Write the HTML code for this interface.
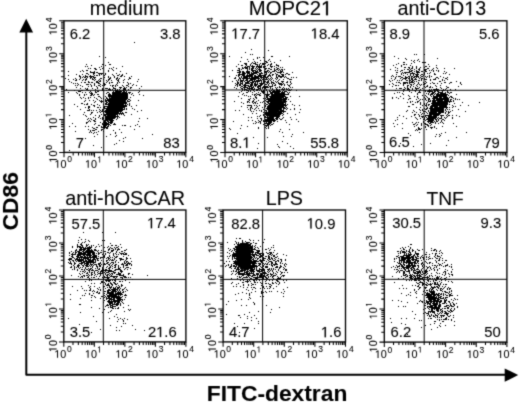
<!DOCTYPE html><html><head><meta charset="utf-8"><style>html,body{margin:0;padding:0;background:#fff;overflow:hidden;}svg{display:block;will-change:transform;}text{font-family:"Liberation Sans",sans-serif;fill:#000;stroke:#000;stroke-width:0.1px;}</style></head><body>
<svg width="520" height="403" viewBox="0 0 520 403">
<defs><filter id="bl" x="0" y="0" width="520" height="403" filterUnits="userSpaceOnUse"><feConvolveMatrix order="3" kernelMatrix="1 4 1 4 20 4 1 4 1" divisor="40" edgeMode="none"/></filter><path id="g1" d="M515 0V1237L197 1010V1180L530 1409H696V0Z" stroke="#000" stroke-width="25" stroke-linejoin="miter"/><path id="g1s" d="M515 0V1237L197 1010V1180L530 1409H696V0Z" stroke="#000" stroke-width="12"/></defs>
<g filter="url(#bl)">
<path d="M26.3 30 V374.8 H506" fill="none" stroke="#000" stroke-width="2" stroke-linejoin="round"/>
<polygon points="26.2,18.7 33.1,32.5 19.3,32.5" fill="#000"/>
<polygon points="518.2,375 504.7,368.4 504.7,381.8" fill="#000"/>
<text x="0" y="0" font-size="22.8" font-weight="bold" transform="translate(18.4,230.4) rotate(-90)">CD86</text>
<text x="206.74" y="401.1" font-size="22.8" font-weight="bold">FITC-dextran</text>
<path fill="#000" d="M113 98h1v1h-1zM106 114h1v1h-1zM119 92h1v1h-1zM115 103h1v1h-1zM109 119h1v1h-1zM113 94h1v1h-1zM114 97h1v1h-1zM119 106h1v1h-1zM118 106h1v1h-1zM107 116h1v1h-1zM114 93h1v1h-1zM108 110h1v1h-1zM119 93h1v1h-1zM119 109h1v1h-1zM108 116h1v1h-1zM113 112h1v1h-1zM118 109h1v1h-1zM115 99h1v1h-1zM123 101h1v1h-1zM116 108h1v1h-1zM111 116h1v1h-1zM111 114h1v1h-1zM112 101h1v1h-1zM121 95h1v1h-1zM123 95h1v1h-1zM116 106h1v1h-1zM115 98h1v1h-1zM106 118h1v1h-1zM109 104h1v1h-1zM113 111h1v1h-1zM106 119h1v1h-1zM121 94h1v1h-1zM120 104h1v1h-1zM114 98h1v1h-1zM122 96h1v1h-1zM115 116h1v1h-1zM113 96h1v1h-1zM122 93h1v1h-1zM123 102h1v1h-1zM113 99h1v1h-1zM109 114h1v1h-1zM110 113h1v1h-1zM127 101h1v1h-1zM108 123h1v1h-1zM105 118h1v1h-1zM125 96h1v1h-1zM107 120h1v1h-1zM120 93h1v1h-1zM109 120h1v1h-1zM117 97h1v1h-1zM117 93h1v1h-1zM108 103h1v1h-1zM108 109h1v1h-1zM112 113h1v1h-1zM118 99h1v1h-1zM105 126h1v1h-1zM111 110h1v1h-1zM108 111h1v1h-1zM114 102h1v1h-1zM112 95h1v1h-1zM112 115h1v1h-1zM113 97h1v1h-1zM117 111h1v1h-1zM119 91h1v1h-1zM117 112h1v1h-1zM114 114h1v1h-1zM117 94h1v1h-1zM119 107h1v1h-1zM123 107h1v1h-1zM115 109h1v1h-1zM112 117h1v1h-1zM113 109h1v1h-1zM124 98h1v1h-1zM122 101h1v1h-1zM118 111h1v1h-1zM119 95h1v1h-1zM108 114h1v1h-1zM125 93h1v1h-1zM105 117h1v1h-1zM126 92h1v1h-1zM120 96h1v1h-1zM120 112h1v1h-1zM121 104h1v1h-1zM115 110h1v1h-1zM117 98h1v1h-1zM110 120h1v1h-1zM119 97h1v1h-1zM121 101h1v1h-1zM115 115h1v1h-1zM107 113h1v1h-1zM124 92h1v1h-1zM112 110h1v1h-1zM113 118h1v1h-1zM122 106h1v1h-1zM109 117h1v1h-1zM124 102h1v1h-1zM109 110h1v1h-1zM115 93h1v1h-1zM105 125h1v1h-1zM127 95h1v1h-1zM122 110h1v1h-1zM110 121h1v1h-1zM112 116h1v1h-1zM112 105h1v1h-1zM127 94h1v1h-1zM109 105h1v1h-1zM105 119h1v1h-1zM110 106h1v1h-1zM110 103h1v1h-1zM112 107h1v1h-1zM111 120h1v1h-1zM111 108h1v1h-1zM111 105h1v1h-1zM117 108h1v1h-1zM112 94h1v1h-1zM124 93h1v1h-1zM120 99h1v1h-1zM111 117h1v1h-1zM116 95h1v1h-1zM118 98h1v1h-1zM112 108h1v1h-1zM119 114h1v1h-1zM110 109h1v1h-1zM122 109h1v1h-1zM124 99h1v1h-1zM106 120h1v1h-1zM120 97h1v1h-1zM110 111h1v1h-1zM112 111h1v1h-1zM117 101h1v1h-1zM114 100h1v1h-1zM117 114h1v1h-1zM125 103h1v1h-1zM109 113h1v1h-1zM114 106h1v1h-1zM126 98h1v1h-1zM124 100h1v1h-1zM120 109h1v1h-1zM126 97h1v1h-1zM106 123h1v1h-1zM111 100h1v1h-1zM113 102h1v1h-1zM112 98h1v1h-1zM106 109h1v1h-1zM107 124h1v1h-1zM122 100h1v1h-1zM110 100h1v1h-1zM109 101h1v1h-1zM120 102h1v1h-1zM120 108h1v1h-1zM111 115h1v1h-1zM116 93h1v1h-1zM125 102h1v1h-1zM118 104h1v1h-1zM117 102h1v1h-1zM120 95h1v1h-1zM107 115h1v1h-1zM122 95h1v1h-1zM106 117h1v1h-1zM118 110h1v1h-1zM113 114h1v1h-1zM116 94h1v1h-1zM117 103h1v1h-1zM118 103h1v1h-1zM114 108h1v1h-1zM112 97h1v1h-1zM122 92h1v1h-1zM113 113h1v1h-1zM127 93h1v1h-1zM124 105h1v1h-1zM121 91h1v1h-1zM119 98h1v1h-1zM107 126h1v1h-1zM111 103h1v1h-1zM122 102h1v1h-1zM117 113h1v1h-1zM117 107h1v1h-1zM112 106h1v1h-1zM108 107h1v1h-1zM108 117h1v1h-1zM115 94h1v1h-1zM126 102h1v1h-1zM116 111h1v1h-1zM119 110h1v1h-1zM118 107h1v1h-1zM117 100h1v1h-1zM120 111h1v1h-1zM113 93h1v1h-1zM112 112h1v1h-1zM116 113h1v1h-1zM124 101h1v1h-1zM105 127h1v1h-1zM119 108h1v1h-1zM124 91h1v1h-1zM115 114h1v1h-1zM109 99h1v1h-1zM116 114h1v1h-1zM114 107h1v1h-1zM114 110h1v1h-1zM107 118h1v1h-1zM116 101h1v1h-1zM105 124h1v1h-1zM126 96h1v1h-1zM111 104h1v1h-1zM120 105h1v1h-1zM109 111h1v1h-1zM116 98h1v1h-1zM114 103h1v1h-1zM127 97h1v1h-1zM113 105h1v1h-1zM121 100h1v1h-1zM120 103h1v1h-1zM125 101h1v1h-1zM111 122h1v1h-1zM117 116h1v1h-1zM110 115h1v1h-1zM116 116h1v1h-1zM124 103h1v1h-1zM122 104h1v1h-1zM112 103h1v1h-1zM116 91h1v1h-1zM119 100h1v1h-1zM108 106h1v1h-1zM107 114h1v1h-1zM118 102h1v1h-1zM116 103h1v1h-1zM122 98h1v1h-1zM125 97h1v1h-1zM116 110h1v1h-1zM123 105h1v1h-1zM118 101h1v1h-1zM112 100h1v1h-1zM121 93h1v1h-1zM124 97h1v1h-1zM116 100h1v1h-1zM117 109h1v1h-1zM116 109h1v1h-1zM108 105h1v1h-1zM119 102h1v1h-1zM115 104h1v1h-1zM118 105h1v1h-1zM123 98h1v1h-1zM128 101h1v1h-1zM123 90h1v1h-1zM109 115h1v1h-1zM112 102h1v1h-1zM110 112h1v1h-1zM120 100h1v1h-1zM110 105h1v1h-1zM116 92h1v1h-1zM108 112h1v1h-1zM124 95h1v1h-1zM118 91h1v1h-1zM110 116h1v1h-1zM121 106h1v1h-1zM125 92h1v1h-1zM120 92h1v1h-1zM125 99h1v1h-1zM105 123h1v1h-1zM112 109h1v1h-1zM118 100h1v1h-1zM121 107h1v1h-1zM111 118h1v1h-1zM105 122h1v1h-1zM114 112h1v1h-1zM114 92h1v1h-1zM112 114h1v1h-1zM123 103h1v1h-1zM122 97h1v1h-1zM108 121h1v1h-1zM121 99h1v1h-1zM124 106h1v1h-1zM108 108h1v1h-1zM118 94h1v1h-1zM116 96h1v1h-1zM105 115h1v1h-1zM122 90h1v1h-1zM126 94h1v1h-1zM113 117h1v1h-1zM113 103h1v1h-1zM121 109h1v1h-1zM115 105h1v1h-1zM112 104h1v1h-1zM117 92h1v1h-1zM123 97h1v1h-1zM114 99h1v1h-1zM111 98h1v1h-1zM110 107h1v1h-1zM114 118h1v1h-1zM112 118h1v1h-1zM123 104h1v1h-1zM123 93h1v1h-1zM119 105h1v1h-1zM112 120h1v1h-1zM121 110h1v1h-1zM123 94h1v1h-1zM109 102h1v1h-1zM124 94h1v1h-1zM121 105h1v1h-1zM123 96h1v1h-1zM109 116h1v1h-1zM111 109h1v1h-1zM111 97h1v1h-1zM117 95h1v1h-1zM114 116h1v1h-1zM121 108h1v1h-1zM119 96h1v1h-1zM115 96h1v1h-1zM114 115h1v1h-1zM112 119h1v1h-1zM115 112h1v1h-1zM109 107h1v1h-1zM109 122h1v1h-1zM119 103h1v1h-1zM112 92h1v1h-1zM110 118h1v1h-1zM121 98h1v1h-1zM123 100h1v1h-1zM106 124h1v1h-1zM124 96h1v1h-1zM126 93h1v1h-1zM117 91h1v1h-1zM108 118h1v1h-1zM122 94h1v1h-1zM116 104h1v1h-1zM107 121h1v1h-1zM119 101h1v1h-1zM107 123h1v1h-1zM109 108h1v1h-1zM111 112h1v1h-1zM113 115h1v1h-1zM111 123h1v1h-1zM124 108h1v1h-1zM106 113h1v1h-1zM120 101h1v1h-1zM111 121h1v1h-1zM123 99h1v1h-1zM111 95h1v1h-1zM110 98h1v1h-1zM117 99h1v1h-1zM114 101h1v1h-1zM107 111h1v1h-1zM125 95h1v1h-1zM126 95h1v1h-1zM113 106h1v1h-1zM107 109h1v1h-1zM114 96h1v1h-1zM123 106h1v1h-1zM109 106h1v1h-1zM109 118h1v1h-1zM106 112h1v1h-1zM115 108h1v1h-1zM114 104h1v1h-1zM112 93h1v1h-1zM114 94h1v1h-1zM117 96h1v1h-1zM121 102h1v1h-1zM104 126h1v1h-1zM110 104h1v1h-1zM117 110h1v1h-1zM106 122h1v1h-1zM126 103h1v1h-1zM123 91h1v1h-1zM119 104h1v1h-1zM120 110h1v1h-1zM119 113h1v1h-1zM125 106h1v1h-1zM107 119h1v1h-1zM115 95h1v1h-1zM111 111h1v1h-1zM117 115h1v1h-1zM110 96h1v1h-1zM109 103h1v1h-1zM119 111h1v1h-1zM111 107h1v1h-1zM114 113h1v1h-1zM125 105h1v1h-1zM123 92h1v1h-1zM110 102h1v1h-1zM121 103h1v1h-1zM105 116h1v1h-1zM122 105h1v1h-1zM106 110h1v1h-1zM111 101h1v1h-1zM109 97h1v1h-1zM107 112h1v1h-1zM117 106h1v1h-1zM115 92h1v1h-1zM104 122h1v1h-1zM125 100h1v1h-1zM113 91h1v1h-1zM114 109h1v1h-1zM110 108h1v1h-1zM114 95h1v1h-1zM113 116h1v1h-1zM116 112h1v1h-1zM106 125h1v1h-1zM109 112h1v1h-1zM120 94h1v1h-1zM115 113h1v1h-1zM118 95h1v1h-1zM125 94h1v1h-1zM117 104h1v1h-1zM122 99h1v1h-1zM112 96h1v1h-1zM128 99h1v1h-1zM108 124h1v1h-1zM110 119h1v1h-1zM118 112h1v1h-1zM113 101h1v1h-1zM103 126h1v1h-1zM116 102h1v1h-1zM118 93h1v1h-1zM112 99h1v1h-1zM113 107h1v1h-1zM104 123h1v1h-1zM115 107h1v1h-1zM127 98h1v1h-1zM126 91h1v1h-1zM113 95h1v1h-1zM119 94h1v1h-1zM109 109h1v1h-1zM104 114h1v1h-1zM125 104h1v1h-1zM104 120h1v1h-1zM108 122h1v1h-1zM107 100h1v1h-1zM108 95h1v1h-1zM107 108h1v1h-1zM108 104h1v1h-1zM124 109h1v1h-1zM105 104h1v1h-1zM109 124h1v1h-1zM110 114h1v1h-1zM110 122h1v1h-1zM129 105h1v1h-1zM125 90h1v1h-1zM108 99h1v1h-1zM121 113h1v1h-1zM110 90h1v1h-1zM102 111h1v1h-1zM103 113h1v1h-1zM127 100h1v1h-1zM106 108h1v1h-1zM121 97h1v1h-1zM122 103h1v1h-1zM108 94h1v1h-1zM114 117h1v1h-1zM115 91h1v1h-1zM108 126h1v1h-1zM121 114h1v1h-1zM131 94h1v1h-1zM122 108h1v1h-1zM116 90h1v1h-1zM118 116h1v1h-1zM120 88h1v1h-1zM111 99h1v1h-1zM113 110h1v1h-1zM125 89h1v1h-1zM108 125h1v1h-1zM120 91h1v1h-1zM109 93h1v1h-1zM102 118h1v1h-1zM103 122h1v1h-1zM112 121h1v1h-1zM101 127h1v1h-1zM113 104h1v1h-1zM113 120h1v1h-1zM128 92h1v1h-1zM101 111h1v1h-1zM105 106h1v1h-1zM103 124h1v1h-1zM126 109h1v1h-1zM126 108h1v1h-1zM102 110h1v1h-1zM107 117h1v1h-1zM124 87h1v1h-1zM121 87h1v1h-1zM127 104h1v1h-1zM106 111h1v1h-1zM102 129h1v1h-1zM104 106h1v1h-1zM106 127h1v1h-1zM103 131h1v1h-1zM116 99h1v1h-1zM125 98h1v1h-1zM128 89h1v1h-1zM115 86h1v1h-1zM117 117h1v1h-1zM108 100h1v1h-1zM101 126h1v1h-1zM102 119h1v1h-1zM107 106h1v1h-1zM117 118h1v1h-1zM128 86h1v1h-1zM115 117h1v1h-1zM108 96h1v1h-1zM101 129h1v1h-1zM104 128h1v1h-1zM119 117h1v1h-1zM115 88h1v1h-1zM123 114h1v1h-1zM133 95h1v1h-1zM102 117h1v1h-1zM103 125h1v1h-1zM129 92h1v1h-1zM106 101h1v1h-1zM104 127h1v1h-1zM116 119h1v1h-1zM109 100h1v1h-1zM115 101h1v1h-1zM111 106h1v1h-1zM106 102h1v1h-1zM115 100h1v1h-1zM123 113h1v1h-1zM117 90h1v1h-1zM104 115h1v1h-1zM113 92h1v1h-1zM112 122h1v1h-1zM115 111h1v1h-1zM123 88h1v1h-1zM123 89h1v1h-1zM121 111h1v1h-1zM120 113h1v1h-1zM108 119h1v1h-1zM104 124h1v1h-1zM115 90h1v1h-1zM107 102h1v1h-1zM118 113h1v1h-1zM117 89h1v1h-1zM102 109h1v1h-1zM126 106h1v1h-1zM129 99h1v1h-1zM127 96h1v1h-1zM101 114h1v1h-1zM112 89h1v1h-1zM106 103h1v1h-1zM100 122h1v1h-1zM126 105h1v1h-1zM114 124h1v1h-1zM126 87h1v1h-1zM129 101h1v1h-1zM105 100h1v1h-1zM130 87h1v1h-1zM126 99h1v1h-1zM107 104h1v1h-1zM119 89h1v1h-1zM102 123h1v1h-1zM124 88h1v1h-1zM103 112h1v1h-1zM111 119h1v1h-1zM129 103h1v1h-1zM103 127h1v1h-1zM129 104h1v1h-1zM104 121h1v1h-1zM107 107h1v1h-1zM122 107h1v1h-1zM104 125h1v1h-1zM108 89h1v1h-1zM124 107h1v1h-1zM130 92h1v1h-1zM125 88h1v1h-1zM122 112h1v1h-1zM107 128h1v1h-1zM107 88h1v1h-1zM106 128h1v1h-1zM105 108h1v1h-1zM103 107h1v1h-1zM110 94h1v1h-1zM103 104h1v1h-1zM130 97h1v1h-1zM120 90h1v1h-1zM106 93h1v1h-1zM105 121h1v1h-1zM109 96h1v1h-1zM102 127h1v1h-1zM104 107h1v1h-1zM110 89h1v1h-1zM106 106h1v1h-1zM102 124h1v1h-1zM129 93h1v1h-1zM124 89h1v1h-1zM122 113h1v1h-1zM106 97h1v1h-1zM123 109h1v1h-1zM100 118h1v1h-1zM107 92h1v1h-1zM106 104h1v1h-1zM109 94h1v1h-1zM107 98h1v1h-1zM105 111h1v1h-1zM106 116h1v1h-1zM107 99h1v1h-1zM106 98h1v1h-1zM105 114h1v1h-1zM104 111h1v1h-1zM105 120h1v1h-1zM106 100h1v1h-1zM105 110h1v1h-1zM105 99h1v1h-1zM105 103h1v1h-1zM108 101h1v1h-1zM103 109h1v1h-1zM105 112h1v1h-1zM104 108h1v1h-1zM105 96h1v1h-1zM109 98h1v1h-1zM105 101h1v1h-1zM108 92h1v1h-1zM107 110h1v1h-1zM80 85h1v1h-1zM99 81h1v1h-1zM85 79h1v1h-1zM97 88h1v1h-1zM90 72h1v1h-1zM68 79h1v1h-1zM94 77h1v1h-1zM79 79h1v1h-1zM75 78h1v1h-1zM99 73h1v1h-1zM68 71h1v1h-1zM76 87h1v1h-1zM80 78h1v1h-1zM102 73h1v1h-1zM95 69h1v1h-1zM86 76h1v1h-1zM108 76h1v1h-1zM79 75h1v1h-1zM76 92h1v1h-1zM94 73h1v1h-1zM97 91h1v1h-1zM88 68h1v1h-1zM82 90h1v1h-1zM93 74h1v1h-1zM96 86h1v1h-1zM76 79h1v1h-1zM90 68h1v1h-1zM91 76h1v1h-1zM84 77h1v1h-1zM91 77h1v1h-1zM97 72h1v1h-1zM76 80h1v1h-1zM80 71h1v1h-1zM82 86h1v1h-1zM86 84h1v1h-1zM99 67h1v1h-1zM98 82h1v1h-1zM92 76h1v1h-1zM93 79h1v1h-1zM93 73h1v1h-1zM104 77h1v1h-1zM100 86h1v1h-1zM104 75h1v1h-1zM92 79h1v1h-1zM86 70h1v1h-1zM94 80h1v1h-1zM85 75h1v1h-1zM92 72h1v1h-1zM66 89h1v1h-1zM87 84h1v1h-1zM83 79h1v1h-1zM85 92h1v1h-1zM98 80h1v1h-1zM96 69h1v1h-1zM99 74h1v1h-1zM85 88h1v1h-1zM75 85h1v1h-1zM91 92h1v1h-1zM96 98h1v1h-1zM92 88h1v1h-1zM82 70h1v1h-1zM97 75h1v1h-1zM71 82h1v1h-1zM87 70h1v1h-1zM80 76h1v1h-1zM83 71h1v1h-1zM100 69h1v1h-1zM100 73h1v1h-1zM90 77h1v1h-1zM111 68h1v1h-1zM88 74h1v1h-1zM90 71h1v1h-1zM104 85h1v1h-1zM85 82h1v1h-1zM86 79h1v1h-1zM99 79h1v1h-1zM78 91h1v1h-1zM82 77h1v1h-1zM69 81h1v1h-1zM109 68h1v1h-1zM83 76h1v1h-1zM94 75h1v1h-1zM80 91h1v1h-1zM108 71h1v1h-1zM77 83h1v1h-1zM85 80h1v1h-1zM108 62h1v1h-1zM94 72h1v1h-1zM92 94h1v1h-1zM101 73h1v1h-1zM90 75h1v1h-1zM95 89h1v1h-1zM87 88h1v1h-1zM81 82h1v1h-1zM79 76h1v1h-1zM80 77h1v1h-1zM87 89h1v1h-1zM94 84h1v1h-1zM92 82h1v1h-1zM91 86h1v1h-1zM91 82h1v1h-1zM88 82h1v1h-1zM96 75h1v1h-1zM93 77h1v1h-1zM101 66h1v1h-1zM86 78h1v1h-1zM105 57h1v1h-1zM86 64h1v1h-1zM92 78h1v1h-1zM95 68h1v1h-1zM88 86h1v1h-1zM95 79h1v1h-1zM100 84h1v1h-1zM97 87h1v1h-1zM96 82h1v1h-1zM75 80h1v1h-1zM102 64h1v1h-1zM91 85h1v1h-1zM68 92h1v1h-1zM99 56h1v1h-1zM93 72h1v1h-1zM93 76h1v1h-1zM89 82h1v1h-1zM93 95h1v1h-1zM97 81h1v1h-1zM109 64h1v1h-1zM102 89h1v1h-1zM100 78h1v1h-1zM90 76h1v1h-1zM80 88h1v1h-1zM90 84h1v1h-1zM95 77h1v1h-1zM91 72h1v1h-1zM87 73h1v1h-1zM75 83h1v1h-1zM79 91h1v1h-1zM76 74h1v1h-1zM65 78h1v1h-1zM81 90h1v1h-1zM98 73h1v1h-1zM77 85h1v1h-1zM73 79h1v1h-1zM94 85h1v1h-1zM94 83h1v1h-1zM90 78h1v1h-1zM87 66h1v1h-1zM88 81h1v1h-1zM95 91h1v1h-1zM84 95h1v1h-1zM86 73h1v1h-1zM79 95h1v1h-1zM86 89h1v1h-1zM88 84h1v1h-1zM105 65h1v1h-1zM94 78h1v1h-1zM122 66h1v1h-1zM87 76h1v1h-1zM91 65h1v1h-1zM102 68h1v1h-1zM94 102h1v1h-1zM94 71h1v1h-1zM124 79h1v1h-1zM113 67h1v1h-1zM103 64h1v1h-1zM96 81h1v1h-1zM98 83h1v1h-1zM94 68h1v1h-1zM105 73h1v1h-1zM105 74h1v1h-1zM85 77h1v1h-1zM117 78h1v1h-1zM82 80h1v1h-1zM98 85h1v1h-1zM117 77h1v1h-1zM103 67h1v1h-1zM87 77h1v1h-1zM100 81h1v1h-1zM85 76h1v1h-1zM116 68h1v1h-1zM116 84h1v1h-1zM74 90h1v1h-1zM90 93h1v1h-1zM103 79h1v1h-1zM73 83h1v1h-1zM109 83h1v1h-1zM90 91h1v1h-1zM89 76h1v1h-1zM110 64h1v1h-1zM78 84h1v1h-1zM85 66h1v1h-1zM108 79h1v1h-1zM120 87h1v1h-1zM99 85h1v1h-1zM82 74h1v1h-1zM68 75h1v1h-1zM84 82h1v1h-1zM117 85h1v1h-1zM97 82h1v1h-1zM114 76h1v1h-1zM130 83h1v1h-1zM119 87h1v1h-1zM109 89h1v1h-1zM128 79h1v1h-1zM110 78h1v1h-1zM109 88h1v1h-1zM129 78h1v1h-1zM126 85h1v1h-1zM111 82h1v1h-1zM96 72h1v1h-1zM118 80h1v1h-1zM118 79h1v1h-1zM101 78h1v1h-1zM126 73h1v1h-1zM119 78h1v1h-1zM109 78h1v1h-1zM113 87h1v1h-1zM116 79h1v1h-1zM109 82h1v1h-1zM113 70h1v1h-1zM113 88h1v1h-1zM123 82h1v1h-1zM101 74h1v1h-1zM114 88h1v1h-1zM104 83h1v1h-1zM118 75h1v1h-1zM102 88h1v1h-1zM131 76h1v1h-1zM118 81h1v1h-1zM104 84h1v1h-1zM117 80h1v1h-1zM119 82h1v1h-1zM108 80h1v1h-1zM110 77h1v1h-1zM121 75h1v1h-1zM141 86h1v1h-1zM117 82h1v1h-1zM114 77h1v1h-1zM120 76h1v1h-1zM130 88h1v1h-1zM115 89h1v1h-1zM105 88h1v1h-1zM102 90h1v1h-1zM105 84h1v1h-1zM137 81h1v1h-1zM116 78h1v1h-1zM102 85h1v1h-1zM110 95h1v1h-1zM117 83h1v1h-1zM112 82h1v1h-1zM112 69h1v1h-1zM129 77h1v1h-1zM127 82h1v1h-1zM99 75h1v1h-1zM103 83h1v1h-1zM107 81h1v1h-1zM112 85h1v1h-1zM117 75h1v1h-1zM123 86h1v1h-1zM92 93h1v1h-1zM120 71h1v1h-1zM108 77h1v1h-1zM113 75h1v1h-1zM128 83h1v1h-1zM121 76h1v1h-1zM106 90h1v1h-1zM123 80h1v1h-1zM115 85h1v1h-1zM106 82h1v1h-1zM112 86h1v1h-1zM106 88h1v1h-1zM116 73h1v1h-1zM109 79h1v1h-1zM99 83h1v1h-1zM122 75h1v1h-1zM112 74h1v1h-1zM127 85h1v1h-1zM124 76h1v1h-1zM110 85h1v1h-1zM108 70h1v1h-1zM109 95h1v1h-1zM111 80h1v1h-1zM100 80h1v1h-1zM106 80h1v1h-1zM113 85h1v1h-1zM122 85h1v1h-1zM97 127h1v1h-1zM94 136h1v1h-1zM88 106h1v1h-1zM85 98h1v1h-1zM102 101h1v1h-1zM95 115h1v1h-1zM95 123h1v1h-1zM77 93h1v1h-1zM87 103h1v1h-1zM85 107h1v1h-1zM99 111h1v1h-1zM103 98h1v1h-1zM96 127h1v1h-1zM93 130h1v1h-1zM99 100h1v1h-1zM93 100h1v1h-1zM96 132h1v1h-1zM95 119h1v1h-1zM94 132h1v1h-1zM100 110h1v1h-1zM83 97h1v1h-1zM88 126h1v1h-1zM93 133h1v1h-1zM100 112h1v1h-1zM99 125h1v1h-1zM101 102h1v1h-1zM85 115h1v1h-1zM80 97h1v1h-1zM89 106h1v1h-1zM88 107h1v1h-1zM96 110h1v1h-1zM87 104h1v1h-1zM88 118h1v1h-1zM96 92h1v1h-1zM91 94h1v1h-1zM84 112h1v1h-1zM100 97h1v1h-1zM95 101h1v1h-1zM99 105h1v1h-1zM84 94h1v1h-1zM90 118h1v1h-1zM85 100h1v1h-1zM91 104h1v1h-1zM95 118h1v1h-1zM96 129h1v1h-1zM89 92h1v1h-1zM87 110h1v1h-1zM89 110h1v1h-1zM88 108h1v1h-1zM92 112h1v1h-1zM101 100h1v1h-1zM98 125h1v1h-1zM94 105h1v1h-1zM97 94h1v1h-1zM94 97h1v1h-1zM88 129h1v1h-1zM98 107h1v1h-1zM94 120h1v1h-1zM97 99h1v1h-1zM95 129h1v1h-1zM94 124h1v1h-1zM94 128h1v1h-1zM82 103h1v1h-1zM93 117h1v1h-1zM86 122h1v1h-1zM89 120h1v1h-1zM90 130h1v1h-1zM97 104h1v1h-1zM91 93h1v1h-1zM90 131h1v1h-1zM93 120h1v1h-1zM99 109h1v1h-1zM98 94h1v1h-1zM91 119h1v1h-1zM103 118h1v1h-1zM86 123h1v1h-1zM89 107h1v1h-1zM83 114h1v1h-1zM94 94h1v1h-1zM86 94h1v1h-1zM90 95h1v1h-1zM91 113h1v1h-1zM88 110h1v1h-1zM84 104h1v1h-1zM98 117h1v1h-1zM101 98h1v1h-1zM82 92h1v1h-1zM81 98h1v1h-1zM89 109h1v1h-1zM91 132h1v1h-1zM81 103h1v1h-1zM89 100h1v1h-1zM90 114h1v1h-1zM87 122h1v1h-1zM90 121h1v1h-1zM95 92h1v1h-1zM89 132h1v1h-1zM88 98h1v1h-1zM100 101h1v1h-1zM84 101h1v1h-1zM97 112h1v1h-1zM101 101h1v1h-1zM99 115h1v1h-1zM91 95h1v1h-1zM88 97h1v1h-1zM98 96h1v1h-1zM97 107h1v1h-1zM86 104h1v1h-1zM99 96h1v1h-1zM79 94h1v1h-1zM93 105h1v1h-1zM91 110h1v1h-1zM98 131h1v1h-1zM94 130h1v1h-1zM92 127h1v1h-1zM88 121h1v1h-1zM98 91h1v1h-1zM86 116h1v1h-1zM88 90h1v1h-1zM91 112h1v1h-1zM106 136h1v1h-1zM147 118h1v1h-1zM122 125h1v1h-1zM115 136h1v1h-1zM114 144h1v1h-1zM113 124h1v1h-1zM124 125h1v1h-1zM137 124h1v1h-1zM115 124h1v1h-1zM115 133h1v1h-1zM130 126h1v1h-1zM123 141h1v1h-1zM139 126h1v1h-1zM101 147h1v1h-1zM137 111h1v1h-1zM121 132h1v1h-1zM116 135h1v1h-1zM95 121h1v1h-1zM125 125h1v1h-1zM125 112h1v1h-1zM138 121h1v1h-1zM139 88h1v1h-1zM114 123h1v1h-1zM152 134h1v1h-1zM110 134h1v1h-1zM124 115h1v1h-1zM107 127h1v1h-1zM94 121h1v1h-1zM113 130h1v1h-1zM123 138h1v1h-1zM134 129h1v1h-1zM110 125h1v1h-1zM125 137h1v1h-1zM119 140h1v1h-1zM119 129h1v1h-1zM99 116h1v1h-1zM110 123h1v1h-1zM135 125h1v1h-1zM139 118h1v1h-1zM97 134h1v1h-1zM142 138h1v1h-1zM143 95h1v1h-1zM132 85h1v1h-1zM136 105h1v1h-1zM138 100h1v1h-1zM131 106h1v1h-1zM131 114h1v1h-1zM118 92h1v1h-1zM131 87h1v1h-1zM130 78h1v1h-1zM119 74h1v1h-1zM138 79h1v1h-1zM128 84h1v1h-1zM138 92h1v1h-1zM139 91h1v1h-1zM126 112h1v1h-1zM122 74h1v1h-1zM132 108h1v1h-1zM132 93h1v1h-1zM130 100h1v1h-1zM133 84h1v1h-1zM134 109h1v1h-1zM141 110h1v1h-1zM136 85h1v1h-1zM139 94h1v1h-1zM93 128h1v1h-1zM87 119h1v1h-1zM100 107h1v1h-1zM80 109h1v1h-1zM115 132h1v1h-1zM90 97h1v1h-1zM75 131h1v1h-1zM94 106h1v1h-1zM85 138h1v1h-1zM72 123h1v1h-1zM69 115h1v1h-1zM93 145h1v1h-1zM116 143h1v1h-1zM74 104h1v1h-1zM85 126h1v1h-1zM101 130h1v1h-1zM93 110h1v1h-1zM69 150h1v1h-1zM77 106h1v1h-1zM75 126h1v1h-1zM92 130h1v1h-1zM69 126h1v1h-1zM134 42h1v1h-1z"/><polygon fill="#000" points="114,92.5 125,92.5 125.5,100 122.5,106.5 117,112 111,118.5 107,122 106.5,114 109,102 111,96"/>
<rect x="64" y="20.8" width="121.8" height="131.6" fill="none" stroke="#000" stroke-width="1.35"/>
<path d="M103.7 20.8 V152.4 M64 90.3 H185.8" stroke="#000" stroke-width="1" fill="none"/>
<path d="M64 152.4 v4.8 M64 152.4 h-4.8 M73.17 152.4 v3.0 M64 142.5 h-3.0 M78.53 152.4 v3.0 M64 136.7 h-3.0 M82.33 152.4 v3.0 M64 132.59 h-3.0 M85.28 152.4 v3.0 M64 129.4 h-3.0 M87.69 152.4 v3.0 M64 126.8 h-3.0 M89.73 152.4 v3.0 M64 124.6 h-3.0 M91.5 152.4 v3.0 M64 122.69 h-3.0 M93.06 152.4 v3.0 M64 121.01 h-3.0 M94.45 152.4 v4.8 M64 119.5 h-4.8 M103.62 152.4 v3.0 M64 109.6 h-3.0 M108.98 152.4 v3.0 M64 103.8 h-3.0 M112.78 152.4 v3.0 M64 99.69 h-3.0 M115.73 152.4 v3.0 M64 96.5 h-3.0 M118.14 152.4 v3.0 M64 93.9 h-3.0 M120.18 152.4 v3.0 M64 91.7 h-3.0 M121.95 152.4 v3.0 M64 89.79 h-3.0 M123.51 152.4 v3.0 M64 88.11 h-3.0 M124.9 152.4 v4.8 M64 86.6 h-4.8 M134.07 152.4 v3.0 M64 76.7 h-3.0 M139.43 152.4 v3.0 M64 70.9 h-3.0 M143.23 152.4 v3.0 M64 66.79 h-3.0 M146.18 152.4 v3.0 M64 63.6 h-3.0 M148.59 152.4 v3.0 M64 61 h-3.0 M150.63 152.4 v3.0 M64 58.8 h-3.0 M152.4 152.4 v3.0 M64 56.89 h-3.0 M153.96 152.4 v3.0 M64 55.21 h-3.0 M155.35 152.4 v4.8 M64 53.7 h-4.8 M164.52 152.4 v3.0 M64 43.8 h-3.0 M169.88 152.4 v3.0 M64 38 h-3.0 M173.68 152.4 v3.0 M64 33.89 h-3.0 M176.63 152.4 v3.0 M64 30.7 h-3.0 M179.04 152.4 v3.0 M64 28.1 h-3.0 M181.08 152.4 v3.0 M64 25.9 h-3.0 M182.85 152.4 v3.0 M64 23.99 h-3.0 M184.41 152.4 v3.0 M64 22.31 h-3.0 M185.8 152.4 v4.8 M64 20.8 h-4.8" stroke="#000" stroke-width="1.05" fill="none"/>
<use href="#g1s" transform="translate(54.56,167.8) scale(0.00527,-0.00527)"/><text x="60.57" y="167.8" font-size="10.8" stroke-width="0.05">0</text><text x="67.27" y="162.4" font-size="8.5" stroke-width="0.05">0</text>
<use href="#g1s" transform="translate(85.01,167.8) scale(0.00527,-0.00527)"/><text x="91.02" y="167.8" font-size="10.8" stroke-width="0.05">0</text><use href="#g1s" transform="translate(97.23,162.4) scale(0.00415,-0.00415)"/>
<use href="#g1s" transform="translate(115.46,167.8) scale(0.00527,-0.00527)"/><text x="121.47" y="167.8" font-size="10.8" stroke-width="0.05">0</text><text x="128.07" y="162.4" font-size="8.5" stroke-width="0.05">2</text>
<use href="#g1s" transform="translate(145.91,167.8) scale(0.00527,-0.00527)"/><text x="151.92" y="167.8" font-size="10.8" stroke-width="0.05">0</text><text x="158.63" y="162.4" font-size="8.5" stroke-width="0.05">3</text>
<use href="#g1s" transform="translate(176.36,167.8) scale(0.00527,-0.00527)"/><text x="182.37" y="167.8" font-size="10.8" stroke-width="0.05">0</text><text x="189.2" y="162.4" font-size="8.5" stroke-width="0.05">4</text>
<g transform="translate(56.8,152.4) rotate(-90)"><use href="#g1s" transform="translate(-10.24,0) scale(0.00527,-0.00527)"/><text x="-4.23" y="0" font-size="10.8" stroke-width="0.05">0</text><text x="2.67" y="-5.3" font-size="8.5" stroke-width="0.05">0</text></g>
<g transform="translate(56.8,119.5) rotate(-90)"><use href="#g1s" transform="translate(-10.24,0) scale(0.00527,-0.00527)"/><text x="-4.23" y="0" font-size="10.8" stroke-width="0.05">0</text><use href="#g1s" transform="translate(2.18,-5.3) scale(0.00415,-0.00415)"/></g>
<g transform="translate(56.8,86.6) rotate(-90)"><use href="#g1s" transform="translate(-10.24,0) scale(0.00527,-0.00527)"/><text x="-4.23" y="0" font-size="10.8" stroke-width="0.05">0</text><text x="2.57" y="-5.3" font-size="8.5" stroke-width="0.05">2</text></g>
<g transform="translate(56.8,53.7) rotate(-90)"><use href="#g1s" transform="translate(-10.24,0) scale(0.00527,-0.00527)"/><text x="-4.23" y="0" font-size="10.8" stroke-width="0.05">0</text><text x="2.68" y="-5.3" font-size="8.5" stroke-width="0.05">3</text></g>
<g transform="translate(56.8,25) rotate(-90)"><use href="#g1s" transform="translate(-10.24,0) scale(0.00527,-0.00527)"/><text x="-4.23" y="0" font-size="10.8" stroke-width="0.05">0</text><text x="2.8" y="-5.3" font-size="8.5" stroke-width="0.05">4</text></g>
<text x="89.84" y="15.2" font-size="19.6">medium</text>
<text x="69.71" y="38.9" font-size="14.8">6.2</text>
<text x="159.95" y="38.8" font-size="14.8">3.8</text>
<text x="75.83" y="147.6" font-size="14.8">7</text>
<text x="163.22" y="147.6" font-size="14.8">83</text>
<path fill="#000" d="M276 114h1v1h-1zM275 118h1v1h-1zM281 105h1v1h-1zM268 118h1v1h-1zM281 98h1v1h-1zM268 119h1v1h-1zM282 104h1v1h-1zM276 110h1v1h-1zM280 107h1v1h-1zM274 112h1v1h-1zM276 94h1v1h-1zM275 115h1v1h-1zM271 93h1v1h-1zM282 103h1v1h-1zM278 105h1v1h-1zM268 124h1v1h-1zM276 104h1v1h-1zM281 96h1v1h-1zM273 114h1v1h-1zM277 101h1v1h-1zM266 125h1v1h-1zM275 98h1v1h-1zM282 93h1v1h-1zM270 112h1v1h-1zM282 92h1v1h-1zM279 93h1v1h-1zM285 100h1v1h-1zM274 115h1v1h-1zM273 108h1v1h-1zM277 118h1v1h-1zM273 97h1v1h-1zM281 100h1v1h-1zM279 102h1v1h-1zM281 97h1v1h-1zM269 112h1v1h-1zM282 94h1v1h-1zM284 107h1v1h-1zM269 124h1v1h-1zM279 112h1v1h-1zM279 106h1v1h-1zM275 93h1v1h-1zM283 97h1v1h-1zM281 103h1v1h-1zM275 103h1v1h-1zM273 96h1v1h-1zM271 99h1v1h-1zM272 101h1v1h-1zM284 95h1v1h-1zM271 96h1v1h-1zM271 118h1v1h-1zM274 93h1v1h-1zM275 94h1v1h-1zM273 118h1v1h-1zM278 95h1v1h-1zM273 113h1v1h-1zM269 109h1v1h-1zM283 101h1v1h-1zM274 92h1v1h-1zM276 102h1v1h-1zM272 109h1v1h-1zM271 120h1v1h-1zM280 109h1v1h-1zM277 94h1v1h-1zM273 103h1v1h-1zM273 117h1v1h-1zM272 112h1v1h-1zM275 112h1v1h-1zM272 118h1v1h-1zM270 104h1v1h-1zM283 99h1v1h-1zM283 100h1v1h-1zM281 94h1v1h-1zM273 95h1v1h-1zM276 115h1v1h-1zM267 112h1v1h-1zM281 101h1v1h-1zM269 113h1v1h-1zM270 119h1v1h-1zM275 101h1v1h-1zM274 102h1v1h-1zM272 105h1v1h-1zM269 111h1v1h-1zM278 111h1v1h-1zM273 100h1v1h-1zM274 121h1v1h-1zM275 114h1v1h-1zM280 96h1v1h-1zM276 103h1v1h-1zM270 100h1v1h-1zM278 113h1v1h-1zM275 97h1v1h-1zM277 100h1v1h-1zM274 99h1v1h-1zM280 112h1v1h-1zM272 117h1v1h-1zM281 113h1v1h-1zM282 111h1v1h-1zM273 111h1v1h-1zM266 119h1v1h-1zM273 98h1v1h-1zM271 112h1v1h-1zM273 116h1v1h-1zM278 104h1v1h-1zM276 96h1v1h-1zM272 100h1v1h-1zM271 117h1v1h-1zM275 108h1v1h-1zM274 111h1v1h-1zM270 118h1v1h-1zM283 103h1v1h-1zM283 95h1v1h-1zM277 98h1v1h-1zM267 121h1v1h-1zM276 118h1v1h-1zM281 92h1v1h-1zM272 103h1v1h-1zM283 105h1v1h-1zM284 99h1v1h-1zM278 108h1v1h-1zM283 96h1v1h-1zM277 115h1v1h-1zM278 115h1v1h-1zM274 107h1v1h-1zM279 96h1v1h-1zM277 111h1v1h-1zM272 107h1v1h-1zM283 98h1v1h-1zM272 99h1v1h-1zM272 115h1v1h-1zM278 96h1v1h-1zM274 94h1v1h-1zM272 102h1v1h-1zM269 122h1v1h-1zM277 96h1v1h-1zM282 107h1v1h-1zM269 103h1v1h-1zM280 97h1v1h-1zM271 102h1v1h-1zM269 116h1v1h-1zM270 102h1v1h-1zM280 101h1v1h-1zM276 116h1v1h-1zM273 101h1v1h-1zM283 93h1v1h-1zM267 119h1v1h-1zM281 104h1v1h-1zM274 110h1v1h-1zM280 113h1v1h-1zM279 116h1v1h-1zM279 98h1v1h-1zM284 104h1v1h-1zM270 114h1v1h-1zM284 98h1v1h-1zM281 109h1v1h-1zM268 117h1v1h-1zM276 108h1v1h-1zM267 120h1v1h-1zM277 99h1v1h-1zM271 94h1v1h-1zM273 121h1v1h-1zM268 115h1v1h-1zM272 114h1v1h-1zM276 93h1v1h-1zM272 113h1v1h-1zM266 121h1v1h-1zM268 109h1v1h-1zM285 98h1v1h-1zM271 122h1v1h-1zM266 117h1v1h-1zM277 116h1v1h-1zM280 111h1v1h-1zM270 107h1v1h-1zM275 92h1v1h-1zM268 122h1v1h-1zM275 113h1v1h-1zM278 94h1v1h-1zM280 110h1v1h-1zM269 101h1v1h-1zM275 110h1v1h-1zM278 100h1v1h-1zM274 95h1v1h-1zM271 106h1v1h-1zM272 119h1v1h-1zM275 106h1v1h-1zM280 98h1v1h-1zM270 123h1v1h-1zM267 118h1v1h-1zM271 108h1v1h-1zM278 93h1v1h-1zM279 107h1v1h-1zM272 97h1v1h-1zM274 109h1v1h-1zM277 106h1v1h-1zM267 117h1v1h-1zM274 113h1v1h-1zM279 101h1v1h-1zM271 115h1v1h-1zM278 102h1v1h-1zM270 122h1v1h-1zM268 123h1v1h-1zM273 107h1v1h-1zM276 99h1v1h-1zM274 120h1v1h-1zM267 115h1v1h-1zM277 105h1v1h-1zM275 111h1v1h-1zM281 106h1v1h-1zM273 112h1v1h-1zM267 125h1v1h-1zM282 106h1v1h-1zM285 97h1v1h-1zM278 114h1v1h-1zM273 109h1v1h-1zM278 101h1v1h-1zM280 103h1v1h-1zM273 115h1v1h-1zM267 116h1v1h-1zM269 119h1v1h-1zM277 92h1v1h-1zM271 95h1v1h-1zM270 103h1v1h-1zM267 123h1v1h-1zM272 96h1v1h-1zM278 91h1v1h-1zM275 116h1v1h-1zM269 105h1v1h-1zM274 108h1v1h-1zM281 99h1v1h-1zM282 95h1v1h-1zM271 98h1v1h-1zM276 97h1v1h-1zM265 123h1v1h-1zM270 93h1v1h-1zM276 100h1v1h-1zM285 103h1v1h-1zM273 102h1v1h-1zM284 108h1v1h-1zM277 114h1v1h-1zM275 104h1v1h-1zM269 104h1v1h-1zM277 95h1v1h-1zM283 92h1v1h-1zM284 93h1v1h-1zM266 120h1v1h-1zM274 116h1v1h-1zM284 101h1v1h-1zM272 108h1v1h-1zM284 100h1v1h-1zM269 114h1v1h-1zM281 110h1v1h-1zM278 103h1v1h-1zM265 125h1v1h-1zM278 112h1v1h-1zM276 111h1v1h-1zM268 121h1v1h-1zM271 113h1v1h-1zM285 104h1v1h-1zM275 100h1v1h-1zM267 113h1v1h-1zM275 105h1v1h-1zM269 120h1v1h-1zM280 104h1v1h-1zM276 106h1v1h-1zM281 112h1v1h-1zM277 107h1v1h-1zM269 110h1v1h-1zM274 97h1v1h-1zM270 99h1v1h-1zM274 101h1v1h-1zM270 105h1v1h-1zM278 97h1v1h-1zM269 100h1v1h-1zM274 105h1v1h-1zM270 98h1v1h-1zM272 106h1v1h-1zM280 94h1v1h-1zM268 114h1v1h-1zM277 97h1v1h-1zM274 106h1v1h-1zM270 113h1v1h-1zM279 113h1v1h-1zM272 98h1v1h-1zM271 105h1v1h-1zM283 104h1v1h-1zM270 120h1v1h-1zM286 101h1v1h-1zM282 105h1v1h-1zM283 110h1v1h-1zM279 92h1v1h-1zM279 95h1v1h-1zM269 108h1v1h-1zM269 106h1v1h-1zM269 123h1v1h-1zM271 97h1v1h-1zM280 106h1v1h-1zM284 96h1v1h-1zM283 108h1v1h-1zM278 98h1v1h-1zM270 121h1v1h-1zM270 109h1v1h-1zM277 93h1v1h-1zM281 111h1v1h-1zM272 120h1v1h-1zM283 111h1v1h-1zM280 95h1v1h-1zM273 120h1v1h-1zM281 93h1v1h-1zM272 104h1v1h-1zM272 95h1v1h-1zM270 115h1v1h-1zM283 107h1v1h-1zM282 96h1v1h-1zM265 120h1v1h-1zM277 109h1v1h-1zM277 113h1v1h-1zM269 117h1v1h-1zM279 111h1v1h-1zM278 92h1v1h-1zM276 95h1v1h-1zM275 91h1v1h-1zM279 103h1v1h-1zM278 117h1v1h-1zM266 126h1v1h-1zM273 94h1v1h-1zM273 119h1v1h-1zM278 106h1v1h-1zM279 109h1v1h-1zM269 121h1v1h-1zM273 106h1v1h-1zM285 96h1v1h-1zM271 100h1v1h-1zM281 107h1v1h-1zM279 105h1v1h-1zM283 109h1v1h-1zM277 104h1v1h-1zM280 93h1v1h-1zM280 105h1v1h-1zM283 94h1v1h-1zM280 100h1v1h-1zM277 102h1v1h-1zM285 102h1v1h-1zM273 104h1v1h-1zM279 94h1v1h-1zM265 119h1v1h-1zM274 100h1v1h-1zM273 110h1v1h-1zM278 116h1v1h-1zM268 108h1v1h-1zM276 117h1v1h-1zM282 102h1v1h-1zM269 107h1v1h-1zM271 107h1v1h-1zM282 97h1v1h-1zM285 94h1v1h-1zM278 109h1v1h-1zM282 110h1v1h-1zM275 96h1v1h-1zM271 124h1v1h-1zM277 117h1v1h-1zM275 99h1v1h-1zM270 101h1v1h-1zM268 112h1v1h-1zM285 99h1v1h-1zM280 108h1v1h-1zM284 102h1v1h-1zM274 98h1v1h-1zM283 106h1v1h-1zM279 100h1v1h-1zM283 102h1v1h-1zM286 98h1v1h-1zM273 105h1v1h-1zM269 99h1v1h-1zM275 120h1v1h-1zM279 114h1v1h-1zM276 113h1v1h-1zM268 120h1v1h-1zM281 108h1v1h-1zM272 92h1v1h-1zM284 105h1v1h-1zM285 101h1v1h-1zM280 102h1v1h-1zM270 117h1v1h-1zM280 114h1v1h-1zM271 121h1v1h-1zM281 102h1v1h-1zM272 93h1v1h-1zM285 108h1v1h-1zM279 115h1v1h-1zM271 109h1v1h-1zM276 119h1v1h-1zM271 111h1v1h-1zM278 110h1v1h-1zM285 106h1v1h-1zM277 119h1v1h-1zM282 115h1v1h-1zM278 99h1v1h-1zM287 92h1v1h-1zM267 107h1v1h-1zM267 93h1v1h-1zM268 106h1v1h-1zM272 124h1v1h-1zM269 98h1v1h-1zM268 125h1v1h-1zM268 128h1v1h-1zM265 103h1v1h-1zM265 106h1v1h-1zM282 113h1v1h-1zM267 124h1v1h-1zM268 100h1v1h-1zM286 99h1v1h-1zM283 114h1v1h-1zM267 91h1v1h-1zM280 119h1v1h-1zM275 102h1v1h-1zM265 112h1v1h-1zM268 107h1v1h-1zM263 112h1v1h-1zM285 105h1v1h-1zM284 92h1v1h-1zM267 102h1v1h-1zM265 100h1v1h-1zM267 101h1v1h-1zM281 119h1v1h-1zM280 91h1v1h-1zM266 101h1v1h-1zM277 121h1v1h-1zM264 107h1v1h-1zM269 96h1v1h-1zM266 110h1v1h-1zM286 105h1v1h-1zM263 115h1v1h-1zM284 111h1v1h-1zM268 101h1v1h-1zM267 106h1v1h-1zM286 89h1v1h-1zM267 114h1v1h-1zM266 122h1v1h-1zM276 98h1v1h-1zM286 97h1v1h-1zM288 99h1v1h-1zM273 92h1v1h-1zM270 110h1v1h-1zM270 106h1v1h-1zM267 99h1v1h-1zM286 109h1v1h-1zM276 90h1v1h-1zM286 107h1v1h-1zM271 101h1v1h-1zM286 94h1v1h-1zM270 116h1v1h-1zM271 104h1v1h-1zM264 121h1v1h-1zM266 99h1v1h-1zM265 94h1v1h-1zM274 114h1v1h-1zM267 92h1v1h-1zM263 114h1v1h-1zM270 125h1v1h-1zM276 109h1v1h-1zM274 119h1v1h-1zM268 102h1v1h-1zM266 96h1v1h-1zM269 94h1v1h-1zM282 99h1v1h-1zM284 91h1v1h-1zM268 126h1v1h-1zM265 110h1v1h-1zM279 99h1v1h-1zM269 90h1v1h-1zM287 97h1v1h-1zM272 116h1v1h-1zM284 94h1v1h-1zM283 112h1v1h-1zM268 94h1v1h-1zM265 113h1v1h-1zM290 109h1v1h-1zM283 90h1v1h-1zM279 118h1v1h-1zM268 127h1v1h-1zM266 108h1v1h-1zM271 92h1v1h-1zM277 89h1v1h-1zM270 97h1v1h-1zM285 111h1v1h-1zM273 123h1v1h-1zM263 109h1v1h-1zM263 120h1v1h-1zM286 91h1v1h-1zM271 114h1v1h-1zM279 91h1v1h-1zM274 104h1v1h-1zM264 123h1v1h-1zM265 105h1v1h-1zM271 119h1v1h-1zM287 108h1v1h-1zM273 90h1v1h-1zM268 111h1v1h-1zM276 91h1v1h-1zM266 104h1v1h-1zM268 110h1v1h-1zM268 99h1v1h-1zM265 98h1v1h-1zM267 96h1v1h-1zM266 113h1v1h-1zM269 115h1v1h-1zM267 95h1v1h-1zM266 115h1v1h-1zM267 109h1v1h-1zM266 97h1v1h-1zM270 96h1v1h-1zM267 94h1v1h-1zM267 104h1v1h-1zM266 112h1v1h-1zM268 105h1v1h-1zM267 98h1v1h-1zM269 118h1v1h-1zM270 108h1v1h-1zM265 114h1v1h-1zM270 92h1v1h-1zM266 95h1v1h-1zM266 123h1v1h-1zM268 103h1v1h-1zM268 95h1v1h-1zM266 94h1v1h-1zM266 114h1v1h-1zM267 97h1v1h-1zM268 113h1v1h-1zM267 108h1v1h-1zM268 98h1v1h-1zM266 111h1v1h-1zM265 116h1v1h-1zM245 87h1v1h-1zM255 81h1v1h-1zM250 80h1v1h-1zM257 68h1v1h-1zM238 64h1v1h-1zM247 81h1v1h-1zM262 84h1v1h-1zM264 66h1v1h-1zM256 90h1v1h-1zM262 83h1v1h-1zM248 86h1v1h-1zM251 66h1v1h-1zM246 63h1v1h-1zM235 77h1v1h-1zM252 69h1v1h-1zM247 83h1v1h-1zM248 66h1v1h-1zM261 78h1v1h-1zM253 86h1v1h-1zM260 70h1v1h-1zM259 86h1v1h-1zM250 82h1v1h-1zM241 86h1v1h-1zM248 81h1v1h-1zM251 86h1v1h-1zM245 80h1v1h-1zM239 75h1v1h-1zM264 81h1v1h-1zM264 64h1v1h-1zM240 81h1v1h-1zM269 83h1v1h-1zM235 85h1v1h-1zM242 80h1v1h-1zM258 89h1v1h-1zM238 68h1v1h-1zM243 71h1v1h-1zM249 73h1v1h-1zM261 76h1v1h-1zM237 84h1v1h-1zM259 73h1v1h-1zM266 89h1v1h-1zM257 66h1v1h-1zM243 85h1v1h-1zM238 80h1v1h-1zM239 74h1v1h-1zM251 89h1v1h-1zM262 87h1v1h-1zM242 82h1v1h-1zM247 76h1v1h-1zM251 77h1v1h-1zM257 80h1v1h-1zM252 79h1v1h-1zM257 65h1v1h-1zM248 85h1v1h-1zM244 87h1v1h-1zM247 87h1v1h-1zM252 81h1v1h-1zM247 77h1v1h-1zM263 63h1v1h-1zM252 78h1v1h-1zM240 83h1v1h-1zM250 78h1v1h-1zM254 76h1v1h-1zM249 74h1v1h-1zM264 87h1v1h-1zM247 75h1v1h-1zM262 79h1v1h-1zM240 85h1v1h-1zM244 73h1v1h-1zM251 68h1v1h-1zM258 80h1v1h-1zM245 77h1v1h-1zM253 81h1v1h-1zM260 75h1v1h-1zM260 87h1v1h-1zM247 67h1v1h-1zM241 83h1v1h-1zM246 80h1v1h-1zM255 63h1v1h-1zM257 64h1v1h-1zM269 86h1v1h-1zM253 90h1v1h-1zM255 84h1v1h-1zM246 87h1v1h-1zM240 80h1v1h-1zM251 85h1v1h-1zM242 84h1v1h-1zM253 77h1v1h-1zM258 79h1v1h-1zM249 80h1v1h-1zM246 79h1v1h-1zM245 64h1v1h-1zM261 72h1v1h-1zM259 67h1v1h-1zM264 92h1v1h-1zM261 70h1v1h-1zM243 74h1v1h-1zM252 83h1v1h-1zM248 90h1v1h-1zM244 63h1v1h-1zM245 83h1v1h-1zM254 72h1v1h-1zM246 85h1v1h-1zM256 69h1v1h-1zM248 88h1v1h-1zM257 86h1v1h-1zM263 83h1v1h-1zM244 84h1v1h-1zM259 83h1v1h-1zM256 72h1v1h-1zM260 85h1v1h-1zM247 85h1v1h-1zM255 77h1v1h-1zM266 79h1v1h-1zM247 69h1v1h-1zM260 77h1v1h-1zM246 89h1v1h-1zM238 76h1v1h-1zM248 75h1v1h-1zM243 68h1v1h-1zM242 67h1v1h-1zM240 87h1v1h-1zM257 90h1v1h-1zM264 86h1v1h-1zM256 71h1v1h-1zM256 64h1v1h-1zM242 90h1v1h-1zM253 79h1v1h-1zM246 68h1v1h-1zM252 92h1v1h-1zM247 66h1v1h-1zM251 88h1v1h-1zM249 88h1v1h-1zM260 63h1v1h-1zM243 77h1v1h-1zM262 77h1v1h-1zM242 75h1v1h-1zM258 77h1v1h-1zM242 78h1v1h-1zM252 75h1v1h-1zM242 86h1v1h-1zM252 89h1v1h-1zM261 82h1v1h-1zM259 88h1v1h-1zM237 81h1v1h-1zM263 67h1v1h-1zM258 66h1v1h-1zM241 88h1v1h-1zM237 70h1v1h-1zM258 86h1v1h-1zM257 84h1v1h-1zM260 66h1v1h-1zM262 92h1v1h-1zM253 71h1v1h-1zM251 74h1v1h-1zM236 84h1v1h-1zM257 77h1v1h-1zM265 84h1v1h-1zM252 66h1v1h-1zM240 74h1v1h-1zM247 70h1v1h-1zM246 83h1v1h-1zM256 67h1v1h-1zM245 89h1v1h-1zM263 75h1v1h-1zM244 78h1v1h-1zM238 79h1v1h-1zM247 72h1v1h-1zM244 72h1v1h-1zM256 81h1v1h-1zM259 68h1v1h-1zM264 91h1v1h-1zM254 81h1v1h-1zM260 79h1v1h-1zM244 89h1v1h-1zM249 69h1v1h-1zM256 77h1v1h-1zM239 72h1v1h-1zM247 88h1v1h-1zM260 83h1v1h-1zM265 88h1v1h-1zM242 68h1v1h-1zM246 76h1v1h-1zM266 74h1v1h-1zM259 90h1v1h-1zM252 73h1v1h-1zM262 91h1v1h-1zM250 75h1v1h-1zM234 78h1v1h-1zM242 94h1v1h-1zM242 72h1v1h-1zM255 68h1v1h-1zM260 71h1v1h-1zM263 87h1v1h-1zM238 75h1v1h-1zM244 67h1v1h-1zM251 63h1v1h-1zM237 86h1v1h-1zM250 74h1v1h-1zM249 66h1v1h-1zM248 72h1v1h-1zM257 76h1v1h-1zM247 80h1v1h-1zM245 67h1v1h-1zM261 90h1v1h-1zM246 77h1v1h-1zM241 81h1v1h-1zM256 66h1v1h-1zM252 67h1v1h-1zM260 60h1v1h-1zM265 63h1v1h-1zM236 75h1v1h-1zM258 87h1v1h-1zM254 85h1v1h-1zM256 73h1v1h-1zM262 63h1v1h-1zM250 65h1v1h-1zM260 89h1v1h-1zM264 72h1v1h-1zM253 67h1v1h-1zM246 64h1v1h-1zM238 74h1v1h-1zM241 74h1v1h-1zM250 85h1v1h-1zM255 72h1v1h-1zM254 78h1v1h-1zM251 84h1v1h-1zM239 69h1v1h-1zM253 68h1v1h-1zM247 78h1v1h-1zM264 76h1v1h-1zM240 78h1v1h-1zM262 73h1v1h-1zM252 87h1v1h-1zM244 86h1v1h-1zM259 81h1v1h-1zM255 75h1v1h-1zM261 77h1v1h-1zM242 73h1v1h-1zM259 69h1v1h-1zM261 65h1v1h-1zM246 65h1v1h-1zM253 78h1v1h-1zM238 82h1v1h-1zM258 88h1v1h-1zM256 80h1v1h-1zM245 86h1v1h-1zM248 83h1v1h-1zM248 71h1v1h-1zM259 70h1v1h-1zM263 66h1v1h-1zM265 71h1v1h-1zM265 74h1v1h-1zM250 91h1v1h-1zM248 91h1v1h-1zM248 78h1v1h-1zM265 87h1v1h-1zM264 85h1v1h-1zM259 85h1v1h-1zM242 65h1v1h-1zM262 75h1v1h-1zM242 81h1v1h-1zM252 62h1v1h-1zM235 83h1v1h-1zM259 65h1v1h-1zM251 75h1v1h-1zM264 75h1v1h-1zM263 80h1v1h-1zM243 78h1v1h-1zM249 83h1v1h-1zM259 78h1v1h-1zM243 87h1v1h-1zM262 88h1v1h-1zM257 78h1v1h-1zM257 87h1v1h-1zM252 85h1v1h-1zM255 83h1v1h-1zM246 71h1v1h-1zM264 88h1v1h-1zM244 77h1v1h-1zM262 64h1v1h-1zM266 73h1v1h-1zM242 71h1v1h-1zM246 72h1v1h-1zM263 64h1v1h-1zM243 75h1v1h-1zM266 84h1v1h-1zM254 70h1v1h-1zM258 92h1v1h-1zM241 80h1v1h-1zM261 83h1v1h-1zM235 78h1v1h-1zM257 81h1v1h-1zM258 81h1v1h-1zM255 64h1v1h-1zM240 71h1v1h-1zM259 75h1v1h-1zM245 78h1v1h-1zM250 76h1v1h-1zM254 63h1v1h-1zM259 76h1v1h-1zM244 75h1v1h-1zM239 85h1v1h-1zM261 80h1v1h-1zM237 82h1v1h-1zM241 76h1v1h-1zM246 78h1v1h-1zM248 82h1v1h-1zM238 72h1v1h-1zM250 79h1v1h-1zM245 68h1v1h-1zM260 69h1v1h-1zM243 72h1v1h-1zM268 81h1v1h-1zM253 89h1v1h-1zM252 88h1v1h-1zM253 72h1v1h-1zM261 91h1v1h-1zM237 85h1v1h-1zM263 78h1v1h-1zM256 89h1v1h-1zM249 67h1v1h-1zM256 93h1v1h-1zM258 69h1v1h-1zM253 63h1v1h-1zM260 84h1v1h-1zM236 88h1v1h-1zM249 86h1v1h-1zM260 67h1v1h-1zM245 66h1v1h-1zM256 85h1v1h-1zM258 85h1v1h-1zM263 81h1v1h-1zM243 76h1v1h-1zM265 66h1v1h-1zM258 67h1v1h-1zM250 90h1v1h-1zM244 88h1v1h-1zM261 85h1v1h-1zM250 84h1v1h-1zM244 90h1v1h-1zM254 66h1v1h-1zM265 79h1v1h-1zM242 88h1v1h-1zM263 90h1v1h-1zM251 70h1v1h-1zM249 87h1v1h-1zM254 79h1v1h-1zM261 67h1v1h-1zM255 62h1v1h-1zM250 86h1v1h-1zM260 74h1v1h-1zM263 77h1v1h-1zM240 84h1v1h-1zM255 73h1v1h-1zM253 66h1v1h-1zM264 63h1v1h-1zM240 72h1v1h-1zM263 79h1v1h-1zM263 82h1v1h-1zM249 71h1v1h-1zM249 72h1v1h-1zM252 77h1v1h-1zM255 86h1v1h-1zM244 74h1v1h-1zM257 62h1v1h-1zM254 80h1v1h-1zM252 65h1v1h-1zM265 68h1v1h-1zM245 63h1v1h-1zM255 82h1v1h-1zM261 81h1v1h-1zM268 80h1v1h-1zM255 76h1v1h-1zM239 78h1v1h-1zM239 73h1v1h-1zM247 71h1v1h-1zM265 75h1v1h-1zM257 71h1v1h-1zM265 81h1v1h-1zM252 80h1v1h-1zM248 73h1v1h-1zM255 85h1v1h-1zM243 79h1v1h-1zM257 74h1v1h-1zM257 82h1v1h-1zM260 76h1v1h-1zM253 87h1v1h-1zM246 82h1v1h-1zM255 79h1v1h-1zM261 66h1v1h-1zM256 76h1v1h-1zM239 84h1v1h-1zM260 73h1v1h-1zM253 59h1v1h-1zM238 83h1v1h-1zM239 68h1v1h-1zM251 83h1v1h-1zM266 78h1v1h-1zM264 67h1v1h-1zM259 71h1v1h-1zM265 72h1v1h-1zM242 83h1v1h-1zM259 64h1v1h-1zM260 80h1v1h-1zM234 87h1v1h-1zM242 74h1v1h-1zM260 86h1v1h-1zM258 72h1v1h-1zM240 79h1v1h-1zM257 89h1v1h-1zM252 70h1v1h-1zM252 68h1v1h-1zM250 64h1v1h-1zM243 80h1v1h-1zM257 70h1v1h-1zM237 83h1v1h-1zM258 76h1v1h-1zM238 70h1v1h-1zM263 86h1v1h-1zM266 87h1v1h-1zM251 82h1v1h-1zM237 72h1v1h-1zM250 88h1v1h-1zM258 75h1v1h-1zM253 74h1v1h-1zM254 89h1v1h-1zM239 71h1v1h-1zM252 82h1v1h-1zM246 67h1v1h-1zM252 76h1v1h-1zM241 77h1v1h-1zM266 82h1v1h-1zM254 84h1v1h-1zM258 78h1v1h-1zM241 65h1v1h-1zM281 69h1v1h-1zM271 86h1v1h-1zM270 88h1v1h-1zM281 72h1v1h-1zM288 85h1v1h-1zM287 94h1v1h-1zM279 75h1v1h-1zM275 85h1v1h-1zM286 73h1v1h-1zM281 89h1v1h-1zM274 66h1v1h-1zM270 87h1v1h-1zM267 86h1v1h-1zM276 88h1v1h-1zM282 74h1v1h-1zM269 91h1v1h-1zM269 74h1v1h-1zM270 66h1v1h-1zM276 67h1v1h-1zM265 76h1v1h-1zM271 66h1v1h-1zM282 91h1v1h-1zM271 72h1v1h-1zM270 61h1v1h-1zM277 68h1v1h-1zM265 86h1v1h-1zM286 77h1v1h-1zM268 76h1v1h-1zM278 82h1v1h-1zM284 77h1v1h-1zM282 75h1v1h-1zM270 86h1v1h-1zM269 79h1v1h-1zM277 65h1v1h-1zM266 77h1v1h-1zM280 83h1v1h-1zM267 81h1v1h-1zM279 79h1v1h-1zM278 75h1v1h-1zM272 71h1v1h-1zM289 74h1v1h-1zM291 79h1v1h-1zM281 76h1v1h-1zM282 82h1v1h-1zM270 76h1v1h-1zM274 70h1v1h-1zM276 92h1v1h-1zM281 71h1v1h-1zM278 72h1v1h-1zM277 81h1v1h-1zM281 77h1v1h-1zM281 74h1v1h-1zM273 82h1v1h-1zM278 83h1v1h-1zM284 85h1v1h-1zM266 61h1v1h-1zM276 64h1v1h-1zM271 63h1v1h-1zM288 88h1v1h-1zM281 84h1v1h-1zM283 72h1v1h-1zM272 78h1v1h-1zM266 71h1v1h-1zM274 62h1v1h-1zM279 76h1v1h-1zM282 81h1v1h-1zM271 81h1v1h-1zM282 89h1v1h-1zM269 68h1v1h-1zM283 74h1v1h-1zM274 85h1v1h-1zM272 85h1v1h-1zM290 81h1v1h-1zM287 81h1v1h-1zM278 80h1v1h-1zM272 86h1v1h-1zM270 78h1v1h-1zM283 75h1v1h-1zM270 65h1v1h-1zM291 83h1v1h-1zM276 75h1v1h-1zM282 88h1v1h-1zM277 74h1v1h-1zM296 77h1v1h-1zM270 73h1v1h-1zM280 77h1v1h-1zM275 81h1v1h-1zM268 72h1v1h-1zM281 83h1v1h-1zM271 69h1v1h-1zM266 62h1v1h-1zM272 94h1v1h-1zM280 87h1v1h-1zM284 69h1v1h-1zM266 68h1v1h-1zM277 90h1v1h-1zM264 82h1v1h-1zM288 78h1v1h-1zM277 91h1v1h-1zM282 84h1v1h-1zM280 84h1v1h-1zM279 87h1v1h-1zM276 65h1v1h-1zM273 74h1v1h-1zM278 65h1v1h-1zM284 89h1v1h-1zM269 75h1v1h-1zM271 83h1v1h-1zM269 59h1v1h-1zM271 82h1v1h-1zM278 68h1v1h-1zM272 66h1v1h-1zM267 62h1v1h-1zM271 77h1v1h-1zM272 84h1v1h-1zM270 75h1v1h-1zM269 71h1v1h-1zM282 70h1v1h-1zM265 77h1v1h-1zM272 75h1v1h-1zM279 83h1v1h-1zM272 89h1v1h-1zM275 84h1v1h-1zM280 70h1v1h-1zM271 90h1v1h-1zM270 80h1v1h-1zM279 69h1v1h-1zM266 86h1v1h-1zM266 90h1v1h-1zM263 91h1v1h-1zM272 88h1v1h-1zM277 77h1v1h-1zM289 85h1v1h-1zM274 69h1v1h-1zM273 91h1v1h-1zM286 82h1v1h-1zM275 70h1v1h-1zM267 76h1v1h-1zM290 90h1v1h-1zM272 74h1v1h-1zM280 76h1v1h-1zM278 70h1v1h-1zM282 69h1v1h-1zM280 67h1v1h-1zM283 76h1v1h-1zM289 90h1v1h-1zM267 82h1v1h-1zM268 87h1v1h-1zM272 91h1v1h-1zM274 90h1v1h-1zM283 83h1v1h-1zM287 78h1v1h-1zM280 72h1v1h-1zM277 87h1v1h-1zM268 85h1v1h-1zM268 70h1v1h-1zM287 89h1v1h-1zM276 71h1v1h-1zM267 83h1v1h-1zM279 89h1v1h-1zM277 78h1v1h-1zM283 89h1v1h-1zM274 91h1v1h-1zM279 86h1v1h-1zM279 90h1v1h-1zM292 72h1v1h-1zM279 84h1v1h-1zM271 67h1v1h-1zM266 72h1v1h-1zM274 83h1v1h-1zM276 74h1v1h-1zM281 85h1v1h-1zM290 79h1v1h-1zM282 76h1v1h-1zM289 89h1v1h-1zM277 69h1v1h-1zM278 90h1v1h-1zM270 69h1v1h-1zM276 76h1v1h-1zM289 79h1v1h-1zM276 82h1v1h-1zM279 72h1v1h-1zM282 67h1v1h-1zM276 89h1v1h-1zM287 84h1v1h-1zM283 79h1v1h-1zM268 68h1v1h-1zM270 91h1v1h-1zM271 64h1v1h-1zM265 69h1v1h-1zM287 82h1v1h-1zM275 73h1v1h-1zM293 77h1v1h-1zM268 75h1v1h-1zM274 68h1v1h-1zM290 82h1v1h-1zM292 87h1v1h-1zM273 83h1v1h-1zM265 61h1v1h-1zM277 72h1v1h-1zM288 93h1v1h-1zM271 79h1v1h-1zM291 77h1v1h-1zM290 84h1v1h-1zM267 77h1v1h-1zM273 71h1v1h-1zM267 79h1v1h-1zM268 78h1v1h-1zM276 79h1v1h-1zM286 88h1v1h-1zM273 80h1v1h-1zM288 94h1v1h-1zM285 91h1v1h-1zM291 89h1v1h-1zM275 78h1v1h-1zM278 66h1v1h-1zM276 77h1v1h-1zM276 69h1v1h-1zM289 92h1v1h-1zM268 84h1v1h-1zM278 76h1v1h-1zM283 81h1v1h-1zM267 65h1v1h-1zM274 71h1v1h-1zM275 87h1v1h-1zM267 70h1v1h-1zM281 81h1v1h-1zM268 60h1v1h-1zM288 74h1v1h-1zM284 84h1v1h-1zM282 71h1v1h-1zM285 74h1v1h-1zM270 72h1v1h-1zM280 71h1v1h-1zM285 76h1v1h-1zM287 73h1v1h-1zM267 87h1v1h-1zM283 87h1v1h-1zM272 82h1v1h-1zM268 82h1v1h-1zM288 90h1v1h-1zM280 73h1v1h-1zM284 88h1v1h-1zM268 64h1v1h-1zM246 90h1v1h-1zM244 85h1v1h-1zM245 76h1v1h-1zM239 77h1v1h-1zM247 79h1v1h-1zM248 76h1v1h-1zM240 82h1v1h-1zM232 81h1v1h-1zM255 78h1v1h-1zM253 70h1v1h-1zM249 68h1v1h-1zM245 85h1v1h-1zM257 72h1v1h-1zM255 71h1v1h-1zM249 76h1v1h-1zM242 89h1v1h-1zM253 73h1v1h-1zM229 76h1v1h-1zM243 73h1v1h-1zM247 68h1v1h-1zM247 82h1v1h-1zM247 74h1v1h-1zM245 82h1v1h-1zM251 69h1v1h-1zM263 76h1v1h-1zM249 77h1v1h-1zM254 75h1v1h-1zM251 73h1v1h-1zM259 74h1v1h-1zM232 70h1v1h-1zM260 88h1v1h-1zM244 76h1v1h-1zM255 70h1v1h-1zM239 70h1v1h-1zM254 77h1v1h-1zM254 83h1v1h-1zM252 74h1v1h-1zM245 73h1v1h-1zM253 82h1v1h-1zM248 61h1v1h-1zM249 75h1v1h-1zM256 84h1v1h-1zM257 83h1v1h-1zM254 73h1v1h-1zM251 72h1v1h-1zM264 71h1v1h-1zM244 81h1v1h-1zM240 61h1v1h-1zM261 84h1v1h-1zM259 66h1v1h-1zM251 87h1v1h-1zM236 80h1v1h-1zM249 81h1v1h-1zM261 73h1v1h-1zM252 71h1v1h-1zM267 71h1v1h-1zM245 84h1v1h-1zM256 95h1v1h-1zM251 79h1v1h-1zM241 69h1v1h-1zM254 61h1v1h-1zM249 78h1v1h-1zM251 78h1v1h-1zM247 92h1v1h-1zM251 80h1v1h-1zM256 78h1v1h-1zM247 73h1v1h-1zM246 75h1v1h-1zM252 84h1v1h-1zM259 80h1v1h-1zM251 76h1v1h-1zM261 75h1v1h-1zM255 102h1v1h-1zM261 110h1v1h-1zM254 91h1v1h-1zM260 121h1v1h-1zM258 122h1v1h-1zM255 94h1v1h-1zM258 100h1v1h-1zM259 95h1v1h-1zM250 105h1v1h-1zM248 101h1v1h-1zM248 96h1v1h-1zM249 105h1v1h-1zM248 109h1v1h-1zM258 128h1v1h-1zM261 111h1v1h-1zM256 107h1v1h-1zM257 106h1v1h-1zM251 111h1v1h-1zM248 99h1v1h-1zM265 127h1v1h-1zM265 121h1v1h-1zM244 95h1v1h-1zM264 117h1v1h-1zM239 92h1v1h-1zM254 105h1v1h-1zM260 102h1v1h-1zM263 121h1v1h-1zM249 99h1v1h-1zM256 101h1v1h-1zM252 94h1v1h-1zM256 113h1v1h-1zM256 97h1v1h-1zM243 93h1v1h-1zM260 118h1v1h-1zM253 101h1v1h-1zM241 91h1v1h-1zM251 105h1v1h-1zM261 119h1v1h-1zM255 123h1v1h-1zM257 116h1v1h-1zM248 117h1v1h-1zM247 101h1v1h-1zM255 103h1v1h-1zM251 106h1v1h-1zM263 124h1v1h-1zM260 123h1v1h-1zM253 111h1v1h-1zM255 97h1v1h-1zM247 105h1v1h-1zM252 108h1v1h-1zM255 108h1v1h-1zM252 102h1v1h-1zM260 122h1v1h-1zM256 110h1v1h-1zM247 102h1v1h-1zM263 98h1v1h-1zM255 121h1v1h-1zM253 100h1v1h-1zM256 98h1v1h-1zM250 98h1v1h-1zM250 110h1v1h-1zM246 92h1v1h-1zM261 118h1v1h-1zM250 96h1v1h-1zM262 102h1v1h-1zM247 90h1v1h-1zM252 101h1v1h-1zM260 93h1v1h-1zM261 120h1v1h-1zM241 98h1v1h-1zM248 105h1v1h-1zM249 100h1v1h-1zM257 103h1v1h-1zM258 127h1v1h-1zM263 93h1v1h-1zM259 94h1v1h-1zM250 109h1v1h-1zM254 102h1v1h-1zM259 121h1v1h-1zM254 95h1v1h-1zM256 122h1v1h-1zM247 107h1v1h-1zM260 95h1v1h-1zM256 105h1v1h-1zM264 116h1v1h-1zM258 94h1v1h-1zM249 102h1v1h-1zM251 107h1v1h-1zM259 116h1v1h-1zM255 96h1v1h-1zM259 110h1v1h-1zM263 101h1v1h-1zM254 88h1v1h-1zM254 99h1v1h-1zM249 89h1v1h-1zM262 107h1v1h-1zM266 128h1v1h-1zM263 92h1v1h-1zM260 115h1v1h-1zM238 96h1v1h-1zM241 125h1v1h-1zM230 129h1v1h-1zM247 126h1v1h-1zM233 121h1v1h-1zM267 137h1v1h-1zM257 118h1v1h-1zM252 120h1v1h-1zM248 120h1v1h-1zM257 94h1v1h-1zM239 110h1v1h-1zM243 114h1v1h-1zM254 94h1v1h-1zM241 106h1v1h-1zM253 137h1v1h-1zM252 113h1v1h-1zM250 107h1v1h-1zM258 108h1v1h-1zM259 105h1v1h-1zM258 120h1v1h-1zM254 109h1v1h-1zM243 103h1v1h-1zM240 128h1v1h-1zM241 102h1v1h-1zM246 95h1v1h-1zM265 117h1v1h-1zM258 143h1v1h-1zM257 148h1v1h-1zM253 103h1v1h-1zM229 128h1v1h-1zM237 133h1v1h-1zM251 117h1v1h-1zM253 123h1v1h-1zM235 110h1v1h-1zM234 101h1v1h-1zM253 98h1v1h-1zM250 108h1v1h-1zM291 136h1v1h-1zM282 118h1v1h-1zM294 109h1v1h-1zM290 101h1v1h-1zM285 120h1v1h-1zM294 105h1v1h-1zM300 109h1v1h-1zM286 122h1v1h-1zM287 104h1v1h-1zM289 124h1v1h-1zM283 136h1v1h-1zM290 96h1v1h-1zM289 129h1v1h-1zM299 96h1v1h-1zM296 119h1v1h-1zM296 90h1v1h-1zM290 87h1v1h-1zM289 86h1v1h-1zM283 117h1v1h-1zM295 114h1v1h-1zM282 132h1v1h-1zM290 117h1v1h-1zM299 105h1v1h-1zM291 119h1v1h-1zM294 108h1v1h-1zM299 112h1v1h-1zM280 129h1v1h-1zM287 113h1v1h-1zM292 104h1v1h-1zM298 121h1v1h-1zM270 64h1v1h-1zM264 60h1v1h-1zM236 66h1v1h-1zM257 58h1v1h-1zM252 54h1v1h-1zM247 59h1v1h-1zM229 56h1v1h-1zM241 57h1v1h-1zM272 56h1v1h-1zM268 50h1v1h-1zM289 56h1v1h-1zM257 57h1v1h-1zM280 60h1v1h-1zM245 52h1v1h-1zM251 49h1v1h-1zM250 54h1v1h-1zM271 56h1v1h-1zM259 57h1v1h-1zM263 57h1v1h-1zM293 148h1v1h-1zM277 144h1v1h-1zM279 131h1v1h-1zM287 143h1v1h-1zM292 134h1v1h-1zM279 147h1v1h-1zM282 141h1v1h-1zM278 146h1v1h-1zM303 132h1v1h-1zM290 146h1v1h-1z"/><polygon fill="#000" points="273,95 282,94.5 283,102 281,109 276,115 271,119 268,120 269,112 271,103"/>
<rect x="225" y="20.8" width="122.3" height="131.6" fill="none" stroke="#000" stroke-width="1.35"/>
<path d="M264.7 20.8 V152.4 M225 90 H347.3" stroke="#000" stroke-width="1" fill="none"/>
<path d="M225 152.4 v4.8 M225 152.4 h-4.8 M234.2 152.4 v3.0 M225 142.5 h-3.0 M239.59 152.4 v3.0 M225 136.7 h-3.0 M243.41 152.4 v3.0 M225 132.59 h-3.0 M246.37 152.4 v3.0 M225 129.4 h-3.0 M248.79 152.4 v3.0 M225 126.8 h-3.0 M250.84 152.4 v3.0 M225 124.6 h-3.0 M252.61 152.4 v3.0 M225 122.69 h-3.0 M254.18 152.4 v3.0 M225 121.01 h-3.0 M255.57 152.4 v4.8 M225 119.5 h-4.8 M264.78 152.4 v3.0 M225 109.6 h-3.0 M270.16 152.4 v3.0 M225 103.8 h-3.0 M273.98 152.4 v3.0 M225 99.69 h-3.0 M276.95 152.4 v3.0 M225 96.5 h-3.0 M279.37 152.4 v3.0 M225 93.9 h-3.0 M281.41 152.4 v3.0 M225 91.7 h-3.0 M283.19 152.4 v3.0 M225 89.79 h-3.0 M284.75 152.4 v3.0 M225 88.11 h-3.0 M286.15 152.4 v4.8 M225 86.6 h-4.8 M295.35 152.4 v3.0 M225 76.7 h-3.0 M300.74 152.4 v3.0 M225 70.9 h-3.0 M304.56 152.4 v3.0 M225 66.79 h-3.0 M307.52 152.4 v3.0 M225 63.6 h-3.0 M309.94 152.4 v3.0 M225 61 h-3.0 M311.99 152.4 v3.0 M225 58.8 h-3.0 M313.76 152.4 v3.0 M225 56.89 h-3.0 M315.33 152.4 v3.0 M225 55.21 h-3.0 M316.73 152.4 v4.8 M225 53.7 h-4.8 M325.93 152.4 v3.0 M225 43.8 h-3.0 M331.31 152.4 v3.0 M225 38 h-3.0 M335.13 152.4 v3.0 M225 33.89 h-3.0 M338.1 152.4 v3.0 M225 30.7 h-3.0 M340.52 152.4 v3.0 M225 28.1 h-3.0 M342.56 152.4 v3.0 M225 25.9 h-3.0 M344.34 152.4 v3.0 M225 23.99 h-3.0 M345.9 152.4 v3.0 M225 22.31 h-3.0 M347.3 152.4 v4.8 M225 20.8 h-4.8" stroke="#000" stroke-width="1.05" fill="none"/>
<use href="#g1s" transform="translate(215.56,167.8) scale(0.00527,-0.00527)"/><text x="221.57" y="167.8" font-size="10.8" stroke-width="0.05">0</text><text x="228.27" y="162.4" font-size="8.5" stroke-width="0.05">0</text>
<use href="#g1s" transform="translate(246.14,167.8) scale(0.00527,-0.00527)"/><text x="252.14" y="167.8" font-size="10.8" stroke-width="0.05">0</text><use href="#g1s" transform="translate(258.36,162.4) scale(0.00415,-0.00415)"/>
<use href="#g1s" transform="translate(276.71,167.8) scale(0.00527,-0.00527)"/><text x="282.72" y="167.8" font-size="10.8" stroke-width="0.05">0</text><text x="289.32" y="162.4" font-size="8.5" stroke-width="0.05">2</text>
<use href="#g1s" transform="translate(307.29,167.8) scale(0.00527,-0.00527)"/><text x="313.29" y="167.8" font-size="10.8" stroke-width="0.05">0</text><text x="320" y="162.4" font-size="8.5" stroke-width="0.05">3</text>
<use href="#g1s" transform="translate(337.86,167.8) scale(0.00527,-0.00527)"/><text x="343.87" y="167.8" font-size="10.8" stroke-width="0.05">0</text><text x="350.7" y="162.4" font-size="8.5" stroke-width="0.05">4</text>
<g transform="translate(217.8,152.4) rotate(-90)"><use href="#g1s" transform="translate(-10.24,0) scale(0.00527,-0.00527)"/><text x="-4.23" y="0" font-size="10.8" stroke-width="0.05">0</text><text x="2.67" y="-5.3" font-size="8.5" stroke-width="0.05">0</text></g>
<g transform="translate(217.8,119.5) rotate(-90)"><use href="#g1s" transform="translate(-10.24,0) scale(0.00527,-0.00527)"/><text x="-4.23" y="0" font-size="10.8" stroke-width="0.05">0</text><use href="#g1s" transform="translate(2.18,-5.3) scale(0.00415,-0.00415)"/></g>
<g transform="translate(217.8,86.6) rotate(-90)"><use href="#g1s" transform="translate(-10.24,0) scale(0.00527,-0.00527)"/><text x="-4.23" y="0" font-size="10.8" stroke-width="0.05">0</text><text x="2.57" y="-5.3" font-size="8.5" stroke-width="0.05">2</text></g>
<g transform="translate(217.8,53.7) rotate(-90)"><use href="#g1s" transform="translate(-10.24,0) scale(0.00527,-0.00527)"/><text x="-4.23" y="0" font-size="10.8" stroke-width="0.05">0</text><text x="2.68" y="-5.3" font-size="8.5" stroke-width="0.05">3</text></g>
<g transform="translate(217.8,25) rotate(-90)"><use href="#g1s" transform="translate(-10.24,0) scale(0.00527,-0.00527)"/><text x="-4.23" y="0" font-size="10.8" stroke-width="0.05">0</text><text x="2.8" y="-5.3" font-size="8.5" stroke-width="0.05">4</text></g>
<text x="248.82" y="15.2" font-size="20.3">MOPC2</text><use href="#g1" transform="translate(321.01,15.2) scale(0.00991,-0.00991)"/>
<use href="#g1" transform="translate(231.21,38.8) scale(0.00723,-0.00723)"/><text x="239.44" y="38.8" font-size="14.8">7.7</text>
<use href="#g1" transform="translate(310.65,38.6) scale(0.00723,-0.00723)"/><text x="318.88" y="38.6" font-size="14.8">8.4</text>
<text x="229.99" y="147.7" font-size="14.8">8.</text><use href="#g1" transform="translate(242.34,147.7) scale(0.00723,-0.00723)"/>
<text x="310.27" y="147.7" font-size="14.8">55.8</text>
<path fill="#000" d="M441 108h1v1h-1zM438 113h1v1h-1zM441 107h1v1h-1zM440 113h1v1h-1zM444 97h1v1h-1zM435 110h1v1h-1zM435 113h1v1h-1zM441 99h1v1h-1zM434 111h1v1h-1zM445 100h1v1h-1zM431 106h1v1h-1zM440 107h1v1h-1zM435 117h1v1h-1zM432 119h1v1h-1zM436 112h1v1h-1zM441 110h1v1h-1zM432 109h1v1h-1zM446 106h1v1h-1zM433 108h1v1h-1zM438 103h1v1h-1zM430 119h1v1h-1zM430 112h1v1h-1zM434 104h1v1h-1zM430 114h1v1h-1zM441 111h1v1h-1zM430 122h1v1h-1zM435 96h1v1h-1zM442 92h1v1h-1zM444 105h1v1h-1zM438 114h1v1h-1zM445 96h1v1h-1zM439 95h1v1h-1zM436 109h1v1h-1zM444 96h1v1h-1zM444 102h1v1h-1zM439 111h1v1h-1zM442 94h1v1h-1zM443 104h1v1h-1zM438 102h1v1h-1zM429 117h1v1h-1zM434 102h1v1h-1zM437 115h1v1h-1zM436 108h1v1h-1zM441 106h1v1h-1zM439 99h1v1h-1zM430 111h1v1h-1zM434 103h1v1h-1zM431 111h1v1h-1zM433 105h1v1h-1zM433 103h1v1h-1zM437 113h1v1h-1zM431 107h1v1h-1zM432 117h1v1h-1zM431 118h1v1h-1zM429 116h1v1h-1zM435 102h1v1h-1zM433 104h1v1h-1zM444 99h1v1h-1zM438 109h1v1h-1zM436 115h1v1h-1zM431 120h1v1h-1zM444 101h1v1h-1zM440 111h1v1h-1zM444 103h1v1h-1zM443 96h1v1h-1zM438 110h1v1h-1zM444 106h1v1h-1zM435 109h1v1h-1zM444 98h1v1h-1zM439 108h1v1h-1zM437 108h1v1h-1zM433 106h1v1h-1zM441 102h1v1h-1zM444 107h1v1h-1zM439 97h1v1h-1zM431 116h1v1h-1zM435 112h1v1h-1zM439 110h1v1h-1zM444 100h1v1h-1zM438 107h1v1h-1zM436 104h1v1h-1zM436 105h1v1h-1zM429 123h1v1h-1zM441 95h1v1h-1zM433 109h1v1h-1zM444 94h1v1h-1zM435 115h1v1h-1zM434 98h1v1h-1zM432 120h1v1h-1zM439 96h1v1h-1zM438 95h1v1h-1zM437 102h1v1h-1zM431 115h1v1h-1zM436 113h1v1h-1zM434 100h1v1h-1zM442 105h1v1h-1zM438 105h1v1h-1zM434 107h1v1h-1zM433 111h1v1h-1zM433 99h1v1h-1zM434 109h1v1h-1zM441 104h1v1h-1zM434 105h1v1h-1zM432 118h1v1h-1zM443 98h1v1h-1zM435 118h1v1h-1zM437 98h1v1h-1zM436 96h1v1h-1zM430 113h1v1h-1zM434 110h1v1h-1zM446 105h1v1h-1zM437 97h1v1h-1zM432 107h1v1h-1zM440 110h1v1h-1zM445 99h1v1h-1zM440 100h1v1h-1zM440 95h1v1h-1zM432 111h1v1h-1zM445 101h1v1h-1zM447 101h1v1h-1zM430 115h1v1h-1zM443 102h1v1h-1zM442 106h1v1h-1zM442 110h1v1h-1zM430 109h1v1h-1zM438 104h1v1h-1zM435 105h1v1h-1zM441 96h1v1h-1zM438 111h1v1h-1zM428 115h1v1h-1zM441 94h1v1h-1zM441 100h1v1h-1zM443 101h1v1h-1zM432 116h1v1h-1zM446 96h1v1h-1zM432 103h1v1h-1zM429 119h1v1h-1zM433 101h1v1h-1zM434 108h1v1h-1zM430 120h1v1h-1zM429 120h1v1h-1zM445 102h1v1h-1zM439 105h1v1h-1zM429 115h1v1h-1zM447 99h1v1h-1zM437 100h1v1h-1zM433 115h1v1h-1zM436 95h1v1h-1zM433 97h1v1h-1zM431 119h1v1h-1zM434 112h1v1h-1zM442 100h1v1h-1zM445 97h1v1h-1zM435 111h1v1h-1zM442 99h1v1h-1zM432 108h1v1h-1zM438 94h1v1h-1zM438 101h1v1h-1zM437 110h1v1h-1zM437 105h1v1h-1zM443 97h1v1h-1zM446 107h1v1h-1zM444 104h1v1h-1zM433 113h1v1h-1zM442 102h1v1h-1zM431 121h1v1h-1zM429 114h1v1h-1zM434 106h1v1h-1zM434 101h1v1h-1zM437 94h1v1h-1zM442 104h1v1h-1zM435 114h1v1h-1zM439 102h1v1h-1zM437 114h1v1h-1zM428 118h1v1h-1zM441 98h1v1h-1zM440 98h1v1h-1zM445 94h1v1h-1zM435 98h1v1h-1zM442 108h1v1h-1zM433 117h1v1h-1zM445 105h1v1h-1zM432 114h1v1h-1zM438 115h1v1h-1zM437 106h1v1h-1zM432 105h1v1h-1zM439 104h1v1h-1zM434 116h1v1h-1zM432 110h1v1h-1zM446 99h1v1h-1zM443 109h1v1h-1zM435 108h1v1h-1zM433 102h1v1h-1zM440 106h1v1h-1zM438 100h1v1h-1zM432 101h1v1h-1zM445 106h1v1h-1zM436 106h1v1h-1zM437 99h1v1h-1zM440 104h1v1h-1zM443 94h1v1h-1zM446 95h1v1h-1zM439 109h1v1h-1zM436 100h1v1h-1zM437 104h1v1h-1zM428 121h1v1h-1zM433 98h1v1h-1zM444 95h1v1h-1zM429 121h1v1h-1zM430 118h1v1h-1zM434 114h1v1h-1zM438 112h1v1h-1zM442 103h1v1h-1zM442 109h1v1h-1zM437 95h1v1h-1zM430 108h1v1h-1zM439 98h1v1h-1zM441 103h1v1h-1zM431 114h1v1h-1zM443 103h1v1h-1zM428 120h1v1h-1zM433 110h1v1h-1zM431 105h1v1h-1zM440 108h1v1h-1zM446 101h1v1h-1zM441 101h1v1h-1zM438 98h1v1h-1zM431 108h1v1h-1zM437 111h1v1h-1zM441 109h1v1h-1zM440 94h1v1h-1zM431 113h1v1h-1zM430 110h1v1h-1zM432 106h1v1h-1zM436 116h1v1h-1zM434 113h1v1h-1zM436 110h1v1h-1zM442 96h1v1h-1zM434 97h1v1h-1zM446 104h1v1h-1zM434 96h1v1h-1zM432 113h1v1h-1zM428 117h1v1h-1zM433 118h1v1h-1zM433 112h1v1h-1zM428 110h1v1h-1zM443 105h1v1h-1zM446 103h1v1h-1zM430 116h1v1h-1zM432 104h1v1h-1zM432 112h1v1h-1zM439 106h1v1h-1zM431 117h1v1h-1zM442 98h1v1h-1zM440 105h1v1h-1zM434 115h1v1h-1zM445 98h1v1h-1zM435 106h1v1h-1zM437 103h1v1h-1zM440 97h1v1h-1zM433 114h1v1h-1zM436 107h1v1h-1zM442 101h1v1h-1zM446 97h1v1h-1zM435 107h1v1h-1zM437 107h1v1h-1zM443 99h1v1h-1zM443 106h1v1h-1zM430 117h1v1h-1zM436 114h1v1h-1zM438 108h1v1h-1zM443 95h1v1h-1zM446 94h1v1h-1zM445 104h1v1h-1zM435 101h1v1h-1zM441 97h1v1h-1zM436 102h1v1h-1zM430 121h1v1h-1zM443 93h1v1h-1zM446 98h1v1h-1zM439 113h1v1h-1zM429 113h1v1h-1zM431 103h1v1h-1zM446 100h1v1h-1zM435 100h1v1h-1zM433 119h1v1h-1zM440 99h1v1h-1zM445 93h1v1h-1zM440 102h1v1h-1zM447 100h1v1h-1zM441 93h1v1h-1zM440 101h1v1h-1zM436 98h1v1h-1zM439 100h1v1h-1zM431 122h1v1h-1zM445 107h1v1h-1zM436 94h1v1h-1zM442 112h1v1h-1zM447 98h1v1h-1zM446 102h1v1h-1zM442 107h1v1h-1zM438 99h1v1h-1zM434 99h1v1h-1zM431 112h1v1h-1zM433 116h1v1h-1zM438 96h1v1h-1zM431 110h1v1h-1zM436 103h1v1h-1zM432 102h1v1h-1zM443 108h1v1h-1zM448 100h1v1h-1zM437 101h1v1h-1zM445 109h1v1h-1zM439 112h1v1h-1zM444 93h1v1h-1zM428 116h1v1h-1zM432 121h1v1h-1zM435 104h1v1h-1zM440 96h1v1h-1zM435 116h1v1h-1zM430 106h1v1h-1zM439 101h1v1h-1zM440 103h1v1h-1zM434 117h1v1h-1zM445 103h1v1h-1zM443 110h1v1h-1zM431 109h1v1h-1zM428 119h1v1h-1zM437 109h1v1h-1zM436 111h1v1h-1zM440 109h1v1h-1zM436 119h1v1h-1zM447 102h1v1h-1zM432 98h1v1h-1zM445 95h1v1h-1zM432 122h1v1h-1zM439 107h1v1h-1zM447 104h1v1h-1zM443 107h1v1h-1zM436 97h1v1h-1zM441 112h1v1h-1zM434 118h1v1h-1zM439 103h1v1h-1zM433 120h1v1h-1zM440 93h1v1h-1zM429 112h1v1h-1zM436 117h1v1h-1zM429 92h1v1h-1zM425 90h1v1h-1zM453 98h1v1h-1zM432 127h1v1h-1zM430 94h1v1h-1zM435 93h1v1h-1zM430 90h1v1h-1zM425 98h1v1h-1zM427 102h1v1h-1zM427 113h1v1h-1zM430 95h1v1h-1zM453 100h1v1h-1zM439 118h1v1h-1zM437 90h1v1h-1zM447 114h1v1h-1zM426 100h1v1h-1zM442 119h1v1h-1zM442 93h1v1h-1zM444 120h1v1h-1zM422 110h1v1h-1zM452 110h1v1h-1zM427 107h1v1h-1zM430 86h1v1h-1zM426 124h1v1h-1zM440 115h1v1h-1zM438 120h1v1h-1zM427 115h1v1h-1zM443 115h1v1h-1zM422 116h1v1h-1zM441 90h1v1h-1zM426 108h1v1h-1zM441 88h1v1h-1zM447 103h1v1h-1zM440 92h1v1h-1zM451 92h1v1h-1zM428 91h1v1h-1zM433 96h1v1h-1zM447 97h1v1h-1zM440 118h1v1h-1zM446 111h1v1h-1zM447 94h1v1h-1zM438 92h1v1h-1zM438 117h1v1h-1zM428 90h1v1h-1zM452 105h1v1h-1zM446 108h1v1h-1zM436 89h1v1h-1zM450 101h1v1h-1zM449 102h1v1h-1zM439 114h1v1h-1zM435 103h1v1h-1zM435 119h1v1h-1zM430 125h1v1h-1zM438 123h1v1h-1zM427 121h1v1h-1zM428 94h1v1h-1zM434 90h1v1h-1zM431 96h1v1h-1zM441 105h1v1h-1zM446 117h1v1h-1zM448 95h1v1h-1zM431 91h1v1h-1zM445 118h1v1h-1zM449 109h1v1h-1zM433 92h1v1h-1zM448 112h1v1h-1zM434 89h1v1h-1zM434 94h1v1h-1zM442 95h1v1h-1zM442 111h1v1h-1zM426 96h1v1h-1zM428 104h1v1h-1zM450 100h1v1h-1zM429 98h1v1h-1zM449 93h1v1h-1zM425 126h1v1h-1zM450 111h1v1h-1zM451 99h1v1h-1zM435 97h1v1h-1zM443 111h1v1h-1zM447 107h1v1h-1zM437 91h1v1h-1zM442 90h1v1h-1zM424 118h1v1h-1zM429 99h1v1h-1zM431 89h1v1h-1zM451 101h1v1h-1zM425 105h1v1h-1zM427 119h1v1h-1zM424 108h1v1h-1zM432 92h1v1h-1zM423 116h1v1h-1zM428 122h1v1h-1zM430 123h1v1h-1zM452 97h1v1h-1zM425 111h1v1h-1zM437 96h1v1h-1zM425 91h1v1h-1zM449 104h1v1h-1zM448 99h1v1h-1zM444 90h1v1h-1zM441 121h1v1h-1zM445 110h1v1h-1zM445 89h1v1h-1zM428 98h1v1h-1zM427 97h1v1h-1zM431 124h1v1h-1zM438 91h1v1h-1zM449 115h1v1h-1zM433 89h1v1h-1zM432 91h1v1h-1zM438 89h1v1h-1zM450 99h1v1h-1zM439 94h1v1h-1zM430 100h1v1h-1zM448 98h1v1h-1zM446 115h1v1h-1zM426 106h1v1h-1zM424 117h1v1h-1zM443 89h1v1h-1zM448 115h1v1h-1zM441 116h1v1h-1zM434 91h1v1h-1zM425 116h1v1h-1zM450 96h1v1h-1zM426 117h1v1h-1zM435 122h1v1h-1zM447 92h1v1h-1zM453 106h1v1h-1zM449 101h1v1h-1zM432 94h1v1h-1zM434 121h1v1h-1zM436 120h1v1h-1zM429 118h1v1h-1zM430 107h1v1h-1zM431 93h1v1h-1zM443 112h1v1h-1zM434 126h1v1h-1zM428 101h1v1h-1zM443 119h1v1h-1zM454 103h1v1h-1zM435 123h1v1h-1zM425 95h1v1h-1zM436 90h1v1h-1zM424 123h1v1h-1zM433 93h1v1h-1zM425 99h1v1h-1zM425 109h1v1h-1zM455 98h1v1h-1zM447 116h1v1h-1zM426 129h1v1h-1zM429 104h1v1h-1zM447 90h1v1h-1zM433 100h1v1h-1zM449 97h1v1h-1zM428 93h1v1h-1zM447 109h1v1h-1zM428 99h1v1h-1zM428 111h1v1h-1zM450 92h1v1h-1zM427 108h1v1h-1zM430 91h1v1h-1zM426 109h1v1h-1zM429 108h1v1h-1zM438 119h1v1h-1zM448 101h1v1h-1zM436 128h1v1h-1zM434 92h1v1h-1zM455 106h1v1h-1zM444 117h1v1h-1zM425 124h1v1h-1zM435 91h1v1h-1zM428 126h1v1h-1zM440 112h1v1h-1zM445 113h1v1h-1zM433 122h1v1h-1zM451 97h1v1h-1zM441 118h1v1h-1zM436 99h1v1h-1zM441 115h1v1h-1zM432 93h1v1h-1zM427 118h1v1h-1zM431 128h1v1h-1zM430 87h1v1h-1zM455 99h1v1h-1zM452 107h1v1h-1zM433 95h1v1h-1zM430 101h1v1h-1zM425 120h1v1h-1zM426 115h1v1h-1zM449 107h1v1h-1zM448 92h1v1h-1zM430 127h1v1h-1zM426 93h1v1h-1zM451 96h1v1h-1zM439 92h1v1h-1zM431 127h1v1h-1zM426 104h1v1h-1zM424 119h1v1h-1zM437 118h1v1h-1zM426 103h1v1h-1zM438 93h1v1h-1zM428 125h1v1h-1zM443 90h1v1h-1zM450 89h1v1h-1zM441 92h1v1h-1zM453 101h1v1h-1zM437 121h1v1h-1zM428 100h1v1h-1zM426 119h1v1h-1zM423 62h1v1h-1zM414 69h1v1h-1zM419 72h1v1h-1zM404 72h1v1h-1zM390 69h1v1h-1zM413 61h1v1h-1zM411 71h1v1h-1zM404 67h1v1h-1zM396 74h1v1h-1zM419 68h1v1h-1zM415 78h1v1h-1zM418 71h1v1h-1zM400 71h1v1h-1zM417 84h1v1h-1zM417 72h1v1h-1zM405 67h1v1h-1zM420 75h1v1h-1zM405 88h1v1h-1zM399 76h1v1h-1zM411 85h1v1h-1zM417 76h1v1h-1zM415 79h1v1h-1zM424 86h1v1h-1zM424 73h1v1h-1zM396 72h1v1h-1zM420 89h1v1h-1zM424 74h1v1h-1zM395 77h1v1h-1zM403 75h1v1h-1zM414 81h1v1h-1zM410 80h1v1h-1zM413 73h1v1h-1zM403 62h1v1h-1zM414 71h1v1h-1zM412 73h1v1h-1zM414 73h1v1h-1zM416 81h1v1h-1zM409 91h1v1h-1zM397 72h1v1h-1zM418 82h1v1h-1zM411 63h1v1h-1zM412 67h1v1h-1zM409 82h1v1h-1zM405 77h1v1h-1zM406 77h1v1h-1zM419 70h1v1h-1zM416 72h1v1h-1zM425 76h1v1h-1zM405 79h1v1h-1zM428 68h1v1h-1zM412 72h1v1h-1zM403 73h1v1h-1zM415 76h1v1h-1zM416 79h1v1h-1zM417 88h1v1h-1zM416 66h1v1h-1zM400 83h1v1h-1zM430 72h1v1h-1zM433 71h1v1h-1zM407 69h1v1h-1zM410 71h1v1h-1zM411 73h1v1h-1zM404 82h1v1h-1zM421 76h1v1h-1zM405 78h1v1h-1zM408 67h1v1h-1zM410 87h1v1h-1zM407 85h1v1h-1zM399 92h1v1h-1zM421 71h1v1h-1zM408 78h1v1h-1zM424 78h1v1h-1zM426 71h1v1h-1zM411 78h1v1h-1zM414 77h1v1h-1zM415 74h1v1h-1zM407 80h1v1h-1zM411 68h1v1h-1zM417 74h1v1h-1zM410 65h1v1h-1zM401 73h1v1h-1zM404 89h1v1h-1zM415 87h1v1h-1zM409 70h1v1h-1zM426 66h1v1h-1zM405 83h1v1h-1zM412 88h1v1h-1zM407 72h1v1h-1zM404 78h1v1h-1zM397 68h1v1h-1zM414 54h1v1h-1zM425 87h1v1h-1zM409 68h1v1h-1zM401 74h1v1h-1zM421 80h1v1h-1zM407 87h1v1h-1zM409 72h1v1h-1zM410 74h1v1h-1zM414 83h1v1h-1zM409 77h1v1h-1zM427 91h1v1h-1zM401 66h1v1h-1zM397 70h1v1h-1zM408 95h1v1h-1zM408 89h1v1h-1zM399 82h1v1h-1zM393 84h1v1h-1zM405 73h1v1h-1zM409 78h1v1h-1zM417 60h1v1h-1zM412 68h1v1h-1zM408 85h1v1h-1zM394 79h1v1h-1zM399 80h1v1h-1zM417 86h1v1h-1zM409 71h1v1h-1zM410 73h1v1h-1zM412 78h1v1h-1zM396 64h1v1h-1zM405 82h1v1h-1zM409 67h1v1h-1zM419 69h1v1h-1zM411 82h1v1h-1zM416 70h1v1h-1zM415 91h1v1h-1zM398 98h1v1h-1zM416 75h1v1h-1zM393 76h1v1h-1zM392 83h1v1h-1zM396 88h1v1h-1zM410 86h1v1h-1zM421 79h1v1h-1zM417 93h1v1h-1zM405 76h1v1h-1zM408 69h1v1h-1zM425 69h1v1h-1zM398 63h1v1h-1zM393 65h1v1h-1zM407 77h1v1h-1zM402 79h1v1h-1zM403 83h1v1h-1zM410 82h1v1h-1zM400 76h1v1h-1zM406 80h1v1h-1zM396 82h1v1h-1zM407 86h1v1h-1zM419 78h1v1h-1zM419 80h1v1h-1zM407 74h1v1h-1zM403 82h1v1h-1zM404 62h1v1h-1zM419 84h1v1h-1zM418 83h1v1h-1zM398 76h1v1h-1zM416 67h1v1h-1zM407 82h1v1h-1zM408 72h1v1h-1zM409 76h1v1h-1zM395 78h1v1h-1zM410 75h1v1h-1zM404 64h1v1h-1zM424 79h1v1h-1zM422 74h1v1h-1zM417 71h1v1h-1zM418 59h1v1h-1zM413 84h1v1h-1zM424 72h1v1h-1zM402 72h1v1h-1zM404 69h1v1h-1zM416 68h1v1h-1zM413 80h1v1h-1zM414 90h1v1h-1zM413 86h1v1h-1zM391 76h1v1h-1zM403 85h1v1h-1zM397 80h1v1h-1zM411 70h1v1h-1zM414 79h1v1h-1zM416 71h1v1h-1zM413 82h1v1h-1zM409 89h1v1h-1zM418 74h1v1h-1zM404 83h1v1h-1zM405 72h1v1h-1zM392 75h1v1h-1zM407 88h1v1h-1zM422 71h1v1h-1zM414 62h1v1h-1zM425 62h1v1h-1zM410 69h1v1h-1zM408 88h1v1h-1zM406 78h1v1h-1zM436 65h1v1h-1zM398 82h1v1h-1zM408 76h1v1h-1zM401 70h1v1h-1zM395 67h1v1h-1zM394 93h1v1h-1zM412 81h1v1h-1zM392 80h1v1h-1zM411 60h1v1h-1zM406 64h1v1h-1zM396 85h1v1h-1zM425 71h1v1h-1zM425 66h1v1h-1zM402 70h1v1h-1zM418 72h1v1h-1zM413 74h1v1h-1zM412 79h1v1h-1zM409 81h1v1h-1zM412 70h1v1h-1zM406 59h1v1h-1zM421 74h1v1h-1zM392 97h1v1h-1zM392 86h1v1h-1zM412 82h1v1h-1zM402 77h1v1h-1zM412 89h1v1h-1zM418 77h1v1h-1zM421 84h1v1h-1zM403 78h1v1h-1zM420 77h1v1h-1zM412 80h1v1h-1zM409 80h1v1h-1zM396 76h1v1h-1zM411 92h1v1h-1zM424 84h1v1h-1zM395 85h1v1h-1zM395 70h1v1h-1zM401 77h1v1h-1zM438 70h1v1h-1zM411 79h1v1h-1zM416 85h1v1h-1zM416 74h1v1h-1zM416 54h1v1h-1zM403 84h1v1h-1zM405 58h1v1h-1zM401 65h1v1h-1zM407 83h1v1h-1zM427 73h1v1h-1zM422 78h1v1h-1zM432 82h1v1h-1zM420 67h1v1h-1zM421 78h1v1h-1zM404 87h1v1h-1zM400 78h1v1h-1zM406 82h1v1h-1zM406 72h1v1h-1zM391 78h1v1h-1zM413 77h1v1h-1zM415 90h1v1h-1zM420 85h1v1h-1zM417 73h1v1h-1zM416 99h1v1h-1zM422 76h1v1h-1zM423 84h1v1h-1zM416 77h1v1h-1zM419 61h1v1h-1zM418 76h1v1h-1zM403 91h1v1h-1zM399 88h1v1h-1zM394 56h1v1h-1zM418 101h1v1h-1zM397 92h1v1h-1zM434 83h1v1h-1zM414 76h1v1h-1zM409 79h1v1h-1zM422 62h1v1h-1zM400 88h1v1h-1zM398 58h1v1h-1zM423 82h1v1h-1zM437 58h1v1h-1zM426 77h1v1h-1zM425 70h1v1h-1zM395 90h1v1h-1zM401 88h1v1h-1zM402 93h1v1h-1zM389 80h1v1h-1zM419 90h1v1h-1zM414 96h1v1h-1zM451 82h1v1h-1zM411 81h1v1h-1zM438 71h1v1h-1zM389 84h1v1h-1zM447 79h1v1h-1zM424 83h1v1h-1zM433 70h1v1h-1zM424 70h1v1h-1zM411 84h1v1h-1zM442 80h1v1h-1zM436 67h1v1h-1zM437 93h1v1h-1zM436 70h1v1h-1zM413 75h1v1h-1zM409 83h1v1h-1zM418 69h1v1h-1zM414 60h1v1h-1zM447 77h1v1h-1zM403 98h1v1h-1zM410 84h1v1h-1zM390 81h1v1h-1zM392 98h1v1h-1zM398 85h1v1h-1zM412 76h1v1h-1zM403 64h1v1h-1zM411 76h1v1h-1zM419 87h1v1h-1zM429 89h1v1h-1zM429 75h1v1h-1zM430 79h1v1h-1zM416 89h1v1h-1zM422 88h1v1h-1zM418 80h1v1h-1zM411 77h1v1h-1zM424 62h1v1h-1zM401 80h1v1h-1zM425 79h1v1h-1zM440 76h1v1h-1zM403 89h1v1h-1zM429 66h1v1h-1zM429 90h1v1h-1zM416 76h1v1h-1zM418 92h1v1h-1zM424 54h1v1h-1zM424 67h1v1h-1zM433 79h1v1h-1zM444 82h1v1h-1zM446 78h1v1h-1zM435 78h1v1h-1zM415 88h1v1h-1zM443 73h1v1h-1zM460 82h1v1h-1zM432 87h1v1h-1zM436 77h1v1h-1zM431 76h1v1h-1zM456 81h1v1h-1zM429 76h1v1h-1zM434 74h1v1h-1zM434 79h1v1h-1zM444 71h1v1h-1zM446 86h1v1h-1zM431 94h1v1h-1zM423 75h1v1h-1zM440 87h1v1h-1zM426 69h1v1h-1zM435 79h1v1h-1zM446 72h1v1h-1zM412 66h1v1h-1zM440 81h1v1h-1zM426 79h1v1h-1zM416 88h1v1h-1zM435 85h1v1h-1zM445 78h1v1h-1zM429 87h1v1h-1zM445 73h1v1h-1zM427 76h1v1h-1zM434 73h1v1h-1zM436 86h1v1h-1zM437 77h1v1h-1zM425 83h1v1h-1zM429 73h1v1h-1zM422 95h1v1h-1zM436 88h1v1h-1zM437 68h1v1h-1zM447 87h1v1h-1zM429 77h1v1h-1zM439 81h1v1h-1zM426 82h1v1h-1zM432 69h1v1h-1zM427 85h1v1h-1zM435 74h1v1h-1zM424 69h1v1h-1zM444 68h1v1h-1zM427 68h1v1h-1zM430 80h1v1h-1zM427 86h1v1h-1zM442 79h1v1h-1zM433 68h1v1h-1zM435 89h1v1h-1zM417 75h1v1h-1zM430 83h1v1h-1zM450 82h1v1h-1zM437 83h1v1h-1zM431 70h1v1h-1zM425 81h1v1h-1zM444 80h1v1h-1zM441 83h1v1h-1zM428 64h1v1h-1zM448 87h1v1h-1zM433 83h1v1h-1zM429 70h1v1h-1zM440 85h1v1h-1zM439 90h1v1h-1zM418 98h1v1h-1zM414 126h1v1h-1zM423 111h1v1h-1zM415 117h1v1h-1zM417 94h1v1h-1zM422 113h1v1h-1zM419 91h1v1h-1zM419 116h1v1h-1zM414 111h1v1h-1zM413 104h1v1h-1zM422 109h1v1h-1zM425 123h1v1h-1zM421 125h1v1h-1zM420 129h1v1h-1zM418 122h1v1h-1zM408 99h1v1h-1zM418 88h1v1h-1zM419 115h1v1h-1zM424 104h1v1h-1zM420 118h1v1h-1zM423 122h1v1h-1zM407 89h1v1h-1zM422 99h1v1h-1zM416 107h1v1h-1zM420 103h1v1h-1zM417 124h1v1h-1zM420 92h1v1h-1zM418 128h1v1h-1zM421 124h1v1h-1zM408 106h1v1h-1zM414 115h1v1h-1zM425 127h1v1h-1zM418 114h1v1h-1zM410 102h1v1h-1zM415 123h1v1h-1zM420 102h1v1h-1zM413 110h1v1h-1zM419 109h1v1h-1zM424 103h1v1h-1zM413 124h1v1h-1zM422 117h1v1h-1zM424 113h1v1h-1zM409 106h1v1h-1zM425 115h1v1h-1zM417 97h1v1h-1zM423 121h1v1h-1zM416 118h1v1h-1zM420 104h1v1h-1zM417 101h1v1h-1zM416 112h1v1h-1zM418 127h1v1h-1zM412 112h1v1h-1zM421 128h1v1h-1zM414 114h1v1h-1zM415 102h1v1h-1zM419 100h1v1h-1zM422 105h1v1h-1zM427 124h1v1h-1zM417 119h1v1h-1zM415 130h1v1h-1zM412 101h1v1h-1zM412 104h1v1h-1zM415 114h1v1h-1zM417 102h1v1h-1zM410 98h1v1h-1zM420 112h1v1h-1zM417 96h1v1h-1zM412 122h1v1h-1zM441 120h1v1h-1zM452 115h1v1h-1zM462 102h1v1h-1zM456 94h1v1h-1zM448 111h1v1h-1zM419 92h1v1h-1zM424 97h1v1h-1zM440 135h1v1h-1zM449 112h1v1h-1zM420 99h1v1h-1zM445 132h1v1h-1zM438 78h1v1h-1zM439 134h1v1h-1zM423 119h1v1h-1zM435 136h1v1h-1zM429 101h1v1h-1zM449 74h1v1h-1zM466 132h1v1h-1zM452 117h1v1h-1zM441 133h1v1h-1zM443 123h1v1h-1zM456 126h1v1h-1zM441 117h1v1h-1zM465 111h1v1h-1zM447 91h1v1h-1zM456 137h1v1h-1zM426 112h1v1h-1zM432 100h1v1h-1zM436 121h1v1h-1zM420 110h1v1h-1zM453 123h1v1h-1zM442 91h1v1h-1zM440 122h1v1h-1zM430 143h1v1h-1zM426 105h1v1h-1zM460 105h1v1h-1zM445 82h1v1h-1zM458 86h1v1h-1zM457 99h1v1h-1zM455 89h1v1h-1zM460 83h1v1h-1zM436 134h1v1h-1zM454 68h1v1h-1zM429 91h1v1h-1zM461 84h1v1h-1zM428 105h1v1h-1zM418 129h1v1h-1zM459 116h1v1h-1zM479 102h1v1h-1zM439 136h1v1h-1zM448 113h1v1h-1zM446 88h1v1h-1zM456 115h1v1h-1zM452 118h1v1h-1zM446 145h1v1h-1zM468 105h1v1h-1zM443 77h1v1h-1zM434 127h1v1h-1zM449 83h1v1h-1zM420 107h1v1h-1zM445 92h1v1h-1zM445 112h1v1h-1zM442 122h1v1h-1zM458 109h1v1h-1zM442 126h1v1h-1zM459 99h1v1h-1zM421 114h1v1h-1zM437 89h1v1h-1zM448 140h1v1h-1zM442 115h1v1h-1zM406 118h1v1h-1zM409 96h1v1h-1zM399 115h1v1h-1zM416 122h1v1h-1zM421 116h1v1h-1zM403 140h1v1h-1zM408 133h1v1h-1zM410 101h1v1h-1zM400 143h1v1h-1zM397 117h1v1h-1zM403 94h1v1h-1zM427 125h1v1h-1zM396 97h1v1h-1zM419 132h1v1h-1zM394 126h1v1h-1zM416 125h1v1h-1zM393 123h1v1h-1zM414 124h1v1h-1zM426 86h1v1h-1zM409 98h1v1h-1zM397 119h1v1h-1zM407 102h1v1h-1zM411 116h1v1h-1zM421 144h1v1h-1zM421 123h1v1h-1zM402 128h1v1h-1zM402 123h1v1h-1zM395 120h1v1h-1zM410 135h1v1h-1zM413 146h1v1h-1zM407 110h1v1h-1zM424 111h1v1h-1zM406 111h1v1h-1zM403 116h1v1h-1zM397 124h1v1h-1zM400 96h1v1h-1zM419 128h1v1h-1zM419 129h1v1h-1zM417 130h1v1h-1zM416 129h1v1h-1z"/>
<rect x="384.4" y="20.8" width="122.5" height="131.6" fill="none" stroke="#000" stroke-width="1.35"/>
<path d="M424 20.8 V152.4 M384.4 90.3 H506.9" stroke="#000" stroke-width="1" fill="none"/>
<path d="M384.4 152.4 v4.8 M384.4 152.4 h-4.8 M393.62 152.4 v3.0 M384.4 142.5 h-3.0 M399.01 152.4 v3.0 M384.4 136.7 h-3.0 M402.84 152.4 v3.0 M384.4 132.59 h-3.0 M405.81 152.4 v3.0 M384.4 129.4 h-3.0 M408.23 152.4 v3.0 M384.4 126.8 h-3.0 M410.28 152.4 v3.0 M384.4 124.6 h-3.0 M412.06 152.4 v3.0 M384.4 122.69 h-3.0 M413.62 152.4 v3.0 M384.4 121.01 h-3.0 M415.02 152.4 v4.8 M384.4 119.5 h-4.8 M424.24 152.4 v3.0 M384.4 109.6 h-3.0 M429.64 152.4 v3.0 M384.4 103.8 h-3.0 M433.46 152.4 v3.0 M384.4 99.69 h-3.0 M436.43 152.4 v3.0 M384.4 96.5 h-3.0 M438.86 152.4 v3.0 M384.4 93.9 h-3.0 M440.91 152.4 v3.0 M384.4 91.7 h-3.0 M442.68 152.4 v3.0 M384.4 89.79 h-3.0 M444.25 152.4 v3.0 M384.4 88.11 h-3.0 M445.65 152.4 v4.8 M384.4 86.6 h-4.8 M454.87 152.4 v3.0 M384.4 76.7 h-3.0 M460.26 152.4 v3.0 M384.4 70.9 h-3.0 M464.09 152.4 v3.0 M384.4 66.79 h-3.0 M467.06 152.4 v3.0 M384.4 63.6 h-3.0 M469.48 152.4 v3.0 M384.4 61 h-3.0 M471.53 152.4 v3.0 M384.4 58.8 h-3.0 M473.31 152.4 v3.0 M384.4 56.89 h-3.0 M474.87 152.4 v3.0 M384.4 55.21 h-3.0 M476.27 152.4 v4.8 M384.4 53.7 h-4.8 M485.49 152.4 v3.0 M384.4 43.8 h-3.0 M490.89 152.4 v3.0 M384.4 38 h-3.0 M494.71 152.4 v3.0 M384.4 33.89 h-3.0 M497.68 152.4 v3.0 M384.4 30.7 h-3.0 M500.11 152.4 v3.0 M384.4 28.1 h-3.0 M502.16 152.4 v3.0 M384.4 25.9 h-3.0 M503.93 152.4 v3.0 M384.4 23.99 h-3.0 M505.5 152.4 v3.0 M384.4 22.31 h-3.0 M506.9 152.4 v4.8 M384.4 20.8 h-4.8" stroke="#000" stroke-width="1.05" fill="none"/>
<use href="#g1s" transform="translate(374.96,167.8) scale(0.00527,-0.00527)"/><text x="380.97" y="167.8" font-size="10.8" stroke-width="0.05">0</text><text x="387.67" y="162.4" font-size="8.5" stroke-width="0.05">0</text>
<use href="#g1s" transform="translate(405.59,167.8) scale(0.00527,-0.00527)"/><text x="411.59" y="167.8" font-size="10.8" stroke-width="0.05">0</text><use href="#g1s" transform="translate(417.81,162.4) scale(0.00415,-0.00415)"/>
<use href="#g1s" transform="translate(436.21,167.8) scale(0.00527,-0.00527)"/><text x="442.22" y="167.8" font-size="10.8" stroke-width="0.05">0</text><text x="448.82" y="162.4" font-size="8.5" stroke-width="0.05">2</text>
<use href="#g1s" transform="translate(466.84,167.8) scale(0.00527,-0.00527)"/><text x="472.84" y="167.8" font-size="10.8" stroke-width="0.05">0</text><text x="479.55" y="162.4" font-size="8.5" stroke-width="0.05">3</text>
<use href="#g1s" transform="translate(497.46,167.8) scale(0.00527,-0.00527)"/><text x="503.47" y="167.8" font-size="10.8" stroke-width="0.05">0</text><text x="510.3" y="162.4" font-size="8.5" stroke-width="0.05">4</text>
<g transform="translate(377.2,152.4) rotate(-90)"><use href="#g1s" transform="translate(-10.24,0) scale(0.00527,-0.00527)"/><text x="-4.23" y="0" font-size="10.8" stroke-width="0.05">0</text><text x="2.67" y="-5.3" font-size="8.5" stroke-width="0.05">0</text></g>
<g transform="translate(377.2,119.5) rotate(-90)"><use href="#g1s" transform="translate(-10.24,0) scale(0.00527,-0.00527)"/><text x="-4.23" y="0" font-size="10.8" stroke-width="0.05">0</text><use href="#g1s" transform="translate(2.18,-5.3) scale(0.00415,-0.00415)"/></g>
<g transform="translate(377.2,86.6) rotate(-90)"><use href="#g1s" transform="translate(-10.24,0) scale(0.00527,-0.00527)"/><text x="-4.23" y="0" font-size="10.8" stroke-width="0.05">0</text><text x="2.57" y="-5.3" font-size="8.5" stroke-width="0.05">2</text></g>
<g transform="translate(377.2,53.7) rotate(-90)"><use href="#g1s" transform="translate(-10.24,0) scale(0.00527,-0.00527)"/><text x="-4.23" y="0" font-size="10.8" stroke-width="0.05">0</text><text x="2.68" y="-5.3" font-size="8.5" stroke-width="0.05">3</text></g>
<g transform="translate(377.2,25) rotate(-90)"><use href="#g1s" transform="translate(-10.24,0) scale(0.00527,-0.00527)"/><text x="-4.23" y="0" font-size="10.8" stroke-width="0.05">0</text><text x="2.8" y="-5.3" font-size="8.5" stroke-width="0.05">4</text></g>
<text x="397.57" y="15.2" font-size="19.7">anti-CD</text><use href="#g1" transform="translate(464.35,15.2) scale(0.00962,-0.00962)"/><text x="475.3" y="15.2" font-size="19.7">3</text>
<text x="389.54" y="38.8" font-size="14.8">8.9</text>
<text x="478.94" y="38.8" font-size="14.8">5.6</text>
<text x="389.05" y="147.3" font-size="14.8">6.5</text>
<text x="483.39" y="147.5" font-size="14.8">79</text>
<path fill="#000" d="M83 266h1v1h-1zM97 270h1v1h-1zM98 258h1v1h-1zM101 270h1v1h-1zM91 251h1v1h-1zM93 257h1v1h-1zM80 257h1v1h-1zM75 254h1v1h-1zM87 269h1v1h-1zM92 253h1v1h-1zM89 247h1v1h-1zM95 261h1v1h-1zM103 270h1v1h-1zM90 262h1v1h-1zM95 250h1v1h-1zM90 264h1v1h-1zM90 268h1v1h-1zM99 253h1v1h-1zM71 258h1v1h-1zM89 252h1v1h-1zM88 276h1v1h-1zM80 263h1v1h-1zM85 248h1v1h-1zM71 251h1v1h-1zM98 250h1v1h-1zM93 277h1v1h-1zM88 244h1v1h-1zM75 250h1v1h-1zM87 275h1v1h-1zM73 260h1v1h-1zM71 267h1v1h-1zM76 259h1v1h-1zM94 254h1v1h-1zM100 257h1v1h-1zM106 261h1v1h-1zM75 259h1v1h-1zM95 274h1v1h-1zM99 268h1v1h-1zM84 270h1v1h-1zM73 252h1v1h-1zM80 260h1v1h-1zM101 252h1v1h-1zM84 276h1v1h-1zM69 259h1v1h-1zM100 258h1v1h-1zM90 252h1v1h-1zM87 257h1v1h-1zM77 245h1v1h-1zM77 244h1v1h-1zM99 266h1v1h-1zM83 257h1v1h-1zM69 260h1v1h-1zM95 257h1v1h-1zM79 247h1v1h-1zM98 271h1v1h-1zM84 249h1v1h-1zM74 266h1v1h-1zM93 252h1v1h-1zM95 264h1v1h-1zM70 262h1v1h-1zM80 244h1v1h-1zM74 254h1v1h-1zM86 273h1v1h-1zM74 258h1v1h-1zM88 274h1v1h-1zM71 264h1v1h-1zM98 264h1v1h-1zM88 262h1v1h-1zM79 265h1v1h-1zM92 274h1v1h-1zM77 254h1v1h-1zM93 256h1v1h-1zM74 264h1v1h-1zM81 253h1v1h-1zM80 248h1v1h-1zM96 276h1v1h-1zM95 279h1v1h-1zM93 245h1v1h-1zM81 256h1v1h-1zM81 258h1v1h-1zM72 255h1v1h-1zM71 263h1v1h-1zM97 258h1v1h-1zM79 273h1v1h-1zM89 272h1v1h-1zM94 272h1v1h-1zM73 261h1v1h-1zM79 261h1v1h-1zM90 258h1v1h-1zM83 261h1v1h-1zM100 272h1v1h-1zM76 261h1v1h-1zM86 264h1v1h-1zM101 264h1v1h-1zM75 251h1v1h-1zM83 271h1v1h-1zM84 272h1v1h-1zM74 269h1v1h-1zM98 260h1v1h-1zM70 259h1v1h-1zM104 264h1v1h-1zM77 269h1v1h-1zM89 254h1v1h-1zM91 250h1v1h-1zM86 263h1v1h-1zM97 259h1v1h-1zM82 251h1v1h-1zM79 263h1v1h-1zM89 241h1v1h-1zM91 247h1v1h-1zM96 266h1v1h-1zM74 267h1v1h-1zM99 265h1v1h-1zM79 246h1v1h-1zM93 265h1v1h-1zM94 258h1v1h-1zM96 256h1v1h-1zM100 274h1v1h-1zM72 254h1v1h-1zM95 247h1v1h-1zM89 270h1v1h-1zM81 260h1v1h-1zM92 266h1v1h-1zM91 273h1v1h-1zM77 265h1v1h-1zM89 271h1v1h-1zM88 257h1v1h-1zM81 243h1v1h-1zM94 264h1v1h-1zM97 272h1v1h-1zM76 256h1v1h-1zM100 266h1v1h-1zM92 257h1v1h-1zM94 273h1v1h-1zM90 259h1v1h-1zM82 269h1v1h-1zM98 253h1v1h-1zM89 246h1v1h-1zM77 251h1v1h-1zM96 255h1v1h-1zM74 263h1v1h-1zM99 273h1v1h-1zM79 257h1v1h-1zM86 258h1v1h-1zM92 272h1v1h-1zM96 253h1v1h-1zM91 277h1v1h-1zM86 244h1v1h-1zM89 262h1v1h-1zM78 242h1v1h-1zM92 261h1v1h-1zM88 261h1v1h-1zM83 275h1v1h-1zM98 263h1v1h-1zM71 266h1v1h-1zM88 263h1v1h-1zM79 254h1v1h-1zM91 252h1v1h-1zM93 253h1v1h-1zM85 271h1v1h-1zM87 261h1v1h-1zM98 244h1v1h-1zM96 264h1v1h-1zM93 270h1v1h-1zM80 246h1v1h-1zM104 255h1v1h-1zM80 247h1v1h-1zM87 248h1v1h-1zM97 260h1v1h-1zM97 267h1v1h-1zM84 242h1v1h-1zM69 263h1v1h-1zM100 263h1v1h-1zM78 256h1v1h-1zM87 245h1v1h-1zM71 254h1v1h-1zM80 250h1v1h-1zM69 252h1v1h-1zM82 242h1v1h-1zM77 255h1v1h-1zM88 277h1v1h-1zM70 261h1v1h-1zM94 275h1v1h-1zM92 269h1v1h-1zM91 275h1v1h-1zM71 259h1v1h-1zM95 268h1v1h-1zM85 257h1v1h-1zM82 267h1v1h-1zM99 264h1v1h-1zM86 257h1v1h-1zM73 254h1v1h-1zM91 279h1v1h-1zM96 250h1v1h-1zM87 249h1v1h-1zM85 247h1v1h-1zM84 252h1v1h-1zM78 264h1v1h-1zM89 250h1v1h-1zM82 245h1v1h-1zM92 259h1v1h-1zM76 250h1v1h-1zM100 265h1v1h-1zM102 267h1v1h-1zM101 260h1v1h-1zM68 262h1v1h-1zM90 266h1v1h-1zM81 264h1v1h-1zM92 264h1v1h-1zM76 252h1v1h-1zM88 264h1v1h-1zM98 273h1v1h-1zM102 254h1v1h-1zM97 274h1v1h-1zM87 263h1v1h-1zM91 268h1v1h-1zM93 251h1v1h-1zM95 270h1v1h-1zM77 270h1v1h-1zM98 256h1v1h-1zM78 267h1v1h-1zM96 265h1v1h-1zM79 253h1v1h-1zM100 262h1v1h-1zM91 249h1v1h-1zM77 266h1v1h-1zM92 267h1v1h-1zM86 269h1v1h-1zM87 272h1v1h-1zM95 255h1v1h-1zM72 260h1v1h-1zM74 268h1v1h-1zM85 260h1v1h-1zM87 253h1v1h-1zM102 269h1v1h-1zM75 253h1v1h-1zM92 262h1v1h-1zM85 267h1v1h-1zM92 270h1v1h-1zM103 253h1v1h-1zM105 264h1v1h-1zM86 266h1v1h-1zM90 263h1v1h-1zM87 252h1v1h-1zM73 265h1v1h-1zM70 258h1v1h-1zM88 270h1v1h-1zM84 269h1v1h-1zM79 268h1v1h-1zM102 268h1v1h-1zM98 252h1v1h-1zM76 267h1v1h-1zM87 262h1v1h-1zM80 277h1v1h-1zM81 262h1v1h-1zM85 241h1v1h-1zM103 264h1v1h-1zM84 275h1v1h-1zM84 257h1v1h-1zM89 261h1v1h-1zM88 268h1v1h-1zM95 259h1v1h-1zM95 260h1v1h-1zM80 267h1v1h-1zM94 249h1v1h-1zM81 244h1v1h-1zM101 271h1v1h-1zM96 257h1v1h-1zM84 255h1v1h-1zM94 250h1v1h-1zM91 270h1v1h-1zM79 259h1v1h-1zM82 273h1v1h-1zM71 256h1v1h-1zM89 248h1v1h-1zM108 268h1v1h-1zM87 277h1v1h-1zM72 269h1v1h-1zM84 250h1v1h-1zM78 246h1v1h-1zM82 262h1v1h-1zM97 268h1v1h-1zM82 246h1v1h-1zM91 274h1v1h-1zM72 246h1v1h-1zM99 276h1v1h-1zM99 269h1v1h-1zM88 252h1v1h-1zM89 260h1v1h-1zM75 252h1v1h-1zM97 266h1v1h-1zM94 252h1v1h-1zM102 272h1v1h-1zM82 271h1v1h-1zM87 266h1v1h-1zM101 250h1v1h-1zM81 269h1v1h-1zM80 271h1v1h-1zM72 256h1v1h-1zM100 273h1v1h-1zM89 278h1v1h-1zM70 267h1v1h-1zM102 277h1v1h-1zM85 268h1v1h-1zM81 249h1v1h-1zM95 249h1v1h-1zM72 247h1v1h-1zM77 258h1v1h-1zM68 259h1v1h-1zM79 252h1v1h-1zM72 253h1v1h-1zM87 258h1v1h-1zM102 271h1v1h-1zM100 271h1v1h-1zM102 273h1v1h-1zM87 273h1v1h-1zM69 258h1v1h-1zM81 245h1v1h-1zM94 277h1v1h-1zM76 258h1v1h-1zM88 251h1v1h-1zM98 269h1v1h-1zM78 265h1v1h-1zM81 276h1v1h-1zM73 257h1v1h-1zM89 269h1v1h-1zM99 246h1v1h-1zM78 266h1v1h-1zM78 257h1v1h-1zM98 254h1v1h-1zM74 262h1v1h-1zM86 275h1v1h-1zM80 274h1v1h-1zM80 255h1v1h-1zM84 263h1v1h-1zM77 247h1v1h-1zM80 259h1v1h-1zM94 259h1v1h-1zM70 263h1v1h-1zM100 252h1v1h-1zM99 263h1v1h-1zM94 271h1v1h-1zM86 260h1v1h-1zM72 257h1v1h-1zM85 253h1v1h-1zM89 275h1v1h-1zM100 275h1v1h-1zM69 253h1v1h-1zM87 264h1v1h-1zM82 276h1v1h-1zM89 251h1v1h-1zM78 240h1v1h-1zM106 270h1v1h-1zM101 257h1v1h-1zM85 252h1v1h-1zM83 247h1v1h-1zM91 245h1v1h-1zM88 250h1v1h-1zM101 273h1v1h-1zM91 255h1v1h-1zM102 257h1v1h-1zM69 255h1v1h-1zM88 260h1v1h-1zM81 257h1v1h-1zM90 269h1v1h-1zM84 256h1v1h-1zM77 246h1v1h-1zM97 251h1v1h-1zM76 249h1v1h-1zM96 246h1v1h-1zM77 256h1v1h-1zM75 263h1v1h-1zM84 262h1v1h-1zM83 250h1v1h-1zM91 262h1v1h-1zM89 253h1v1h-1zM82 253h1v1h-1zM78 251h1v1h-1zM80 253h1v1h-1zM86 261h1v1h-1zM89 259h1v1h-1zM83 254h1v1h-1zM88 254h1v1h-1zM81 261h1v1h-1zM82 260h1v1h-1zM83 249h1v1h-1zM79 251h1v1h-1zM90 254h1v1h-1zM80 261h1v1h-1zM86 255h1v1h-1zM87 259h1v1h-1zM85 263h1v1h-1zM84 258h1v1h-1zM83 262h1v1h-1zM82 259h1v1h-1zM89 249h1v1h-1zM94 257h1v1h-1zM95 256h1v1h-1zM93 261h1v1h-1zM81 259h1v1h-1zM84 261h1v1h-1zM93 255h1v1h-1zM90 250h1v1h-1zM81 250h1v1h-1zM91 261h1v1h-1zM78 260h1v1h-1zM86 262h1v1h-1zM82 265h1v1h-1zM84 264h1v1h-1zM87 251h1v1h-1zM83 258h1v1h-1zM88 249h1v1h-1zM81 248h1v1h-1zM93 262h1v1h-1zM90 251h1v1h-1zM92 256h1v1h-1zM87 255h1v1h-1zM83 248h1v1h-1zM79 260h1v1h-1zM81 254h1v1h-1zM92 252h1v1h-1zM85 258h1v1h-1zM90 248h1v1h-1zM89 265h1v1h-1zM88 253h1v1h-1zM79 258h1v1h-1zM87 265h1v1h-1zM84 254h1v1h-1zM78 252h1v1h-1zM86 252h1v1h-1zM86 254h1v1h-1zM81 263h1v1h-1zM87 254h1v1h-1zM92 251h1v1h-1zM82 263h1v1h-1zM90 261h1v1h-1zM84 248h1v1h-1zM88 255h1v1h-1zM85 261h1v1h-1zM90 257h1v1h-1zM85 265h1v1h-1zM84 253h1v1h-1zM93 258h1v1h-1zM88 266h1v1h-1zM85 249h1v1h-1zM91 264h1v1h-1zM89 256h1v1h-1zM83 252h1v1h-1zM88 258h1v1h-1zM85 254h1v1h-1zM90 260h1v1h-1zM79 255h1v1h-1zM77 257h1v1h-1zM80 249h1v1h-1zM86 246h1v1h-1zM79 249h1v1h-1zM90 255h1v1h-1zM96 258h1v1h-1zM78 254h1v1h-1zM80 256h1v1h-1zM86 265h1v1h-1zM83 253h1v1h-1zM87 256h1v1h-1zM86 251h1v1h-1zM86 248h1v1h-1zM85 256h1v1h-1zM93 259h1v1h-1zM83 259h1v1h-1zM83 255h1v1h-1zM83 260h1v1h-1zM82 257h1v1h-1zM89 257h1v1h-1zM89 255h1v1h-1zM91 260h1v1h-1zM83 251h1v1h-1zM92 260h1v1h-1zM91 265h1v1h-1zM82 249h1v1h-1zM92 254h1v1h-1zM93 260h1v1h-1zM80 254h1v1h-1zM83 265h1v1h-1zM85 259h1v1h-1zM88 247h1v1h-1zM88 259h1v1h-1zM86 250h1v1h-1zM80 252h1v1h-1zM77 260h1v1h-1zM94 256h1v1h-1zM94 253h1v1h-1zM79 250h1v1h-1zM77 259h1v1h-1zM88 248h1v1h-1zM90 247h1v1h-1zM87 250h1v1h-1zM90 253h1v1h-1zM82 254h1v1h-1zM82 256h1v1h-1zM78 259h1v1h-1zM92 250h1v1h-1zM81 252h1v1h-1zM87 247h1v1h-1zM78 261h1v1h-1zM93 263h1v1h-1zM78 255h1v1h-1zM94 255h1v1h-1zM93 254h1v1h-1zM75 260h1v1h-1zM91 257h1v1h-1zM95 262h1v1h-1zM82 247h1v1h-1zM90 256h1v1h-1zM78 253h1v1h-1zM94 262h1v1h-1zM85 251h1v1h-1zM81 247h1v1h-1zM113 279h1v1h-1zM114 247h1v1h-1zM127 267h1v1h-1zM126 249h1v1h-1zM109 275h1v1h-1zM125 254h1v1h-1zM124 276h1v1h-1zM117 249h1v1h-1zM117 276h1v1h-1zM110 259h1v1h-1zM116 274h1v1h-1zM103 266h1v1h-1zM121 272h1v1h-1zM120 271h1v1h-1zM111 245h1v1h-1zM108 270h1v1h-1zM105 274h1v1h-1zM107 274h1v1h-1zM127 261h1v1h-1zM112 251h1v1h-1zM113 263h1v1h-1zM113 253h1v1h-1zM118 265h1v1h-1zM122 278h1v1h-1zM105 251h1v1h-1zM108 281h1v1h-1zM125 277h1v1h-1zM120 259h1v1h-1zM115 269h1v1h-1zM116 269h1v1h-1zM115 261h1v1h-1zM116 260h1v1h-1zM106 280h1v1h-1zM118 267h1v1h-1zM117 274h1v1h-1zM126 258h1v1h-1zM107 262h1v1h-1zM122 251h1v1h-1zM123 274h1v1h-1zM122 263h1v1h-1zM126 265h1v1h-1zM115 267h1v1h-1zM109 271h1v1h-1zM122 259h1v1h-1zM119 252h1v1h-1zM119 258h1v1h-1zM110 276h1v1h-1zM112 273h1v1h-1zM114 259h1v1h-1zM117 279h1v1h-1zM127 265h1v1h-1zM124 261h1v1h-1zM125 265h1v1h-1zM109 267h1v1h-1zM123 266h1v1h-1zM114 267h1v1h-1zM126 257h1v1h-1zM103 256h1v1h-1zM107 247h1v1h-1zM125 260h1v1h-1zM124 262h1v1h-1zM107 277h1v1h-1zM128 277h1v1h-1zM122 264h1v1h-1zM127 269h1v1h-1zM129 264h1v1h-1zM111 260h1v1h-1zM107 257h1v1h-1zM120 267h1v1h-1zM108 259h1v1h-1zM121 259h1v1h-1zM116 256h1v1h-1zM122 279h1v1h-1zM127 264h1v1h-1zM115 253h1v1h-1zM116 257h1v1h-1zM122 275h1v1h-1zM109 258h1v1h-1zM130 258h1v1h-1zM109 248h1v1h-1zM129 263h1v1h-1zM112 259h1v1h-1zM112 245h1v1h-1zM108 274h1v1h-1zM119 275h1v1h-1zM112 250h1v1h-1zM111 251h1v1h-1zM112 264h1v1h-1zM106 263h1v1h-1zM108 250h1v1h-1zM112 257h1v1h-1zM107 278h1v1h-1zM106 269h1v1h-1zM129 282h1v1h-1zM113 271h1v1h-1zM106 281h1v1h-1zM112 262h1v1h-1zM127 263h1v1h-1zM123 256h1v1h-1zM128 274h1v1h-1zM113 249h1v1h-1zM121 253h1v1h-1zM115 264h1v1h-1zM125 253h1v1h-1zM128 273h1v1h-1zM123 267h1v1h-1zM125 268h1v1h-1zM113 276h1v1h-1zM130 263h1v1h-1zM109 255h1v1h-1zM131 264h1v1h-1zM126 253h1v1h-1zM108 271h1v1h-1zM113 250h1v1h-1zM117 269h1v1h-1zM126 277h1v1h-1zM122 253h1v1h-1zM112 248h1v1h-1zM120 270h1v1h-1zM125 263h1v1h-1zM109 277h1v1h-1zM114 256h1v1h-1zM118 272h1v1h-1zM129 273h1v1h-1zM116 245h1v1h-1zM105 280h1v1h-1zM112 260h1v1h-1zM116 252h1v1h-1zM120 258h1v1h-1zM118 249h1v1h-1zM119 269h1v1h-1zM117 250h1v1h-1zM106 267h1v1h-1zM116 254h1v1h-1zM132 279h1v1h-1zM120 244h1v1h-1zM111 270h1v1h-1zM109 256h1v1h-1zM126 254h1v1h-1zM126 259h1v1h-1zM114 276h1v1h-1zM121 247h1v1h-1zM105 277h1v1h-1zM106 258h1v1h-1zM126 267h1v1h-1zM109 260h1v1h-1zM118 262h1v1h-1zM111 248h1v1h-1zM107 263h1v1h-1zM111 250h1v1h-1zM103 275h1v1h-1zM122 271h1v1h-1zM115 262h1v1h-1zM108 272h1v1h-1zM123 253h1v1h-1zM124 254h1v1h-1zM130 277h1v1h-1zM109 253h1v1h-1zM124 269h1v1h-1zM115 278h1v1h-1zM125 280h1v1h-1zM107 272h1v1h-1zM128 262h1v1h-1zM125 276h1v1h-1zM118 269h1v1h-1zM118 248h1v1h-1zM118 274h1v1h-1zM109 273h1v1h-1zM108 262h1v1h-1zM116 276h1v1h-1zM120 253h1v1h-1zM117 256h1v1h-1zM119 268h1v1h-1zM104 257h1v1h-1zM121 258h1v1h-1zM111 262h1v1h-1zM118 246h1v1h-1zM109 268h1v1h-1zM120 260h1v1h-1zM108 249h1v1h-1zM123 254h1v1h-1zM118 254h1v1h-1zM109 270h1v1h-1zM124 252h1v1h-1zM116 247h1v1h-1zM121 251h1v1h-1zM121 264h1v1h-1zM121 270h1v1h-1zM103 265h1v1h-1zM104 272h1v1h-1zM109 249h1v1h-1zM120 273h1v1h-1zM120 275h1v1h-1zM105 271h1v1h-1zM112 268h1v1h-1zM108 257h1v1h-1zM120 269h1v1h-1zM124 277h1v1h-1zM104 256h1v1h-1zM123 275h1v1h-1zM110 274h1v1h-1zM128 255h1v1h-1zM114 258h1v1h-1zM105 253h1v1h-1zM121 271h1v1h-1zM106 277h1v1h-1zM113 260h1v1h-1zM114 273h1v1h-1zM108 246h1v1h-1zM107 276h1v1h-1zM115 248h1v1h-1zM120 277h1v1h-1zM104 277h1v1h-1zM131 265h1v1h-1zM121 275h1v1h-1zM115 257h1v1h-1zM117 247h1v1h-1zM114 277h1v1h-1zM127 258h1v1h-1zM128 267h1v1h-1zM132 274h1v1h-1zM110 257h1v1h-1zM118 266h1v1h-1zM110 252h1v1h-1zM115 276h1v1h-1zM123 276h1v1h-1zM110 263h1v1h-1zM121 277h1v1h-1zM116 251h1v1h-1zM113 277h1v1h-1zM130 268h1v1h-1zM113 272h1v1h-1zM123 264h1v1h-1zM120 274h1v1h-1zM110 270h1v1h-1zM122 277h1v1h-1zM113 262h1v1h-1zM104 251h1v1h-1zM128 263h1v1h-1zM119 274h1v1h-1zM108 277h1v1h-1zM116 277h1v1h-1zM110 266h1v1h-1zM114 272h1v1h-1zM105 254h1v1h-1zM103 261h1v1h-1zM107 270h1v1h-1zM108 258h1v1h-1zM107 260h1v1h-1zM117 283h1v1h-1zM123 265h1v1h-1zM107 252h1v1h-1zM114 282h1v1h-1zM124 250h1v1h-1zM126 264h1v1h-1zM131 261h1v1h-1zM115 245h1v1h-1zM123 259h1v1h-1zM113 254h1v1h-1zM113 255h1v1h-1zM108 252h1v1h-1zM114 265h1v1h-1zM126 262h1v1h-1zM105 273h1v1h-1zM126 261h1v1h-1zM119 249h1v1h-1zM121 254h1v1h-1zM124 263h1v1h-1zM111 275h1v1h-1zM104 263h1v1h-1zM125 250h1v1h-1zM115 249h1v1h-1zM110 247h1v1h-1zM112 266h1v1h-1zM111 265h1v1h-1zM96 270h1v1h-1zM107 275h1v1h-1zM102 282h1v1h-1zM112 274h1v1h-1zM109 265h1v1h-1zM105 270h1v1h-1zM114 270h1v1h-1zM119 273h1v1h-1zM111 271h1v1h-1zM115 265h1v1h-1zM116 264h1v1h-1zM115 272h1v1h-1zM115 270h1v1h-1zM114 280h1v1h-1zM105 269h1v1h-1zM103 278h1v1h-1zM118 268h1v1h-1zM109 264h1v1h-1zM109 269h1v1h-1zM106 260h1v1h-1zM101 282h1v1h-1zM112 271h1v1h-1zM118 279h1v1h-1zM111 273h1v1h-1zM108 278h1v1h-1zM106 275h1v1h-1zM112 276h1v1h-1zM106 272h1v1h-1zM98 278h1v1h-1zM107 266h1v1h-1zM111 276h1v1h-1zM103 269h1v1h-1zM107 280h1v1h-1zM110 271h1v1h-1zM102 270h1v1h-1zM104 270h1v1h-1zM104 276h1v1h-1zM110 267h1v1h-1zM115 266h1v1h-1zM108 264h1v1h-1zM115 297h1v1h-1zM117 287h1v1h-1zM114 300h1v1h-1zM108 280h1v1h-1zM104 309h1v1h-1zM115 280h1v1h-1zM106 297h1v1h-1zM107 284h1v1h-1zM115 279h1v1h-1zM115 283h1v1h-1zM112 296h1v1h-1zM122 289h1v1h-1zM116 300h1v1h-1zM123 292h1v1h-1zM110 280h1v1h-1zM111 286h1v1h-1zM116 298h1v1h-1zM109 289h1v1h-1zM120 293h1v1h-1zM110 287h1v1h-1zM125 297h1v1h-1zM114 289h1v1h-1zM122 285h1v1h-1zM109 280h1v1h-1zM114 290h1v1h-1zM121 284h1v1h-1zM114 283h1v1h-1zM112 285h1v1h-1zM106 299h1v1h-1zM118 287h1v1h-1zM126 289h1v1h-1zM105 283h1v1h-1zM113 301h1v1h-1zM117 292h1v1h-1zM115 281h1v1h-1zM105 288h1v1h-1zM112 308h1v1h-1zM122 294h1v1h-1zM111 289h1v1h-1zM117 296h1v1h-1zM124 295h1v1h-1zM114 301h1v1h-1zM114 306h1v1h-1zM104 291h1v1h-1zM106 294h1v1h-1zM111 292h1v1h-1zM121 279h1v1h-1zM107 287h1v1h-1zM107 285h1v1h-1zM127 290h1v1h-1zM119 281h1v1h-1zM108 305h1v1h-1zM109 286h1v1h-1zM103 289h1v1h-1zM107 296h1v1h-1zM125 294h1v1h-1zM110 282h1v1h-1zM111 310h1v1h-1zM109 290h1v1h-1zM105 296h1v1h-1zM108 284h1v1h-1zM112 306h1v1h-1zM112 280h1v1h-1zM119 286h1v1h-1zM107 304h1v1h-1zM103 298h1v1h-1zM108 295h1v1h-1zM111 287h1v1h-1zM112 303h1v1h-1zM122 299h1v1h-1zM110 290h1v1h-1zM110 301h1v1h-1zM108 307h1v1h-1zM114 291h1v1h-1zM124 299h1v1h-1zM106 285h1v1h-1zM116 303h1v1h-1zM119 292h1v1h-1zM118 304h1v1h-1zM111 293h1v1h-1zM115 294h1v1h-1zM120 305h1v1h-1zM120 303h1v1h-1zM109 285h1v1h-1zM125 295h1v1h-1zM119 290h1v1h-1zM115 289h1v1h-1zM116 304h1v1h-1zM111 307h1v1h-1zM111 284h1v1h-1zM122 290h1v1h-1zM122 292h1v1h-1zM112 284h1v1h-1zM118 285h1v1h-1zM115 287h1v1h-1zM119 289h1v1h-1zM112 293h1v1h-1zM113 306h1v1h-1zM108 290h1v1h-1zM119 298h1v1h-1zM114 304h1v1h-1zM119 302h1v1h-1zM111 283h1v1h-1zM107 301h1v1h-1zM109 301h1v1h-1zM107 305h1v1h-1zM119 297h1v1h-1zM117 288h1v1h-1zM122 281h1v1h-1zM116 293h1v1h-1zM110 283h1v1h-1zM120 288h1v1h-1zM116 284h1v1h-1zM107 293h1v1h-1zM106 305h1v1h-1zM104 300h1v1h-1zM103 302h1v1h-1zM108 289h1v1h-1zM124 288h1v1h-1zM118 308h1v1h-1zM122 302h1v1h-1zM108 283h1v1h-1zM115 288h1v1h-1zM110 305h1v1h-1zM115 308h1v1h-1zM113 294h1v1h-1zM119 287h1v1h-1zM108 312h1v1h-1zM126 295h1v1h-1zM120 300h1v1h-1zM104 297h1v1h-1zM110 307h1v1h-1zM108 285h1v1h-1zM121 285h1v1h-1zM116 297h1v1h-1zM117 300h1v1h-1zM110 295h1v1h-1zM105 291h1v1h-1zM120 298h1v1h-1zM121 286h1v1h-1zM105 306h1v1h-1zM117 299h1v1h-1zM123 291h1v1h-1zM108 302h1v1h-1zM117 303h1v1h-1zM110 292h1v1h-1zM114 298h1v1h-1zM117 304h1v1h-1zM108 301h1v1h-1zM125 287h1v1h-1zM123 303h1v1h-1zM106 298h1v1h-1zM105 284h1v1h-1zM109 287h1v1h-1zM107 290h1v1h-1zM117 289h1v1h-1zM111 305h1v1h-1zM120 297h1v1h-1zM115 290h1v1h-1zM118 292h1v1h-1zM120 304h1v1h-1zM107 291h1v1h-1zM125 291h1v1h-1zM118 307h1v1h-1zM113 282h1v1h-1zM120 281h1v1h-1zM112 307h1v1h-1zM107 295h1v1h-1zM110 304h1v1h-1zM117 305h1v1h-1zM119 293h1v1h-1zM112 299h1v1h-1zM115 302h1v1h-1zM115 284h1v1h-1zM103 286h1v1h-1zM112 304h1v1h-1zM115 295h1v1h-1zM109 302h1v1h-1zM123 289h1v1h-1zM110 288h1v1h-1zM115 296h1v1h-1zM118 303h1v1h-1zM102 296h1v1h-1zM110 293h1v1h-1zM113 298h1v1h-1zM112 305h1v1h-1zM110 302h1v1h-1zM114 297h1v1h-1zM109 300h1v1h-1zM114 295h1v1h-1zM111 303h1v1h-1zM111 296h1v1h-1zM118 302h1v1h-1zM113 297h1v1h-1zM109 295h1v1h-1zM111 298h1v1h-1zM112 295h1v1h-1zM110 296h1v1h-1zM114 303h1v1h-1zM118 300h1v1h-1zM109 293h1v1h-1zM118 296h1v1h-1zM107 298h1v1h-1zM110 294h1v1h-1zM109 294h1v1h-1zM121 301h1v1h-1zM110 303h1v1h-1zM117 294h1v1h-1zM112 302h1v1h-1zM112 291h1v1h-1zM113 299h1v1h-1zM111 302h1v1h-1zM115 300h1v1h-1zM112 290h1v1h-1zM115 293h1v1h-1zM110 299h1v1h-1zM118 291h1v1h-1zM119 294h1v1h-1zM117 290h1v1h-1zM118 295h1v1h-1zM117 298h1v1h-1zM111 294h1v1h-1zM113 304h1v1h-1zM108 297h1v1h-1zM113 296h1v1h-1zM109 303h1v1h-1zM117 293h1v1h-1zM118 293h1v1h-1zM114 294h1v1h-1zM113 290h1v1h-1zM111 295h1v1h-1zM113 289h1v1h-1zM121 299h1v1h-1zM109 292h1v1h-1zM118 299h1v1h-1zM118 288h1v1h-1zM111 291h1v1h-1zM122 300h1v1h-1zM113 308h1v1h-1zM113 295h1v1h-1zM115 301h1v1h-1zM112 301h1v1h-1zM112 292h1v1h-1zM114 296h1v1h-1zM108 291h1v1h-1zM111 299h1v1h-1zM113 300h1v1h-1zM116 295h1v1h-1zM108 300h1v1h-1zM117 297h1v1h-1zM109 296h1v1h-1zM115 306h1v1h-1zM120 295h1v1h-1zM116 305h1v1h-1zM110 306h1v1h-1zM116 301h1v1h-1zM114 288h1v1h-1zM108 296h1v1h-1zM122 296h1v1h-1zM115 291h1v1h-1zM108 298h1v1h-1zM116 296h1v1h-1zM111 301h1v1h-1zM114 302h1v1h-1zM119 301h1v1h-1zM109 297h1v1h-1zM118 294h1v1h-1zM119 300h1v1h-1zM117 302h1v1h-1zM111 297h1v1h-1zM110 298h1v1h-1zM118 297h1v1h-1zM119 299h1v1h-1zM109 298h1v1h-1zM113 293h1v1h-1zM119 296h1v1h-1zM116 294h1v1h-1zM109 299h1v1h-1zM115 304h1v1h-1zM118 301h1v1h-1zM115 292h1v1h-1zM121 293h1v1h-1zM120 291h1v1h-1zM109 304h1v1h-1zM120 294h1v1h-1zM113 288h1v1h-1zM113 287h1v1h-1zM112 289h1v1h-1zM116 291h1v1h-1zM112 294h1v1h-1zM107 292h1v1h-1zM113 292h1v1h-1zM116 286h1v1h-1zM112 297h1v1h-1zM108 293h1v1h-1zM116 289h1v1h-1zM121 297h1v1h-1zM111 300h1v1h-1zM121 294h1v1h-1zM120 299h1v1h-1zM114 299h1v1h-1zM120 292h1v1h-1zM118 298h1v1h-1zM117 301h1v1h-1zM113 291h1v1h-1zM89 290h1v1h-1zM90 288h1v1h-1zM101 296h1v1h-1zM92 295h1v1h-1zM99 287h1v1h-1zM90 279h1v1h-1zM93 290h1v1h-1zM86 279h1v1h-1zM97 291h1v1h-1zM90 289h1v1h-1zM90 286h1v1h-1zM104 282h1v1h-1zM101 281h1v1h-1zM99 292h1v1h-1zM88 285h1v1h-1zM103 287h1v1h-1zM100 289h1v1h-1zM104 286h1v1h-1zM104 295h1v1h-1zM100 290h1v1h-1zM97 288h1v1h-1zM99 293h1v1h-1zM94 283h1v1h-1zM100 283h1v1h-1zM98 293h1v1h-1zM98 289h1v1h-1zM97 292h1v1h-1zM89 294h1v1h-1zM95 297h1v1h-1zM94 296h1v1h-1zM91 295h1v1h-1zM93 293h1v1h-1zM89 287h1v1h-1zM91 280h1v1h-1zM96 292h1v1h-1zM94 286h1v1h-1zM94 291h1v1h-1zM91 283h1v1h-1zM93 316h1v1h-1zM80 298h1v1h-1zM102 281h1v1h-1zM70 294h1v1h-1zM68 318h1v1h-1zM79 304h1v1h-1zM82 295h1v1h-1zM84 295h1v1h-1zM79 324h1v1h-1zM89 279h1v1h-1zM110 311h1v1h-1zM80 312h1v1h-1zM91 297h1v1h-1zM81 286h1v1h-1zM118 273h1v1h-1zM100 329h1v1h-1zM91 272h1v1h-1zM89 293h1v1h-1zM72 286h1v1h-1zM102 312h1v1h-1zM90 290h1v1h-1zM80 304h1v1h-1zM85 281h1v1h-1zM82 277h1v1h-1zM85 293h1v1h-1zM71 275h1v1h-1zM89 280h1v1h-1zM86 290h1v1h-1zM91 332h1v1h-1zM78 276h1v1h-1zM77 290h1v1h-1zM100 298h1v1h-1zM103 279h1v1h-1zM108 292h1v1h-1zM70 299h1v1h-1zM84 290h1v1h-1zM147 275h1v1h-1zM91 307h1v1h-1zM104 293h1v1h-1zM91 300h1v1h-1zM109 281h1v1h-1zM99 308h1v1h-1zM82 288h1v1h-1zM92 291h1v1h-1zM125 323h1v1h-1zM118 319h1v1h-1zM123 320h1v1h-1zM123 307h1v1h-1zM124 318h1v1h-1zM117 308h1v1h-1zM120 318h1v1h-1zM117 321h1v1h-1zM123 321h1v1h-1zM122 319h1v1h-1zM123 323h1v1h-1zM116 330h1v1h-1zM119 330h1v1h-1zM128 309h1v1h-1zM144 330h1v1h-1zM132 325h1v1h-1zM124 311h1v1h-1zM128 305h1v1h-1zM96 321h1v1h-1zM135 329h1v1h-1zM116 314h1v1h-1zM129 310h1v1h-1zM110 325h1v1h-1zM121 326h1v1h-1zM109 318h1v1h-1zM116 327h1v1h-1zM130 309h1v1h-1zM114 316h1v1h-1zM117 317h1v1h-1zM127 319h1v1h-1zM86 245h1v1h-1zM101 245h1v1h-1zM91 246h1v1h-1zM88 240h1v1h-1zM83 232h1v1h-1zM104 247h1v1h-1zM115 232h1v1h-1zM102 240h1v1h-1zM85 239h1v1h-1zM102 232h1v1h-1zM110 243h1v1h-1zM79 237h1v1h-1zM81 239h1v1h-1zM104 240h1v1h-1z"/>
<rect x="63.8" y="210" width="122.1" height="131.9" fill="none" stroke="#000" stroke-width="1.35"/>
<path d="M103.3 210 V341.9 M63.8 279.4 H185.9" stroke="#000" stroke-width="1" fill="none"/>
<path d="M63.8 341.9 v4.8 M63.8 341.9 h-4.8 M72.99 341.9 v3.0 M63.8 331.97 h-3.0 M78.36 341.9 v3.0 M63.8 326.17 h-3.0 M82.18 341.9 v3.0 M63.8 322.05 h-3.0 M85.14 341.9 v3.0 M63.8 318.85 h-3.0 M87.55 341.9 v3.0 M63.8 316.24 h-3.0 M89.6 341.9 v3.0 M63.8 314.03 h-3.0 M91.37 341.9 v3.0 M63.8 312.12 h-3.0 M92.93 341.9 v3.0 M63.8 310.43 h-3.0 M94.33 341.9 v4.8 M63.8 308.92 h-4.8 M103.51 341.9 v3.0 M63.8 299 h-3.0 M108.89 341.9 v3.0 M63.8 293.19 h-3.0 M112.7 341.9 v3.0 M63.8 289.07 h-3.0 M115.66 341.9 v3.0 M63.8 285.88 h-3.0 M118.08 341.9 v3.0 M63.8 283.27 h-3.0 M120.12 341.9 v3.0 M63.8 281.06 h-3.0 M121.89 341.9 v3.0 M63.8 279.15 h-3.0 M123.45 341.9 v3.0 M63.8 277.46 h-3.0 M124.85 341.9 v4.8 M63.8 275.95 h-4.8 M134.04 341.9 v3.0 M63.8 266.02 h-3.0 M139.41 341.9 v3.0 M63.8 260.22 h-3.0 M143.23 341.9 v3.0 M63.8 256.1 h-3.0 M146.19 341.9 v3.0 M63.8 252.9 h-3.0 M148.6 341.9 v3.0 M63.8 250.29 h-3.0 M150.65 341.9 v3.0 M63.8 248.08 h-3.0 M152.42 341.9 v3.0 M63.8 246.17 h-3.0 M153.98 341.9 v3.0 M63.8 244.48 h-3.0 M155.38 341.9 v4.8 M63.8 242.97 h-4.8 M164.56 341.9 v3.0 M63.8 233.05 h-3.0 M169.94 341.9 v3.0 M63.8 227.24 h-3.0 M173.75 341.9 v3.0 M63.8 223.12 h-3.0 M176.71 341.9 v3.0 M63.8 219.93 h-3.0 M179.13 341.9 v3.0 M63.8 217.32 h-3.0 M181.17 341.9 v3.0 M63.8 215.11 h-3.0 M182.94 341.9 v3.0 M63.8 213.2 h-3.0 M184.5 341.9 v3.0 M63.8 211.51 h-3.0 M185.9 341.9 v4.8 M63.8 210 h-4.8" stroke="#000" stroke-width="1.05" fill="none"/>
<use href="#g1s" transform="translate(54.36,357.8) scale(0.00527,-0.00527)"/><text x="60.37" y="357.8" font-size="10.8" stroke-width="0.05">0</text><text x="67.07" y="352.4" font-size="8.5" stroke-width="0.05">0</text>
<use href="#g1s" transform="translate(84.89,357.8) scale(0.00527,-0.00527)"/><text x="90.89" y="357.8" font-size="10.8" stroke-width="0.05">0</text><use href="#g1s" transform="translate(97.11,352.4) scale(0.00415,-0.00415)"/>
<use href="#g1s" transform="translate(115.41,357.8) scale(0.00527,-0.00527)"/><text x="121.42" y="357.8" font-size="10.8" stroke-width="0.05">0</text><text x="128.02" y="352.4" font-size="8.5" stroke-width="0.05">2</text>
<use href="#g1s" transform="translate(145.94,357.8) scale(0.00527,-0.00527)"/><text x="151.94" y="357.8" font-size="10.8" stroke-width="0.05">0</text><text x="158.65" y="352.4" font-size="8.5" stroke-width="0.05">3</text>
<use href="#g1s" transform="translate(176.46,357.8) scale(0.00527,-0.00527)"/><text x="182.47" y="357.8" font-size="10.8" stroke-width="0.05">0</text><text x="189.3" y="352.4" font-size="8.5" stroke-width="0.05">4</text>
<g transform="translate(56.6,341.9) rotate(-90)"><use href="#g1s" transform="translate(-10.24,0) scale(0.00527,-0.00527)"/><text x="-4.23" y="0" font-size="10.8" stroke-width="0.05">0</text><text x="2.67" y="-5.3" font-size="8.5" stroke-width="0.05">0</text></g>
<g transform="translate(56.6,308.92) rotate(-90)"><use href="#g1s" transform="translate(-10.24,0) scale(0.00527,-0.00527)"/><text x="-4.23" y="0" font-size="10.8" stroke-width="0.05">0</text><use href="#g1s" transform="translate(2.18,-5.3) scale(0.00415,-0.00415)"/></g>
<g transform="translate(56.6,275.95) rotate(-90)"><use href="#g1s" transform="translate(-10.24,0) scale(0.00527,-0.00527)"/><text x="-4.23" y="0" font-size="10.8" stroke-width="0.05">0</text><text x="2.57" y="-5.3" font-size="8.5" stroke-width="0.05">2</text></g>
<g transform="translate(56.6,242.97) rotate(-90)"><use href="#g1s" transform="translate(-10.24,0) scale(0.00527,-0.00527)"/><text x="-4.23" y="0" font-size="10.8" stroke-width="0.05">0</text><text x="2.68" y="-5.3" font-size="8.5" stroke-width="0.05">3</text></g>
<g transform="translate(56.6,214.2) rotate(-90)"><use href="#g1s" transform="translate(-10.24,0) scale(0.00527,-0.00527)"/><text x="-4.23" y="0" font-size="10.8" stroke-width="0.05">0</text><text x="2.8" y="-5.3" font-size="8.5" stroke-width="0.05">4</text></g>
<text x="65.17" y="204.8" font-size="19.8">anti-hOSCAR</text>
<text x="71.56" y="228.5" font-size="14.8">57.5</text>
<use href="#g1" transform="translate(147.05,228.3) scale(0.00723,-0.00723)"/><text x="155.28" y="228.3" font-size="14.8">7.4</text>
<text x="69.69" y="337.1" font-size="14.8">3.5</text>
<text x="147.9" y="337.1" font-size="14.8">2</text><use href="#g1" transform="translate(156.13,337.1) scale(0.00723,-0.00723)"/><text x="164.36" y="337.1" font-size="14.8">.6</text>
<path fill="#000" d="M260 255h1v1h-1zM249 274h1v1h-1zM253 256h1v1h-1zM238 274h1v1h-1zM241 265h1v1h-1zM232 254h1v1h-1zM260 246h1v1h-1zM259 280h1v1h-1zM248 271h1v1h-1zM257 278h1v1h-1zM227 252h1v1h-1zM237 253h1v1h-1zM237 251h1v1h-1zM227 256h1v1h-1zM260 271h1v1h-1zM242 265h1v1h-1zM244 248h1v1h-1zM239 276h1v1h-1zM253 252h1v1h-1zM256 280h1v1h-1zM235 261h1v1h-1zM251 267h1v1h-1zM243 273h1v1h-1zM255 261h1v1h-1zM238 260h1v1h-1zM249 257h1v1h-1zM229 261h1v1h-1zM239 248h1v1h-1zM242 257h1v1h-1zM238 259h1v1h-1zM232 258h1v1h-1zM255 252h1v1h-1zM255 249h1v1h-1zM239 253h1v1h-1zM257 247h1v1h-1zM253 275h1v1h-1zM253 269h1v1h-1zM255 253h1v1h-1zM252 255h1v1h-1zM233 253h1v1h-1zM243 265h1v1h-1zM247 245h1v1h-1zM236 255h1v1h-1zM245 252h1v1h-1zM238 266h1v1h-1zM240 254h1v1h-1zM246 263h1v1h-1zM238 256h1v1h-1zM251 256h1v1h-1zM249 249h1v1h-1zM242 256h1v1h-1zM246 289h1v1h-1zM240 280h1v1h-1zM239 238h1v1h-1zM248 266h1v1h-1zM239 244h1v1h-1zM254 280h1v1h-1zM248 257h1v1h-1zM249 280h1v1h-1zM244 253h1v1h-1zM254 277h1v1h-1zM236 273h1v1h-1zM240 256h1v1h-1zM254 264h1v1h-1zM245 247h1v1h-1zM229 250h1v1h-1zM251 254h1v1h-1zM245 254h1v1h-1zM250 252h1v1h-1zM256 263h1v1h-1zM248 255h1v1h-1zM264 273h1v1h-1zM254 255h1v1h-1zM256 252h1v1h-1zM240 246h1v1h-1zM257 275h1v1h-1zM244 249h1v1h-1zM246 245h1v1h-1zM258 270h1v1h-1zM245 249h1v1h-1zM252 247h1v1h-1zM234 254h1v1h-1zM238 261h1v1h-1zM250 281h1v1h-1zM245 251h1v1h-1zM246 243h1v1h-1zM224 263h1v1h-1zM242 258h1v1h-1zM252 279h1v1h-1zM257 276h1v1h-1zM245 246h1v1h-1zM241 257h1v1h-1zM241 271h1v1h-1zM256 255h1v1h-1zM258 248h1v1h-1zM247 256h1v1h-1zM251 271h1v1h-1zM254 248h1v1h-1zM252 252h1v1h-1zM254 269h1v1h-1zM252 251h1v1h-1zM249 245h1v1h-1zM249 277h1v1h-1zM258 240h1v1h-1zM251 269h1v1h-1zM241 276h1v1h-1zM249 266h1v1h-1zM241 267h1v1h-1zM251 261h1v1h-1zM231 274h1v1h-1zM250 275h1v1h-1zM225 266h1v1h-1zM245 281h1v1h-1zM256 243h1v1h-1zM247 280h1v1h-1zM246 269h1v1h-1zM252 284h1v1h-1zM249 262h1v1h-1zM243 280h1v1h-1zM230 255h1v1h-1zM246 255h1v1h-1zM264 239h1v1h-1zM251 247h1v1h-1zM253 242h1v1h-1zM253 251h1v1h-1zM256 257h1v1h-1zM236 252h1v1h-1zM236 269h1v1h-1zM243 261h1v1h-1zM251 243h1v1h-1zM239 259h1v1h-1zM254 256h1v1h-1zM251 248h1v1h-1zM242 278h1v1h-1zM243 245h1v1h-1zM263 270h1v1h-1zM247 277h1v1h-1zM250 273h1v1h-1zM234 268h1v1h-1zM250 268h1v1h-1zM263 255h1v1h-1zM262 262h1v1h-1zM247 257h1v1h-1zM241 270h1v1h-1zM250 255h1v1h-1zM228 248h1v1h-1zM252 264h1v1h-1zM236 238h1v1h-1zM238 283h1v1h-1zM246 252h1v1h-1zM244 243h1v1h-1zM262 248h1v1h-1zM247 274h1v1h-1zM242 260h1v1h-1zM247 254h1v1h-1zM244 270h1v1h-1zM242 241h1v1h-1zM239 273h1v1h-1zM236 242h1v1h-1zM267 267h1v1h-1zM228 258h1v1h-1zM239 245h1v1h-1zM248 246h1v1h-1zM237 276h1v1h-1zM230 249h1v1h-1zM256 269h1v1h-1zM228 264h1v1h-1zM248 274h1v1h-1zM229 267h1v1h-1zM247 242h1v1h-1zM242 240h1v1h-1zM244 255h1v1h-1zM245 241h1v1h-1zM251 278h1v1h-1zM248 276h1v1h-1zM227 242h1v1h-1zM249 239h1v1h-1zM251 262h1v1h-1zM235 271h1v1h-1zM257 274h1v1h-1zM243 270h1v1h-1zM253 265h1v1h-1zM243 247h1v1h-1zM247 246h1v1h-1zM259 277h1v1h-1zM233 261h1v1h-1zM241 250h1v1h-1zM240 253h1v1h-1zM233 271h1v1h-1zM257 251h1v1h-1zM239 274h1v1h-1zM239 277h1v1h-1zM252 273h1v1h-1zM255 243h1v1h-1zM250 246h1v1h-1zM250 240h1v1h-1zM257 259h1v1h-1zM231 251h1v1h-1zM248 252h1v1h-1zM236 259h1v1h-1zM248 242h1v1h-1zM253 240h1v1h-1zM245 277h1v1h-1zM259 250h1v1h-1zM231 278h1v1h-1zM253 274h1v1h-1zM260 261h1v1h-1zM250 250h1v1h-1zM237 272h1v1h-1zM250 278h1v1h-1zM250 267h1v1h-1zM256 265h1v1h-1zM245 270h1v1h-1zM251 251h1v1h-1zM240 264h1v1h-1zM253 259h1v1h-1zM240 243h1v1h-1zM263 242h1v1h-1zM243 262h1v1h-1zM240 268h1v1h-1zM240 238h1v1h-1zM265 283h1v1h-1zM258 273h1v1h-1zM259 260h1v1h-1zM249 242h1v1h-1zM263 257h1v1h-1zM233 254h1v1h-1zM249 244h1v1h-1zM253 284h1v1h-1zM258 265h1v1h-1zM249 264h1v1h-1zM247 272h1v1h-1zM231 271h1v1h-1zM251 283h1v1h-1zM259 275h1v1h-1zM236 284h1v1h-1zM266 261h1v1h-1zM231 264h1v1h-1zM238 250h1v1h-1zM262 249h1v1h-1zM246 277h1v1h-1zM260 269h1v1h-1zM250 243h1v1h-1zM253 261h1v1h-1zM253 273h1v1h-1zM246 242h1v1h-1zM240 245h1v1h-1zM231 268h1v1h-1zM250 258h1v1h-1zM235 268h1v1h-1zM231 265h1v1h-1zM230 266h1v1h-1zM240 255h1v1h-1zM261 277h1v1h-1zM248 261h1v1h-1zM247 279h1v1h-1zM239 272h1v1h-1zM268 255h1v1h-1zM256 267h1v1h-1zM230 267h1v1h-1zM228 265h1v1h-1zM246 254h1v1h-1zM257 250h1v1h-1zM259 264h1v1h-1zM254 271h1v1h-1zM254 263h1v1h-1zM256 254h1v1h-1zM232 257h1v1h-1zM247 282h1v1h-1zM248 256h1v1h-1zM246 281h1v1h-1zM243 255h1v1h-1zM241 262h1v1h-1zM245 244h1v1h-1zM253 249h1v1h-1zM254 282h1v1h-1zM247 247h1v1h-1zM254 246h1v1h-1zM262 278h1v1h-1zM246 276h1v1h-1zM247 281h1v1h-1zM252 249h1v1h-1zM255 245h1v1h-1zM253 262h1v1h-1zM260 266h1v1h-1zM247 248h1v1h-1zM256 260h1v1h-1zM248 275h1v1h-1zM247 271h1v1h-1zM244 274h1v1h-1zM263 275h1v1h-1zM235 241h1v1h-1zM249 279h1v1h-1zM241 247h1v1h-1zM233 266h1v1h-1zM255 277h1v1h-1zM234 266h1v1h-1zM240 277h1v1h-1zM243 284h1v1h-1zM252 246h1v1h-1zM262 269h1v1h-1zM232 250h1v1h-1zM247 243h1v1h-1zM258 252h1v1h-1zM248 262h1v1h-1zM250 263h1v1h-1zM250 259h1v1h-1zM246 274h1v1h-1zM236 270h1v1h-1zM237 247h1v1h-1zM249 250h1v1h-1zM229 256h1v1h-1zM237 278h1v1h-1zM255 275h1v1h-1zM235 266h1v1h-1zM259 268h1v1h-1zM250 264h1v1h-1zM253 272h1v1h-1zM238 262h1v1h-1zM244 246h1v1h-1zM257 261h1v1h-1zM241 266h1v1h-1zM257 277h1v1h-1zM243 246h1v1h-1zM259 254h1v1h-1zM234 244h1v1h-1zM261 270h1v1h-1zM250 271h1v1h-1zM258 251h1v1h-1zM249 253h1v1h-1zM252 263h1v1h-1zM240 279h1v1h-1zM249 261h1v1h-1zM244 277h1v1h-1zM243 282h1v1h-1zM239 258h1v1h-1zM268 279h1v1h-1zM264 258h1v1h-1zM246 265h1v1h-1zM248 247h1v1h-1zM238 263h1v1h-1zM247 266h1v1h-1zM247 259h1v1h-1zM226 261h1v1h-1zM258 250h1v1h-1zM243 277h1v1h-1zM256 273h1v1h-1zM226 265h1v1h-1zM265 258h1v1h-1zM247 252h1v1h-1zM237 250h1v1h-1zM261 269h1v1h-1zM238 271h1v1h-1zM237 259h1v1h-1zM233 270h1v1h-1zM258 261h1v1h-1zM232 273h1v1h-1zM242 242h1v1h-1zM262 252h1v1h-1zM237 263h1v1h-1zM253 254h1v1h-1zM240 259h1v1h-1zM252 254h1v1h-1zM229 253h1v1h-1zM231 266h1v1h-1zM247 269h1v1h-1zM244 245h1v1h-1zM260 254h1v1h-1zM254 260h1v1h-1zM235 274h1v1h-1zM238 253h1v1h-1zM238 254h1v1h-1zM258 258h1v1h-1zM232 255h1v1h-1zM243 266h1v1h-1zM251 268h1v1h-1zM241 260h1v1h-1zM242 259h1v1h-1zM243 249h1v1h-1zM239 266h1v1h-1zM252 250h1v1h-1zM243 274h1v1h-1zM237 252h1v1h-1zM235 267h1v1h-1zM241 264h1v1h-1zM249 275h1v1h-1zM235 251h1v1h-1zM251 263h1v1h-1zM241 259h1v1h-1zM236 271h1v1h-1zM247 268h1v1h-1zM250 254h1v1h-1zM240 251h1v1h-1zM244 272h1v1h-1zM251 260h1v1h-1zM233 248h1v1h-1zM248 258h1v1h-1zM246 272h1v1h-1zM234 249h1v1h-1zM249 247h1v1h-1zM246 268h1v1h-1zM247 249h1v1h-1zM247 264h1v1h-1zM252 269h1v1h-1zM251 265h1v1h-1zM248 263h1v1h-1zM254 257h1v1h-1zM239 264h1v1h-1zM245 248h1v1h-1zM234 265h1v1h-1zM253 255h1v1h-1zM236 249h1v1h-1zM250 256h1v1h-1zM239 257h1v1h-1zM237 249h1v1h-1zM236 243h1v1h-1zM246 250h1v1h-1zM238 244h1v1h-1zM235 253h1v1h-1zM239 256h1v1h-1zM236 265h1v1h-1zM254 266h1v1h-1zM238 268h1v1h-1zM242 271h1v1h-1zM242 270h1v1h-1zM234 256h1v1h-1zM250 248h1v1h-1zM244 247h1v1h-1zM242 273h1v1h-1zM236 263h1v1h-1zM249 267h1v1h-1zM246 261h1v1h-1zM242 274h1v1h-1zM233 255h1v1h-1zM239 250h1v1h-1zM240 252h1v1h-1zM236 258h1v1h-1zM243 263h1v1h-1zM239 251h1v1h-1zM255 254h1v1h-1zM238 252h1v1h-1zM252 266h1v1h-1zM242 248h1v1h-1zM253 270h1v1h-1zM237 254h1v1h-1zM248 260h1v1h-1zM249 255h1v1h-1zM238 248h1v1h-1zM235 254h1v1h-1zM249 270h1v1h-1zM242 275h1v1h-1zM243 267h1v1h-1zM248 249h1v1h-1zM238 245h1v1h-1zM241 248h1v1h-1zM239 247h1v1h-1zM235 258h1v1h-1zM248 259h1v1h-1zM237 261h1v1h-1zM236 247h1v1h-1zM242 268h1v1h-1zM241 251h1v1h-1zM247 262h1v1h-1zM237 269h1v1h-1zM237 248h1v1h-1zM248 253h1v1h-1zM240 266h1v1h-1zM238 247h1v1h-1zM245 267h1v1h-1zM236 248h1v1h-1zM234 250h1v1h-1zM242 245h1v1h-1zM233 265h1v1h-1zM240 271h1v1h-1zM239 249h1v1h-1zM234 263h1v1h-1zM233 256h1v1h-1zM242 267h1v1h-1zM245 263h1v1h-1zM235 256h1v1h-1zM252 259h1v1h-1zM238 249h1v1h-1zM249 260h1v1h-1zM247 265h1v1h-1zM245 264h1v1h-1zM244 258h1v1h-1zM239 246h1v1h-1zM249 272h1v1h-1zM234 257h1v1h-1zM234 261h1v1h-1zM242 250h1v1h-1zM255 260h1v1h-1zM242 266h1v1h-1zM236 246h1v1h-1zM242 253h1v1h-1zM245 265h1v1h-1zM247 261h1v1h-1zM237 267h1v1h-1zM238 246h1v1h-1zM251 266h1v1h-1zM243 250h1v1h-1zM235 246h1v1h-1zM235 262h1v1h-1zM246 253h1v1h-1zM244 250h1v1h-1zM241 269h1v1h-1zM250 262h1v1h-1zM250 247h1v1h-1zM250 251h1v1h-1zM240 258h1v1h-1zM238 272h1v1h-1zM241 263h1v1h-1zM245 274h1v1h-1zM239 262h1v1h-1zM250 257h1v1h-1zM247 255h1v1h-1zM235 249h1v1h-1zM240 260h1v1h-1zM235 255h1v1h-1zM236 253h1v1h-1zM245 269h1v1h-1zM244 265h1v1h-1zM234 258h1v1h-1zM243 264h1v1h-1zM255 266h1v1h-1zM244 271h1v1h-1zM240 270h1v1h-1zM234 253h1v1h-1zM241 274h1v1h-1zM243 260h1v1h-1zM250 269h1v1h-1zM248 250h1v1h-1zM243 259h1v1h-1zM238 269h1v1h-1zM247 258h1v1h-1zM240 273h1v1h-1zM246 247h1v1h-1zM244 262h1v1h-1zM242 261h1v1h-1zM236 250h1v1h-1zM236 266h1v1h-1zM251 258h1v1h-1zM255 263h1v1h-1zM245 272h1v1h-1zM238 270h1v1h-1zM247 260h1v1h-1zM249 252h1v1h-1zM238 243h1v1h-1zM243 251h1v1h-1zM238 267h1v1h-1zM236 256h1v1h-1zM251 257h1v1h-1zM241 252h1v1h-1zM247 270h1v1h-1zM251 246h1v1h-1zM238 273h1v1h-1zM248 254h1v1h-1zM244 269h1v1h-1zM251 270h1v1h-1zM249 273h1v1h-1zM246 266h1v1h-1zM241 245h1v1h-1zM246 251h1v1h-1zM250 265h1v1h-1zM245 256h1v1h-1zM251 252h1v1h-1zM247 275h1v1h-1zM254 254h1v1h-1zM235 260h1v1h-1zM241 243h1v1h-1zM252 271h1v1h-1zM252 262h1v1h-1zM249 254h1v1h-1zM252 257h1v1h-1zM249 248h1v1h-1zM252 265h1v1h-1zM247 267h1v1h-1zM248 251h1v1h-1zM241 249h1v1h-1zM243 268h1v1h-1zM245 268h1v1h-1zM237 268h1v1h-1zM233 263h1v1h-1zM240 265h1v1h-1zM239 271h1v1h-1zM236 261h1v1h-1zM246 258h1v1h-1zM246 271h1v1h-1zM241 255h1v1h-1zM241 253h1v1h-1zM235 264h1v1h-1zM248 245h1v1h-1zM235 247h1v1h-1zM241 273h1v1h-1zM246 248h1v1h-1zM242 255h1v1h-1zM240 250h1v1h-1zM248 268h1v1h-1zM234 255h1v1h-1zM242 264h1v1h-1zM249 263h1v1h-1zM251 250h1v1h-1zM239 254h1v1h-1zM245 243h1v1h-1zM233 252h1v1h-1zM250 266h1v1h-1zM244 273h1v1h-1zM246 273h1v1h-1zM247 253h1v1h-1zM245 260h1v1h-1zM236 262h1v1h-1zM244 259h1v1h-1zM245 259h1v1h-1zM234 262h1v1h-1zM242 252h1v1h-1zM235 263h1v1h-1zM250 270h1v1h-1zM240 262h1v1h-1zM238 251h1v1h-1zM248 265h1v1h-1zM248 273h1v1h-1zM250 261h1v1h-1zM240 247h1v1h-1zM252 270h1v1h-1zM248 269h1v1h-1zM239 261h1v1h-1zM246 264h1v1h-1zM239 260h1v1h-1zM252 253h1v1h-1zM253 260h1v1h-1zM244 263h1v1h-1zM232 256h1v1h-1zM242 249h1v1h-1zM249 268h1v1h-1zM241 258h1v1h-1zM244 267h1v1h-1zM240 244h1v1h-1zM250 245h1v1h-1zM234 248h1v1h-1zM238 242h1v1h-1zM242 244h1v1h-1zM239 269h1v1h-1zM237 256h1v1h-1zM243 253h1v1h-1zM236 264h1v1h-1zM245 266h1v1h-1zM242 243h1v1h-1zM246 246h1v1h-1zM244 252h1v1h-1zM237 255h1v1h-1zM245 245h1v1h-1zM232 259h1v1h-1zM242 246h1v1h-1zM252 261h1v1h-1zM237 246h1v1h-1zM243 275h1v1h-1zM241 268h1v1h-1zM237 244h1v1h-1zM247 273h1v1h-1zM252 248h1v1h-1zM250 253h1v1h-1zM239 252h1v1h-1zM249 258h1v1h-1zM250 244h1v1h-1zM248 248h1v1h-1zM242 254h1v1h-1zM241 261h1v1h-1zM240 274h1v1h-1zM260 256h1v1h-1zM261 273h1v1h-1zM255 247h1v1h-1zM263 260h1v1h-1zM256 277h1v1h-1zM258 271h1v1h-1zM260 259h1v1h-1zM256 266h1v1h-1zM260 263h1v1h-1zM260 277h1v1h-1zM256 278h1v1h-1zM256 274h1v1h-1zM262 264h1v1h-1zM259 265h1v1h-1zM255 265h1v1h-1zM262 254h1v1h-1zM255 262h1v1h-1zM252 276h1v1h-1zM254 249h1v1h-1zM259 276h1v1h-1zM257 255h1v1h-1zM254 265h1v1h-1zM261 276h1v1h-1zM253 271h1v1h-1zM254 267h1v1h-1zM263 272h1v1h-1zM252 245h1v1h-1zM251 272h1v1h-1zM258 263h1v1h-1zM259 256h1v1h-1zM257 258h1v1h-1zM261 271h1v1h-1zM261 253h1v1h-1zM254 261h1v1h-1zM260 257h1v1h-1zM253 263h1v1h-1zM258 255h1v1h-1zM259 257h1v1h-1zM255 258h1v1h-1zM260 260h1v1h-1zM261 261h1v1h-1zM256 261h1v1h-1zM253 266h1v1h-1zM263 258h1v1h-1zM260 275h1v1h-1zM262 274h1v1h-1zM256 270h1v1h-1zM258 279h1v1h-1zM252 267h1v1h-1zM257 266h1v1h-1zM254 262h1v1h-1zM256 250h1v1h-1zM262 263h1v1h-1zM261 255h1v1h-1zM259 253h1v1h-1zM263 253h1v1h-1zM264 264h1v1h-1zM252 268h1v1h-1zM262 277h1v1h-1zM253 267h1v1h-1zM253 279h1v1h-1zM264 272h1v1h-1zM260 274h1v1h-1zM261 275h1v1h-1zM251 273h1v1h-1zM259 270h1v1h-1zM253 277h1v1h-1zM259 251h1v1h-1zM259 279h1v1h-1zM263 269h1v1h-1zM251 276h1v1h-1zM253 258h1v1h-1zM261 256h1v1h-1zM263 276h1v1h-1zM263 266h1v1h-1zM261 267h1v1h-1zM257 270h1v1h-1zM262 267h1v1h-1zM260 264h1v1h-1zM257 253h1v1h-1zM258 253h1v1h-1zM262 260h1v1h-1zM255 278h1v1h-1zM257 252h1v1h-1zM258 277h1v1h-1zM254 279h1v1h-1zM261 262h1v1h-1zM253 280h1v1h-1zM264 279h1v1h-1zM262 256h1v1h-1zM261 274h1v1h-1zM259 271h1v1h-1zM253 264h1v1h-1zM260 276h1v1h-1zM251 249h1v1h-1zM259 269h1v1h-1zM254 268h1v1h-1zM254 275h1v1h-1zM257 273h1v1h-1zM259 263h1v1h-1zM260 273h1v1h-1zM252 275h1v1h-1zM268 258h1v1h-1zM271 274h1v1h-1zM265 273h1v1h-1zM279 283h1v1h-1zM269 261h1v1h-1zM275 263h1v1h-1zM273 276h1v1h-1zM261 285h1v1h-1zM274 275h1v1h-1zM286 270h1v1h-1zM271 268h1v1h-1zM263 279h1v1h-1zM280 263h1v1h-1zM265 279h1v1h-1zM282 275h1v1h-1zM275 273h1v1h-1zM269 254h1v1h-1zM273 273h1v1h-1zM277 260h1v1h-1zM280 277h1v1h-1zM275 269h1v1h-1zM273 260h1v1h-1zM283 267h1v1h-1zM278 260h1v1h-1zM283 269h1v1h-1zM266 266h1v1h-1zM266 278h1v1h-1zM271 269h1v1h-1zM269 271h1v1h-1zM277 253h1v1h-1zM272 265h1v1h-1zM277 276h1v1h-1zM275 257h1v1h-1zM286 269h1v1h-1zM278 269h1v1h-1zM266 252h1v1h-1zM263 263h1v1h-1zM277 266h1v1h-1zM285 260h1v1h-1zM278 258h1v1h-1zM266 264h1v1h-1zM284 272h1v1h-1zM267 259h1v1h-1zM286 264h1v1h-1zM274 256h1v1h-1zM272 258h1v1h-1zM281 261h1v1h-1zM273 255h1v1h-1zM273 275h1v1h-1zM268 274h1v1h-1zM269 259h1v1h-1zM268 253h1v1h-1zM275 282h1v1h-1zM270 254h1v1h-1zM272 276h1v1h-1zM277 267h1v1h-1zM273 269h1v1h-1zM268 272h1v1h-1zM272 271h1v1h-1zM266 283h1v1h-1zM281 259h1v1h-1zM276 257h1v1h-1zM279 278h1v1h-1zM280 265h1v1h-1zM279 268h1v1h-1zM268 269h1v1h-1zM269 264h1v1h-1zM272 262h1v1h-1zM272 270h1v1h-1zM271 265h1v1h-1zM280 266h1v1h-1zM276 266h1v1h-1zM269 252h1v1h-1zM277 281h1v1h-1zM278 278h1v1h-1zM268 277h1v1h-1zM276 280h1v1h-1zM269 256h1v1h-1zM275 275h1v1h-1zM281 260h1v1h-1zM264 270h1v1h-1zM267 266h1v1h-1zM274 265h1v1h-1zM279 267h1v1h-1zM280 271h1v1h-1zM278 261h1v1h-1zM275 259h1v1h-1zM276 264h1v1h-1zM284 265h1v1h-1zM287 272h1v1h-1zM273 245h1v1h-1zM279 282h1v1h-1zM270 286h1v1h-1zM276 267h1v1h-1zM264 269h1v1h-1zM278 270h1v1h-1zM283 254h1v1h-1zM267 274h1v1h-1zM267 264h1v1h-1zM270 274h1v1h-1zM281 273h1v1h-1zM277 272h1v1h-1zM268 248h1v1h-1zM285 259h1v1h-1zM284 268h1v1h-1zM263 278h1v1h-1zM269 268h1v1h-1zM270 259h1v1h-1zM267 271h1v1h-1zM266 275h1v1h-1zM270 253h1v1h-1zM272 263h1v1h-1zM271 253h1v1h-1zM268 262h1v1h-1zM263 259h1v1h-1zM268 283h1v1h-1zM275 267h1v1h-1zM272 259h1v1h-1zM281 272h1v1h-1zM268 260h1v1h-1zM264 276h1v1h-1zM280 267h1v1h-1zM280 262h1v1h-1zM284 264h1v1h-1zM270 261h1v1h-1zM264 260h1v1h-1zM272 266h1v1h-1zM275 262h1v1h-1zM269 257h1v1h-1zM269 269h1v1h-1zM264 275h1v1h-1zM280 259h1v1h-1zM271 247h1v1h-1zM273 264h1v1h-1zM285 269h1v1h-1zM264 288h1v1h-1zM265 256h1v1h-1zM265 266h1v1h-1zM276 263h1v1h-1zM271 257h1v1h-1zM267 278h1v1h-1zM270 249h1v1h-1zM265 272h1v1h-1zM282 272h1v1h-1zM271 252h1v1h-1zM263 268h1v1h-1zM264 271h1v1h-1zM283 275h1v1h-1zM263 273h1v1h-1zM266 256h1v1h-1zM269 280h1v1h-1zM276 261h1v1h-1zM267 263h1v1h-1zM275 261h1v1h-1zM261 260h1v1h-1zM271 255h1v1h-1zM285 266h1v1h-1zM276 271h1v1h-1zM277 256h1v1h-1zM278 284h1v1h-1zM266 280h1v1h-1zM277 278h1v1h-1zM273 256h1v1h-1zM266 249h1v1h-1zM263 254h1v1h-1zM260 253h1v1h-1zM274 258h1v1h-1zM281 266h1v1h-1zM265 267h1v1h-1zM271 258h1v1h-1zM265 249h1v1h-1zM273 272h1v1h-1zM274 260h1v1h-1zM273 247h1v1h-1zM272 254h1v1h-1zM280 274h1v1h-1zM274 255h1v1h-1zM269 250h1v1h-1zM276 254h1v1h-1zM270 273h1v1h-1zM275 264h1v1h-1zM285 263h1v1h-1zM265 277h1v1h-1zM268 270h1v1h-1zM277 264h1v1h-1zM271 263h1v1h-1zM273 268h1v1h-1zM278 277h1v1h-1zM276 274h1v1h-1zM274 264h1v1h-1zM269 258h1v1h-1zM271 264h1v1h-1zM276 279h1v1h-1zM272 280h1v1h-1zM271 261h1v1h-1zM282 263h1v1h-1zM267 253h1v1h-1zM283 276h1v1h-1zM268 257h1v1h-1zM274 250h1v1h-1zM273 252h1v1h-1zM266 267h1v1h-1zM256 268h1v1h-1zM286 255h1v1h-1zM281 276h1v1h-1zM265 263h1v1h-1zM270 252h1v1h-1zM268 256h1v1h-1zM271 262h1v1h-1zM271 275h1v1h-1zM258 274h1v1h-1zM272 274h1v1h-1zM277 280h1v1h-1zM257 271h1v1h-1zM263 265h1v1h-1zM272 277h1v1h-1zM266 273h1v1h-1zM268 276h1v1h-1zM285 270h1v1h-1zM263 277h1v1h-1zM262 270h1v1h-1zM265 281h1v1h-1zM273 278h1v1h-1zM270 276h1v1h-1zM267 275h1v1h-1zM259 272h1v1h-1zM265 276h1v1h-1zM266 277h1v1h-1zM284 275h1v1h-1zM270 270h1v1h-1zM264 274h1v1h-1zM267 269h1v1h-1zM254 274h1v1h-1zM257 282h1v1h-1zM238 293h1v1h-1zM287 287h1v1h-1zM253 287h1v1h-1zM262 287h1v1h-1zM248 290h1v1h-1zM266 292h1v1h-1zM284 291h1v1h-1zM255 284h1v1h-1zM248 284h1v1h-1zM283 296h1v1h-1zM283 293h1v1h-1zM269 284h1v1h-1zM236 286h1v1h-1zM248 285h1v1h-1zM248 281h1v1h-1zM261 279h1v1h-1zM277 291h1v1h-1zM270 287h1v1h-1zM283 280h1v1h-1zM271 291h1v1h-1zM251 285h1v1h-1zM242 282h1v1h-1zM269 291h1v1h-1zM261 291h1v1h-1zM255 282h1v1h-1zM243 287h1v1h-1zM243 285h1v1h-1zM266 286h1v1h-1zM249 294h1v1h-1zM247 287h1v1h-1zM263 296h1v1h-1zM283 289h1v1h-1zM240 286h1v1h-1zM262 290h1v1h-1zM249 293h1v1h-1zM249 295h1v1h-1zM261 283h1v1h-1zM273 288h1v1h-1zM271 285h1v1h-1zM278 281h1v1h-1zM260 282h1v1h-1zM272 283h1v1h-1zM279 279h1v1h-1zM255 288h1v1h-1zM284 282h1v1h-1zM273 283h1v1h-1zM265 291h1v1h-1zM269 288h1v1h-1zM272 282h1v1h-1zM280 278h1v1h-1zM276 286h1v1h-1zM260 288h1v1h-1zM254 281h1v1h-1zM235 294h1v1h-1zM276 283h1v1h-1zM254 287h1v1h-1zM263 287h1v1h-1zM263 292h1v1h-1zM269 286h1v1h-1zM270 284h1v1h-1zM251 287h1v1h-1zM261 293h1v1h-1zM232 282h1v1h-1zM263 286h1v1h-1zM252 289h1v1h-1zM255 279h1v1h-1zM233 286h1v1h-1zM286 280h1v1h-1zM262 283h1v1h-1zM281 292h1v1h-1zM251 292h1v1h-1zM267 288h1v1h-1zM255 291h1v1h-1zM231 283h1v1h-1zM249 297h1v1h-1zM234 323h1v1h-1zM237 326h1v1h-1zM253 302h1v1h-1zM254 304h1v1h-1zM248 299h1v1h-1zM270 312h1v1h-1zM226 304h1v1h-1zM244 314h1v1h-1zM228 301h1v1h-1zM238 315h1v1h-1zM266 305h1v1h-1zM246 305h1v1h-1zM279 307h1v1h-1zM251 317h1v1h-1zM271 309h1v1h-1zM260 296h1v1h-1zM254 303h1v1h-1zM247 316h1v1h-1zM258 323h1v1h-1zM247 318h1v1h-1zM254 315h1v1h-1zM242 292h1v1h-1zM258 311h1v1h-1zM251 320h1v1h-1zM236 300h1v1h-1zM241 305h1v1h-1zM261 292h1v1h-1zM244 323h1v1h-1zM241 299h1v1h-1zM246 293h1v1h-1zM250 298h1v1h-1zM239 315h1v1h-1zM226 314h1v1h-1zM239 332h1v1h-1zM234 331h1v1h-1zM258 321h1v1h-1zM254 328h1v1h-1zM256 318h1v1h-1zM240 317h1v1h-1zM262 299h1v1h-1zM249 312h1v1h-1z"/><polygon fill="#000" points="237,245.5 243,242.5 249,243.5 251,250 251.5,262 249.5,269 242,270 237,265 235.5,252"/>
<rect x="223.1" y="210" width="122.4" height="131.9" fill="none" stroke="#000" stroke-width="1.35"/>
<path d="M262.6 210 V341.9 M223.1 279.4 H345.5" stroke="#000" stroke-width="1" fill="none"/>
<path d="M223.1 341.9 v4.8 M223.1 341.9 h-4.8 M232.31 341.9 v3.0 M223.1 331.97 h-3.0 M237.7 341.9 v3.0 M223.1 326.17 h-3.0 M241.52 341.9 v3.0 M223.1 322.05 h-3.0 M244.49 341.9 v3.0 M223.1 318.85 h-3.0 M246.91 341.9 v3.0 M223.1 316.24 h-3.0 M248.96 341.9 v3.0 M223.1 314.03 h-3.0 M250.73 341.9 v3.0 M223.1 312.12 h-3.0 M252.3 341.9 v3.0 M223.1 310.43 h-3.0 M253.7 341.9 v4.8 M223.1 308.92 h-4.8 M262.91 341.9 v3.0 M223.1 299 h-3.0 M268.3 341.9 v3.0 M223.1 293.19 h-3.0 M272.12 341.9 v3.0 M223.1 289.07 h-3.0 M275.09 341.9 v3.0 M223.1 285.88 h-3.0 M277.51 341.9 v3.0 M223.1 283.27 h-3.0 M279.56 341.9 v3.0 M223.1 281.06 h-3.0 M281.33 341.9 v3.0 M223.1 279.15 h-3.0 M282.9 341.9 v3.0 M223.1 277.46 h-3.0 M284.3 341.9 v4.8 M223.1 275.95 h-4.8 M293.51 341.9 v3.0 M223.1 266.02 h-3.0 M298.9 341.9 v3.0 M223.1 260.22 h-3.0 M302.72 341.9 v3.0 M223.1 256.1 h-3.0 M305.69 341.9 v3.0 M223.1 252.9 h-3.0 M308.11 341.9 v3.0 M223.1 250.29 h-3.0 M310.16 341.9 v3.0 M223.1 248.08 h-3.0 M311.93 341.9 v3.0 M223.1 246.17 h-3.0 M313.5 341.9 v3.0 M223.1 244.48 h-3.0 M314.9 341.9 v4.8 M223.1 242.97 h-4.8 M324.11 341.9 v3.0 M223.1 233.05 h-3.0 M329.5 341.9 v3.0 M223.1 227.24 h-3.0 M333.32 341.9 v3.0 M223.1 223.12 h-3.0 M336.29 341.9 v3.0 M223.1 219.93 h-3.0 M338.71 341.9 v3.0 M223.1 217.32 h-3.0 M340.76 341.9 v3.0 M223.1 215.11 h-3.0 M342.53 341.9 v3.0 M223.1 213.2 h-3.0 M344.1 341.9 v3.0 M223.1 211.51 h-3.0 M345.5 341.9 v4.8 M223.1 210 h-4.8" stroke="#000" stroke-width="1.05" fill="none"/>
<use href="#g1s" transform="translate(213.66,357.8) scale(0.00527,-0.00527)"/><text x="219.67" y="357.8" font-size="10.8" stroke-width="0.05">0</text><text x="226.37" y="352.4" font-size="8.5" stroke-width="0.05">0</text>
<use href="#g1s" transform="translate(244.26,357.8) scale(0.00527,-0.00527)"/><text x="250.27" y="357.8" font-size="10.8" stroke-width="0.05">0</text><use href="#g1s" transform="translate(256.48,352.4) scale(0.00415,-0.00415)"/>
<use href="#g1s" transform="translate(274.86,357.8) scale(0.00527,-0.00527)"/><text x="280.87" y="357.8" font-size="10.8" stroke-width="0.05">0</text><text x="287.47" y="352.4" font-size="8.5" stroke-width="0.05">2</text>
<use href="#g1s" transform="translate(305.46,357.8) scale(0.00527,-0.00527)"/><text x="311.47" y="357.8" font-size="10.8" stroke-width="0.05">0</text><text x="318.18" y="352.4" font-size="8.5" stroke-width="0.05">3</text>
<use href="#g1s" transform="translate(336.06,357.8) scale(0.00527,-0.00527)"/><text x="342.07" y="357.8" font-size="10.8" stroke-width="0.05">0</text><text x="348.9" y="352.4" font-size="8.5" stroke-width="0.05">4</text>
<g transform="translate(215.9,341.9) rotate(-90)"><use href="#g1s" transform="translate(-10.24,0) scale(0.00527,-0.00527)"/><text x="-4.23" y="0" font-size="10.8" stroke-width="0.05">0</text><text x="2.67" y="-5.3" font-size="8.5" stroke-width="0.05">0</text></g>
<g transform="translate(215.9,308.92) rotate(-90)"><use href="#g1s" transform="translate(-10.24,0) scale(0.00527,-0.00527)"/><text x="-4.23" y="0" font-size="10.8" stroke-width="0.05">0</text><use href="#g1s" transform="translate(2.18,-5.3) scale(0.00415,-0.00415)"/></g>
<g transform="translate(215.9,275.95) rotate(-90)"><use href="#g1s" transform="translate(-10.24,0) scale(0.00527,-0.00527)"/><text x="-4.23" y="0" font-size="10.8" stroke-width="0.05">0</text><text x="2.57" y="-5.3" font-size="8.5" stroke-width="0.05">2</text></g>
<g transform="translate(215.9,242.97) rotate(-90)"><use href="#g1s" transform="translate(-10.24,0) scale(0.00527,-0.00527)"/><text x="-4.23" y="0" font-size="10.8" stroke-width="0.05">0</text><text x="2.68" y="-5.3" font-size="8.5" stroke-width="0.05">3</text></g>
<g transform="translate(215.9,214.2) rotate(-90)"><use href="#g1s" transform="translate(-10.24,0) scale(0.00527,-0.00527)"/><text x="-4.23" y="0" font-size="10.8" stroke-width="0.05">0</text><text x="2.8" y="-5.3" font-size="8.5" stroke-width="0.05">4</text></g>
<text x="265.73" y="204.8" font-size="19.7">LPS</text>
<text x="231.25" y="228.5" font-size="14.8">82.8</text>
<use href="#g1" transform="translate(306.59,228.5) scale(0.00723,-0.00723)"/><text x="314.82" y="228.5" font-size="14.8">0.9</text>
<text x="228.92" y="336.9" font-size="14.8">4.7</text>
<use href="#g1" transform="translate(320.88,337.3) scale(0.00723,-0.00723)"/><text x="329.11" y="337.3" font-size="14.8">.6</text>
<path fill="#000" d="M404 264h1v1h-1zM402 265h1v1h-1zM426 266h1v1h-1zM410 247h1v1h-1zM425 271h1v1h-1zM399 271h1v1h-1zM410 275h1v1h-1zM418 258h1v1h-1zM423 264h1v1h-1zM415 272h1v1h-1zM411 276h1v1h-1zM409 262h1v1h-1zM403 278h1v1h-1zM409 254h1v1h-1zM418 271h1v1h-1zM397 267h1v1h-1zM413 277h1v1h-1zM409 251h1v1h-1zM403 273h1v1h-1zM401 265h1v1h-1zM415 260h1v1h-1zM406 257h1v1h-1zM418 261h1v1h-1zM408 255h1v1h-1zM398 263h1v1h-1zM411 275h1v1h-1zM405 277h1v1h-1zM402 252h1v1h-1zM405 275h1v1h-1zM412 269h1v1h-1zM399 266h1v1h-1zM412 274h1v1h-1zM418 269h1v1h-1zM415 277h1v1h-1zM399 268h1v1h-1zM409 275h1v1h-1zM421 269h1v1h-1zM410 254h1v1h-1zM405 270h1v1h-1zM404 271h1v1h-1zM407 260h1v1h-1zM398 278h1v1h-1zM399 258h1v1h-1zM418 266h1v1h-1zM415 256h1v1h-1zM396 258h1v1h-1zM417 254h1v1h-1zM402 260h1v1h-1zM414 279h1v1h-1zM417 269h1v1h-1zM420 258h1v1h-1zM400 253h1v1h-1zM403 256h1v1h-1zM417 276h1v1h-1zM408 268h1v1h-1zM399 261h1v1h-1zM411 244h1v1h-1zM403 258h1v1h-1zM419 282h1v1h-1zM403 274h1v1h-1zM407 265h1v1h-1zM422 262h1v1h-1zM419 277h1v1h-1zM412 264h1v1h-1zM414 276h1v1h-1zM397 251h1v1h-1zM406 262h1v1h-1zM402 270h1v1h-1zM404 249h1v1h-1zM419 270h1v1h-1zM416 258h1v1h-1zM418 263h1v1h-1zM417 249h1v1h-1zM422 271h1v1h-1zM409 257h1v1h-1zM410 252h1v1h-1zM420 271h1v1h-1zM419 274h1v1h-1zM423 267h1v1h-1zM403 271h1v1h-1zM418 256h1v1h-1zM415 273h1v1h-1zM410 268h1v1h-1zM401 270h1v1h-1zM412 251h1v1h-1zM405 269h1v1h-1zM416 269h1v1h-1zM416 254h1v1h-1zM422 272h1v1h-1zM391 267h1v1h-1zM417 258h1v1h-1zM422 257h1v1h-1zM414 266h1v1h-1zM417 277h1v1h-1zM409 272h1v1h-1zM406 274h1v1h-1zM408 253h1v1h-1zM418 253h1v1h-1zM423 273h1v1h-1zM416 278h1v1h-1zM403 263h1v1h-1zM414 269h1v1h-1zM418 272h1v1h-1zM417 255h1v1h-1zM422 255h1v1h-1zM413 250h1v1h-1zM400 248h1v1h-1zM404 251h1v1h-1zM411 254h1v1h-1zM409 264h1v1h-1zM416 263h1v1h-1zM421 276h1v1h-1zM413 258h1v1h-1zM404 254h1v1h-1zM407 267h1v1h-1zM403 275h1v1h-1zM401 260h1v1h-1zM419 250h1v1h-1zM415 280h1v1h-1zM414 272h1v1h-1zM400 256h1v1h-1zM404 273h1v1h-1zM411 265h1v1h-1zM415 270h1v1h-1zM420 275h1v1h-1zM416 257h1v1h-1zM416 253h1v1h-1zM406 267h1v1h-1zM393 266h1v1h-1zM416 260h1v1h-1zM423 257h1v1h-1zM413 268h1v1h-1zM399 262h1v1h-1zM410 258h1v1h-1zM394 261h1v1h-1zM406 265h1v1h-1zM400 264h1v1h-1zM404 275h1v1h-1zM398 253h1v1h-1zM417 261h1v1h-1zM420 272h1v1h-1zM422 265h1v1h-1zM410 277h1v1h-1zM404 252h1v1h-1zM411 267h1v1h-1zM403 259h1v1h-1zM426 272h1v1h-1zM404 253h1v1h-1zM415 252h1v1h-1zM409 250h1v1h-1zM408 256h1v1h-1zM424 266h1v1h-1zM405 259h1v1h-1zM409 260h1v1h-1zM418 273h1v1h-1zM413 275h1v1h-1zM408 254h1v1h-1zM400 260h1v1h-1zM407 256h1v1h-1zM417 253h1v1h-1zM399 272h1v1h-1zM409 252h1v1h-1zM401 250h1v1h-1zM406 256h1v1h-1zM413 256h1v1h-1zM394 269h1v1h-1zM415 253h1v1h-1zM406 260h1v1h-1zM403 264h1v1h-1zM416 259h1v1h-1zM424 265h1v1h-1zM399 257h1v1h-1zM415 265h1v1h-1zM414 278h1v1h-1zM422 268h1v1h-1zM412 260h1v1h-1zM417 260h1v1h-1zM398 266h1v1h-1zM414 273h1v1h-1zM405 267h1v1h-1zM410 244h1v1h-1zM403 266h1v1h-1zM415 261h1v1h-1zM398 251h1v1h-1zM417 278h1v1h-1zM415 276h1v1h-1zM412 250h1v1h-1zM406 280h1v1h-1zM408 258h1v1h-1zM417 275h1v1h-1zM414 263h1v1h-1zM418 265h1v1h-1zM404 267h1v1h-1zM418 260h1v1h-1zM416 271h1v1h-1zM417 262h1v1h-1zM416 275h1v1h-1zM407 276h1v1h-1zM411 268h1v1h-1zM413 257h1v1h-1zM409 258h1v1h-1zM401 268h1v1h-1zM409 256h1v1h-1zM401 261h1v1h-1zM405 262h1v1h-1zM400 251h1v1h-1zM406 271h1v1h-1zM425 272h1v1h-1zM407 275h1v1h-1zM404 257h1v1h-1zM412 279h1v1h-1zM400 252h1v1h-1zM398 270h1v1h-1zM396 265h1v1h-1zM410 248h1v1h-1zM410 276h1v1h-1zM411 280h1v1h-1zM407 255h1v1h-1zM397 271h1v1h-1zM414 254h1v1h-1zM408 265h1v1h-1zM417 256h1v1h-1zM420 279h1v1h-1zM420 257h1v1h-1zM406 276h1v1h-1zM425 261h1v1h-1zM403 249h1v1h-1zM415 263h1v1h-1zM410 278h1v1h-1zM399 265h1v1h-1zM397 266h1v1h-1zM419 271h1v1h-1zM394 259h1v1h-1zM424 273h1v1h-1zM397 256h1v1h-1zM414 270h1v1h-1zM406 251h1v1h-1zM410 257h1v1h-1zM414 259h1v1h-1zM421 270h1v1h-1zM406 258h1v1h-1zM398 255h1v1h-1zM409 249h1v1h-1zM415 266h1v1h-1zM422 266h1v1h-1zM396 256h1v1h-1zM411 278h1v1h-1zM408 270h1v1h-1zM397 262h1v1h-1zM413 262h1v1h-1zM400 270h1v1h-1zM397 269h1v1h-1zM417 268h1v1h-1zM418 275h1v1h-1zM418 267h1v1h-1zM408 251h1v1h-1zM411 256h1v1h-1zM407 271h1v1h-1zM408 261h1v1h-1zM408 271h1v1h-1zM404 269h1v1h-1zM415 251h1v1h-1zM414 268h1v1h-1zM402 247h1v1h-1zM394 258h1v1h-1zM417 273h1v1h-1zM402 251h1v1h-1zM399 263h1v1h-1zM417 272h1v1h-1zM403 252h1v1h-1zM414 264h1v1h-1zM399 259h1v1h-1zM409 277h1v1h-1zM409 266h1v1h-1zM404 261h1v1h-1zM413 272h1v1h-1zM405 247h1v1h-1zM396 269h1v1h-1zM424 277h1v1h-1zM410 253h1v1h-1zM416 273h1v1h-1zM403 267h1v1h-1zM420 276h1v1h-1zM403 248h1v1h-1zM401 266h1v1h-1zM395 267h1v1h-1zM405 255h1v1h-1zM411 259h1v1h-1zM403 272h1v1h-1zM418 250h1v1h-1zM412 249h1v1h-1zM404 272h1v1h-1zM408 246h1v1h-1zM422 263h1v1h-1zM398 257h1v1h-1zM421 274h1v1h-1zM411 257h1v1h-1zM412 266h1v1h-1zM417 274h1v1h-1zM411 263h1v1h-1zM403 251h1v1h-1zM422 279h1v1h-1zM415 279h1v1h-1zM403 257h1v1h-1zM411 277h1v1h-1zM413 271h1v1h-1zM410 255h1v1h-1zM396 272h1v1h-1zM406 250h1v1h-1zM421 260h1v1h-1zM408 260h1v1h-1zM404 259h1v1h-1zM403 255h1v1h-1zM409 267h1v1h-1zM407 259h1v1h-1zM404 260h1v1h-1zM410 263h1v1h-1zM413 266h1v1h-1zM408 264h1v1h-1zM415 259h1v1h-1zM408 262h1v1h-1zM407 268h1v1h-1zM414 255h1v1h-1zM409 255h1v1h-1zM400 263h1v1h-1zM405 257h1v1h-1zM411 270h1v1h-1zM414 265h1v1h-1zM406 263h1v1h-1zM415 262h1v1h-1zM412 263h1v1h-1zM402 257h1v1h-1zM401 262h1v1h-1zM401 257h1v1h-1zM404 262h1v1h-1zM412 265h1v1h-1zM410 265h1v1h-1zM407 262h1v1h-1zM409 261h1v1h-1zM412 257h1v1h-1zM415 257h1v1h-1zM412 258h1v1h-1zM408 259h1v1h-1zM410 262h1v1h-1zM411 269h1v1h-1zM404 258h1v1h-1zM410 266h1v1h-1zM412 256h1v1h-1zM402 258h1v1h-1zM412 262h1v1h-1zM403 260h1v1h-1zM411 262h1v1h-1zM413 259h1v1h-1zM417 265h1v1h-1zM402 266h1v1h-1zM406 261h1v1h-1zM409 259h1v1h-1zM406 253h1v1h-1zM409 271h1v1h-1zM412 259h1v1h-1zM404 255h1v1h-1zM401 258h1v1h-1zM408 267h1v1h-1zM409 263h1v1h-1zM409 270h1v1h-1zM414 261h1v1h-1zM407 261h1v1h-1zM402 267h1v1h-1zM407 257h1v1h-1zM401 259h1v1h-1zM413 267h1v1h-1zM402 256h1v1h-1zM411 264h1v1h-1zM413 265h1v1h-1zM403 268h1v1h-1zM408 257h1v1h-1zM407 266h1v1h-1zM413 255h1v1h-1zM404 265h1v1h-1zM408 266h1v1h-1zM401 264h1v1h-1zM412 267h1v1h-1zM407 258h1v1h-1zM401 256h1v1h-1zM406 255h1v1h-1zM404 268h1v1h-1zM414 262h1v1h-1zM408 263h1v1h-1zM413 270h1v1h-1zM410 260h1v1h-1zM405 252h1v1h-1zM403 262h1v1h-1zM406 268h1v1h-1zM413 260h1v1h-1zM402 259h1v1h-1zM406 266h1v1h-1zM405 258h1v1h-1zM409 265h1v1h-1zM403 261h1v1h-1zM410 261h1v1h-1zM406 254h1v1h-1zM408 269h1v1h-1zM433 304h1v1h-1zM453 303h1v1h-1zM445 313h1v1h-1zM435 283h1v1h-1zM443 295h1v1h-1zM439 313h1v1h-1zM427 315h1v1h-1zM437 290h1v1h-1zM451 310h1v1h-1zM422 284h1v1h-1zM440 306h1v1h-1zM428 279h1v1h-1zM437 310h1v1h-1zM438 309h1v1h-1zM426 287h1v1h-1zM438 295h1v1h-1zM441 301h1v1h-1zM440 312h1v1h-1zM449 302h1v1h-1zM441 317h1v1h-1zM437 283h1v1h-1zM441 309h1v1h-1zM428 303h1v1h-1zM457 306h1v1h-1zM429 311h1v1h-1zM430 306h1v1h-1zM434 292h1v1h-1zM448 287h1v1h-1zM425 305h1v1h-1zM431 314h1v1h-1zM448 313h1v1h-1zM431 315h1v1h-1zM439 317h1v1h-1zM444 313h1v1h-1zM438 311h1v1h-1zM426 290h1v1h-1zM444 303h1v1h-1zM436 306h1v1h-1zM424 305h1v1h-1zM447 307h1v1h-1zM440 310h1v1h-1zM451 305h1v1h-1zM448 316h1v1h-1zM446 317h1v1h-1zM443 321h1v1h-1zM427 292h1v1h-1zM435 297h1v1h-1zM423 283h1v1h-1zM440 298h1v1h-1zM457 307h1v1h-1zM456 303h1v1h-1zM446 306h1v1h-1zM437 294h1v1h-1zM441 296h1v1h-1zM438 284h1v1h-1zM450 303h1v1h-1zM447 288h1v1h-1zM438 297h1v1h-1zM424 283h1v1h-1zM443 316h1v1h-1zM423 291h1v1h-1zM447 295h1v1h-1zM437 298h1v1h-1zM448 293h1v1h-1zM451 306h1v1h-1zM439 286h1v1h-1zM428 293h1v1h-1zM426 313h1v1h-1zM435 282h1v1h-1zM428 299h1v1h-1zM434 294h1v1h-1zM435 287h1v1h-1zM447 292h1v1h-1zM431 290h1v1h-1zM434 309h1v1h-1zM422 301h1v1h-1zM432 308h1v1h-1zM451 308h1v1h-1zM428 312h1v1h-1zM436 289h1v1h-1zM440 323h1v1h-1zM441 319h1v1h-1zM433 294h1v1h-1zM428 284h1v1h-1zM431 289h1v1h-1zM445 294h1v1h-1zM444 302h1v1h-1zM436 300h1v1h-1zM442 303h1v1h-1zM445 297h1v1h-1zM445 291h1v1h-1zM438 314h1v1h-1zM441 282h1v1h-1zM449 295h1v1h-1zM453 304h1v1h-1zM426 285h1v1h-1zM444 311h1v1h-1zM434 311h1v1h-1zM424 300h1v1h-1zM448 301h1v1h-1zM449 316h1v1h-1zM429 309h1v1h-1zM457 299h1v1h-1zM424 287h1v1h-1zM425 308h1v1h-1zM445 306h1v1h-1zM426 294h1v1h-1zM441 300h1v1h-1zM430 311h1v1h-1zM446 314h1v1h-1zM430 295h1v1h-1zM449 306h1v1h-1zM428 313h1v1h-1zM440 305h1v1h-1zM432 299h1v1h-1zM446 313h1v1h-1zM430 318h1v1h-1zM431 291h1v1h-1zM446 319h1v1h-1zM450 288h1v1h-1zM441 311h1v1h-1zM444 306h1v1h-1zM433 295h1v1h-1zM430 283h1v1h-1zM442 291h1v1h-1zM429 303h1v1h-1zM428 298h1v1h-1zM434 283h1v1h-1zM441 290h1v1h-1zM438 306h1v1h-1zM437 302h1v1h-1zM433 301h1v1h-1zM446 297h1v1h-1zM439 281h1v1h-1zM432 303h1v1h-1zM424 302h1v1h-1zM445 302h1v1h-1zM422 283h1v1h-1zM450 312h1v1h-1zM439 293h1v1h-1zM429 298h1v1h-1zM454 308h1v1h-1zM444 308h1v1h-1zM442 315h1v1h-1zM436 315h1v1h-1zM438 300h1v1h-1zM434 282h1v1h-1zM445 300h1v1h-1zM439 301h1v1h-1zM443 297h1v1h-1zM432 283h1v1h-1zM452 311h1v1h-1zM434 312h1v1h-1zM425 303h1v1h-1zM432 291h1v1h-1zM445 298h1v1h-1zM432 289h1v1h-1zM444 315h1v1h-1zM454 304h1v1h-1zM427 313h1v1h-1zM451 293h1v1h-1zM433 288h1v1h-1zM449 294h1v1h-1zM447 289h1v1h-1zM426 284h1v1h-1zM433 299h1v1h-1zM426 295h1v1h-1zM448 311h1v1h-1zM437 295h1v1h-1zM430 291h1v1h-1zM435 284h1v1h-1zM429 291h1v1h-1zM449 288h1v1h-1zM431 308h1v1h-1zM437 319h1v1h-1zM427 297h1v1h-1zM441 293h1v1h-1zM429 306h1v1h-1zM450 305h1v1h-1zM453 306h1v1h-1zM432 309h1v1h-1zM430 304h1v1h-1zM433 297h1v1h-1zM446 292h1v1h-1zM434 323h1v1h-1zM455 299h1v1h-1zM447 314h1v1h-1zM427 283h1v1h-1zM426 302h1v1h-1zM443 284h1v1h-1zM441 298h1v1h-1zM435 308h1v1h-1zM430 297h1v1h-1zM429 301h1v1h-1zM430 288h1v1h-1zM446 295h1v1h-1zM435 317h1v1h-1zM437 307h1v1h-1zM438 310h1v1h-1zM453 315h1v1h-1zM429 316h1v1h-1zM432 292h1v1h-1zM425 288h1v1h-1zM430 281h1v1h-1zM433 302h1v1h-1zM440 283h1v1h-1zM440 301h1v1h-1zM445 311h1v1h-1zM436 284h1v1h-1zM439 306h1v1h-1zM446 299h1v1h-1zM431 284h1v1h-1zM422 282h1v1h-1zM447 313h1v1h-1zM431 298h1v1h-1zM447 305h1v1h-1zM431 286h1v1h-1zM433 291h1v1h-1zM432 311h1v1h-1zM430 316h1v1h-1zM431 311h1v1h-1zM449 301h1v1h-1zM446 284h1v1h-1zM429 315h1v1h-1zM430 312h1v1h-1zM443 298h1v1h-1zM440 290h1v1h-1zM430 292h1v1h-1zM444 301h1v1h-1zM454 298h1v1h-1zM436 307h1v1h-1zM425 295h1v1h-1zM449 296h1v1h-1zM442 286h1v1h-1zM445 280h1v1h-1zM422 302h1v1h-1zM439 285h1v1h-1zM434 316h1v1h-1zM440 288h1v1h-1zM457 295h1v1h-1zM454 305h1v1h-1zM431 287h1v1h-1zM440 304h1v1h-1zM430 284h1v1h-1zM430 299h1v1h-1zM436 286h1v1h-1zM431 302h1v1h-1zM451 311h1v1h-1zM444 299h1v1h-1zM432 298h1v1h-1zM453 317h1v1h-1zM439 303h1v1h-1zM447 297h1v1h-1zM429 284h1v1h-1zM427 280h1v1h-1zM443 303h1v1h-1zM431 309h1v1h-1zM428 318h1v1h-1zM452 302h1v1h-1zM429 297h1v1h-1zM451 295h1v1h-1zM437 313h1v1h-1zM437 311h1v1h-1zM431 307h1v1h-1zM432 288h1v1h-1zM437 308h1v1h-1zM446 305h1v1h-1zM433 281h1v1h-1zM449 311h1v1h-1zM450 315h1v1h-1zM444 287h1v1h-1zM440 284h1v1h-1zM443 319h1v1h-1zM428 296h1v1h-1zM443 293h1v1h-1zM446 318h1v1h-1zM444 300h1v1h-1zM451 291h1v1h-1zM445 292h1v1h-1zM428 314h1v1h-1zM439 308h1v1h-1zM427 290h1v1h-1zM437 315h1v1h-1zM425 312h1v1h-1zM432 287h1v1h-1zM445 301h1v1h-1zM449 291h1v1h-1zM435 315h1v1h-1zM448 307h1v1h-1zM428 311h1v1h-1zM430 300h1v1h-1zM427 307h1v1h-1zM441 288h1v1h-1zM450 309h1v1h-1zM438 288h1v1h-1zM450 295h1v1h-1zM437 286h1v1h-1zM450 294h1v1h-1zM432 310h1v1h-1zM434 297h1v1h-1zM442 289h1v1h-1zM433 287h1v1h-1zM434 284h1v1h-1zM438 307h1v1h-1zM436 309h1v1h-1zM449 292h1v1h-1zM429 304h1v1h-1zM440 309h1v1h-1zM434 313h1v1h-1zM445 318h1v1h-1zM433 315h1v1h-1zM429 289h1v1h-1zM432 312h1v1h-1zM443 315h1v1h-1zM439 319h1v1h-1zM438 293h1v1h-1zM449 289h1v1h-1zM441 316h1v1h-1zM440 315h1v1h-1zM427 285h1v1h-1zM433 316h1v1h-1zM424 290h1v1h-1zM434 305h1v1h-1zM448 308h1v1h-1zM445 286h1v1h-1zM451 290h1v1h-1zM450 304h1v1h-1zM427 293h1v1h-1zM442 298h1v1h-1zM433 312h1v1h-1zM422 285h1v1h-1zM454 309h1v1h-1zM442 308h1v1h-1zM437 316h1v1h-1zM431 318h1v1h-1zM451 299h1v1h-1zM436 297h1v1h-1zM452 295h1v1h-1zM429 294h1v1h-1zM438 305h1v1h-1zM448 305h1v1h-1zM452 306h1v1h-1zM440 294h1v1h-1zM438 285h1v1h-1zM437 287h1v1h-1zM442 310h1v1h-1zM447 308h1v1h-1zM445 308h1v1h-1zM438 287h1v1h-1zM432 301h1v1h-1zM426 282h1v1h-1zM447 310h1v1h-1zM434 306h1v1h-1zM446 300h1v1h-1zM442 312h1v1h-1zM443 294h1v1h-1zM440 289h1v1h-1zM434 298h1v1h-1zM438 308h1v1h-1zM437 300h1v1h-1zM434 308h1v1h-1zM438 301h1v1h-1zM435 307h1v1h-1zM440 300h1v1h-1zM425 292h1v1h-1zM453 300h1v1h-1zM446 303h1v1h-1zM445 312h1v1h-1zM430 301h1v1h-1zM441 279h1v1h-1zM441 294h1v1h-1zM443 288h1v1h-1zM444 291h1v1h-1zM425 284h1v1h-1zM434 286h1v1h-1zM435 321h1v1h-1zM432 296h1v1h-1zM434 287h1v1h-1zM445 284h1v1h-1zM433 311h1v1h-1zM420 287h1v1h-1zM437 284h1v1h-1zM453 310h1v1h-1zM437 309h1v1h-1zM431 294h1v1h-1zM440 297h1v1h-1zM436 294h1v1h-1zM432 305h1v1h-1zM428 301h1v1h-1zM433 300h1v1h-1zM430 305h1v1h-1zM432 294h1v1h-1zM432 307h1v1h-1zM431 310h1v1h-1zM431 306h1v1h-1zM434 302h1v1h-1zM434 299h1v1h-1zM435 304h1v1h-1zM433 305h1v1h-1zM433 292h1v1h-1zM438 299h1v1h-1zM426 293h1v1h-1zM429 307h1v1h-1zM429 296h1v1h-1zM436 293h1v1h-1zM433 307h1v1h-1zM431 293h1v1h-1zM436 301h1v1h-1zM440 296h1v1h-1zM430 296h1v1h-1zM433 298h1v1h-1zM438 296h1v1h-1zM435 294h1v1h-1zM430 303h1v1h-1zM434 303h1v1h-1zM427 304h1v1h-1zM435 306h1v1h-1zM435 303h1v1h-1zM433 303h1v1h-1zM433 290h1v1h-1zM429 300h1v1h-1zM436 304h1v1h-1zM436 303h1v1h-1zM439 297h1v1h-1zM431 292h1v1h-1zM431 300h1v1h-1zM439 302h1v1h-1zM439 295h1v1h-1zM436 298h1v1h-1zM433 296h1v1h-1zM430 298h1v1h-1zM429 295h1v1h-1zM431 305h1v1h-1zM434 296h1v1h-1zM436 296h1v1h-1zM437 303h1v1h-1zM439 304h1v1h-1zM436 305h1v1h-1zM431 301h1v1h-1zM439 299h1v1h-1zM434 300h1v1h-1zM426 301h1v1h-1zM429 293h1v1h-1zM431 296h1v1h-1zM428 302h1v1h-1zM438 298h1v1h-1zM429 299h1v1h-1zM435 305h1v1h-1zM427 296h1v1h-1zM435 295h1v1h-1zM432 306h1v1h-1zM438 294h1v1h-1zM427 303h1v1h-1zM434 301h1v1h-1zM426 297h1v1h-1zM434 293h1v1h-1zM428 295h1v1h-1zM432 293h1v1h-1zM431 297h1v1h-1zM437 299h1v1h-1zM434 295h1v1h-1zM435 298h1v1h-1zM437 301h1v1h-1zM436 308h1v1h-1zM435 299h1v1h-1zM430 307h1v1h-1zM432 297h1v1h-1zM428 297h1v1h-1zM431 295h1v1h-1zM430 302h1v1h-1zM428 306h1v1h-1zM427 302h1v1h-1zM435 301h1v1h-1zM427 295h1v1h-1zM427 301h1v1h-1zM436 302h1v1h-1zM440 302h1v1h-1zM433 308h1v1h-1zM437 304h1v1h-1zM433 293h1v1h-1zM435 300h1v1h-1zM434 304h1v1h-1zM428 294h1v1h-1zM430 294h1v1h-1zM434 291h1v1h-1zM428 308h1v1h-1zM427 306h1v1h-1zM429 290h1v1h-1zM431 299h1v1h-1zM426 300h1v1h-1zM434 307h1v1h-1zM418 283h1v1h-1zM420 273h1v1h-1zM416 280h1v1h-1zM419 280h1v1h-1zM419 272h1v1h-1zM419 276h1v1h-1zM420 282h1v1h-1zM425 273h1v1h-1zM421 282h1v1h-1zM423 280h1v1h-1zM414 280h1v1h-1zM418 278h1v1h-1zM422 277h1v1h-1zM417 286h1v1h-1zM419 278h1v1h-1zM415 285h1v1h-1zM409 273h1v1h-1zM418 286h1v1h-1zM418 285h1v1h-1zM419 275h1v1h-1zM409 280h1v1h-1zM419 284h1v1h-1zM421 278h1v1h-1zM423 284h1v1h-1zM418 277h1v1h-1zM418 280h1v1h-1zM416 282h1v1h-1zM414 289h1v1h-1zM419 287h1v1h-1zM415 278h1v1h-1zM422 274h1v1h-1zM422 278h1v1h-1zM417 271h1v1h-1zM430 285h1v1h-1zM412 285h1v1h-1zM412 276h1v1h-1zM418 289h1v1h-1zM417 283h1v1h-1zM423 277h1v1h-1zM420 278h1v1h-1zM420 281h1v1h-1zM412 278h1v1h-1zM419 288h1v1h-1zM414 275h1v1h-1zM410 274h1v1h-1zM424 281h1v1h-1zM423 279h1v1h-1zM423 259h1v1h-1zM439 253h1v1h-1zM434 250h1v1h-1zM425 270h1v1h-1zM426 270h1v1h-1zM428 267h1v1h-1zM441 265h1v1h-1zM442 260h1v1h-1zM429 256h1v1h-1zM440 264h1v1h-1zM431 273h1v1h-1zM451 267h1v1h-1zM436 262h1v1h-1zM442 279h1v1h-1zM429 266h1v1h-1zM431 275h1v1h-1zM428 259h1v1h-1zM439 258h1v1h-1zM426 252h1v1h-1zM437 273h1v1h-1zM442 258h1v1h-1zM431 269h1v1h-1zM434 249h1v1h-1zM427 278h1v1h-1zM428 280h1v1h-1zM445 272h1v1h-1zM439 273h1v1h-1zM449 276h1v1h-1zM435 275h1v1h-1zM430 258h1v1h-1zM434 265h1v1h-1zM426 259h1v1h-1zM421 263h1v1h-1zM436 277h1v1h-1zM427 273h1v1h-1zM437 255h1v1h-1zM438 260h1v1h-1zM445 271h1v1h-1zM423 258h1v1h-1zM437 279h1v1h-1zM429 263h1v1h-1zM448 281h1v1h-1zM431 248h1v1h-1zM435 255h1v1h-1zM431 250h1v1h-1zM428 257h1v1h-1zM445 273h1v1h-1zM437 258h1v1h-1zM442 274h1v1h-1zM451 281h1v1h-1zM436 278h1v1h-1zM439 276h1v1h-1zM437 269h1v1h-1zM439 268h1v1h-1zM437 265h1v1h-1zM438 256h1v1h-1zM452 282h1v1h-1zM432 253h1v1h-1zM446 279h1v1h-1zM441 277h1v1h-1zM426 269h1v1h-1zM432 258h1v1h-1zM435 279h1v1h-1zM434 267h1v1h-1zM427 277h1v1h-1zM445 260h1v1h-1zM427 263h1v1h-1zM451 274h1v1h-1zM435 265h1v1h-1zM426 274h1v1h-1zM426 257h1v1h-1zM429 278h1v1h-1zM436 272h1v1h-1zM438 277h1v1h-1zM443 272h1v1h-1zM452 275h1v1h-1zM443 266h1v1h-1zM426 277h1v1h-1zM436 266h1v1h-1zM451 264h1v1h-1zM440 257h1v1h-1zM435 249h1v1h-1zM441 255h1v1h-1zM436 250h1v1h-1zM429 262h1v1h-1zM424 271h1v1h-1zM451 266h1v1h-1zM445 278h1v1h-1zM437 276h1v1h-1zM446 265h1v1h-1zM432 265h1v1h-1zM425 254h1v1h-1zM444 262h1v1h-1zM435 253h1v1h-1zM446 260h1v1h-1zM436 251h1v1h-1zM425 277h1v1h-1zM426 254h1v1h-1zM436 267h1v1h-1zM432 278h1v1h-1zM427 268h1v1h-1zM426 271h1v1h-1zM436 261h1v1h-1zM449 266h1v1h-1zM445 265h1v1h-1zM427 267h1v1h-1zM438 263h1v1h-1zM433 280h1v1h-1zM434 269h1v1h-1zM425 275h1v1h-1zM428 277h1v1h-1zM442 263h1v1h-1zM433 268h1v1h-1zM430 262h1v1h-1zM439 256h1v1h-1zM430 267h1v1h-1zM421 264h1v1h-1zM429 254h1v1h-1zM429 275h1v1h-1zM428 281h1v1h-1zM441 280h1v1h-1zM421 256h1v1h-1zM434 256h1v1h-1zM447 270h1v1h-1zM441 252h1v1h-1zM445 266h1v1h-1zM427 271h1v1h-1zM432 276h1v1h-1zM422 249h1v1h-1zM444 275h1v1h-1zM439 251h1v1h-1zM445 269h1v1h-1zM430 278h1v1h-1zM440 278h1v1h-1zM435 257h1v1h-1zM446 277h1v1h-1zM439 260h1v1h-1zM444 278h1v1h-1zM437 277h1v1h-1zM434 270h1v1h-1zM430 268h1v1h-1zM447 265h1v1h-1zM434 278h1v1h-1zM433 250h1v1h-1zM429 276h1v1h-1zM452 274h1v1h-1zM426 256h1v1h-1zM448 273h1v1h-1zM435 254h1v1h-1zM448 279h1v1h-1zM437 270h1v1h-1zM449 279h1v1h-1zM451 271h1v1h-1zM438 278h1v1h-1zM439 264h1v1h-1zM449 274h1v1h-1zM435 280h1v1h-1zM439 265h1v1h-1zM436 253h1v1h-1zM439 259h1v1h-1zM432 263h1v1h-1zM429 270h1v1h-1zM437 278h1v1h-1zM429 258h1v1h-1zM451 272h1v1h-1zM447 264h1v1h-1zM445 274h1v1h-1zM437 256h1v1h-1zM436 258h1v1h-1zM427 276h1v1h-1zM442 253h1v1h-1zM436 280h1v1h-1zM452 269h1v1h-1zM444 271h1v1h-1zM426 262h1v1h-1zM435 260h1v1h-1zM440 250h1v1h-1zM401 301h1v1h-1zM416 297h1v1h-1zM416 293h1v1h-1zM419 301h1v1h-1zM415 314h1v1h-1zM390 318h1v1h-1zM401 318h1v1h-1zM405 274h1v1h-1zM416 291h1v1h-1zM425 287h1v1h-1zM391 322h1v1h-1zM430 324h1v1h-1zM406 288h1v1h-1zM412 311h1v1h-1zM410 295h1v1h-1zM427 294h1v1h-1zM421 320h1v1h-1zM415 292h1v1h-1zM407 302h1v1h-1zM421 301h1v1h-1zM414 318h1v1h-1zM394 282h1v1h-1zM414 290h1v1h-1zM406 318h1v1h-1zM423 313h1v1h-1zM392 300h1v1h-1zM406 295h1v1h-1zM431 329h1v1h-1zM421 327h1v1h-1zM417 303h1v1h-1zM418 254h1v1h-1zM402 285h1v1h-1zM399 288h1v1h-1zM403 306h1v1h-1zM439 305h1v1h-1zM420 300h1v1h-1zM401 293h1v1h-1zM405 324h1v1h-1zM399 260h1v1h-1zM422 294h1v1h-1zM398 306h1v1h-1zM403 288h1v1h-1zM401 276h1v1h-1zM398 300h1v1h-1zM405 306h1v1h-1zM407 334h1v1h-1zM437 282h1v1h-1zM423 309h1v1h-1zM419 320h1v1h-1zM401 323h1v1h-1zM392 276h1v1h-1zM410 292h1v1h-1zM408 294h1v1h-1zM451 320h1v1h-1zM437 317h1v1h-1zM450 310h1v1h-1zM454 325h1v1h-1zM445 319h1v1h-1zM445 325h1v1h-1zM446 312h1v1h-1zM439 325h1v1h-1zM425 325h1v1h-1zM444 319h1v1h-1zM434 321h1v1h-1zM441 313h1v1h-1zM439 307h1v1h-1zM440 326h1v1h-1zM435 314h1v1h-1zM442 311h1v1h-1zM447 315h1v1h-1zM454 321h1v1h-1zM448 319h1v1h-1zM451 319h1v1h-1zM441 315h1v1h-1zM442 321h1v1h-1zM437 327h1v1h-1zM436 310h1v1h-1zM439 320h1v1h-1z"/>
<rect x="384.3" y="210" width="122.6" height="132.1" fill="none" stroke="#000" stroke-width="1.35"/>
<path d="M424.2 210 V342.1 M384.3 279.3 H506.9" stroke="#000" stroke-width="1" fill="none"/>
<path d="M384.3 342.1 v4.8 M384.3 342.1 h-4.8 M393.53 342.1 v3.0 M384.3 332.16 h-3.0 M398.92 342.1 v3.0 M384.3 326.34 h-3.0 M402.75 342.1 v3.0 M384.3 322.22 h-3.0 M405.72 342.1 v3.0 M384.3 319.02 h-3.0 M408.15 342.1 v3.0 M384.3 316.4 h-3.0 M410.2 342.1 v3.0 M384.3 314.19 h-3.0 M411.98 342.1 v3.0 M384.3 312.28 h-3.0 M413.55 342.1 v3.0 M384.3 310.59 h-3.0 M414.95 342.1 v4.8 M384.3 309.08 h-4.8 M424.18 342.1 v3.0 M384.3 299.13 h-3.0 M429.57 342.1 v3.0 M384.3 293.32 h-3.0 M433.4 342.1 v3.0 M384.3 289.19 h-3.0 M436.37 342.1 v3.0 M384.3 285.99 h-3.0 M438.8 342.1 v3.0 M384.3 283.38 h-3.0 M440.85 342.1 v3.0 M384.3 281.17 h-3.0 M442.63 342.1 v3.0 M384.3 279.25 h-3.0 M444.2 342.1 v3.0 M384.3 277.56 h-3.0 M445.6 342.1 v4.8 M384.3 276.05 h-4.8 M454.83 342.1 v3.0 M384.3 266.11 h-3.0 M460.22 342.1 v3.0 M384.3 260.29 h-3.0 M464.05 342.1 v3.0 M384.3 256.17 h-3.0 M467.02 342.1 v3.0 M384.3 252.97 h-3.0 M469.45 342.1 v3.0 M384.3 250.35 h-3.0 M471.5 342.1 v3.0 M384.3 248.14 h-3.0 M473.28 342.1 v3.0 M384.3 246.23 h-3.0 M474.85 342.1 v3.0 M384.3 244.54 h-3.0 M476.25 342.1 v4.8 M384.3 243.03 h-4.8 M485.48 342.1 v3.0 M384.3 233.08 h-3.0 M490.87 342.1 v3.0 M384.3 227.27 h-3.0 M494.7 342.1 v3.0 M384.3 223.14 h-3.0 M497.67 342.1 v3.0 M384.3 219.94 h-3.0 M500.1 342.1 v3.0 M384.3 217.33 h-3.0 M502.15 342.1 v3.0 M384.3 215.12 h-3.0 M503.93 342.1 v3.0 M384.3 213.2 h-3.0 M505.5 342.1 v3.0 M384.3 211.51 h-3.0 M506.9 342.1 v4.8 M384.3 210 h-4.8" stroke="#000" stroke-width="1.05" fill="none"/>
<use href="#g1s" transform="translate(374.86,358) scale(0.00527,-0.00527)"/><text x="380.87" y="358" font-size="10.8" stroke-width="0.05">0</text><text x="387.57" y="352.6" font-size="8.5" stroke-width="0.05">0</text>
<use href="#g1s" transform="translate(405.51,358) scale(0.00527,-0.00527)"/><text x="411.52" y="358" font-size="10.8" stroke-width="0.05">0</text><use href="#g1s" transform="translate(417.73,352.6) scale(0.00415,-0.00415)"/>
<use href="#g1s" transform="translate(436.16,358) scale(0.00527,-0.00527)"/><text x="442.17" y="358" font-size="10.8" stroke-width="0.05">0</text><text x="448.77" y="352.6" font-size="8.5" stroke-width="0.05">2</text>
<use href="#g1s" transform="translate(466.81,358) scale(0.00527,-0.00527)"/><text x="472.82" y="358" font-size="10.8" stroke-width="0.05">0</text><text x="479.53" y="352.6" font-size="8.5" stroke-width="0.05">3</text>
<use href="#g1s" transform="translate(497.46,358) scale(0.00527,-0.00527)"/><text x="503.47" y="358" font-size="10.8" stroke-width="0.05">0</text><text x="510.3" y="352.6" font-size="8.5" stroke-width="0.05">4</text>
<g transform="translate(377.1,342.1) rotate(-90)"><use href="#g1s" transform="translate(-10.24,0) scale(0.00527,-0.00527)"/><text x="-4.23" y="0" font-size="10.8" stroke-width="0.05">0</text><text x="2.67" y="-5.3" font-size="8.5" stroke-width="0.05">0</text></g>
<g transform="translate(377.1,309.08) rotate(-90)"><use href="#g1s" transform="translate(-10.24,0) scale(0.00527,-0.00527)"/><text x="-4.23" y="0" font-size="10.8" stroke-width="0.05">0</text><use href="#g1s" transform="translate(2.18,-5.3) scale(0.00415,-0.00415)"/></g>
<g transform="translate(377.1,276.05) rotate(-90)"><use href="#g1s" transform="translate(-10.24,0) scale(0.00527,-0.00527)"/><text x="-4.23" y="0" font-size="10.8" stroke-width="0.05">0</text><text x="2.57" y="-5.3" font-size="8.5" stroke-width="0.05">2</text></g>
<g transform="translate(377.1,243.03) rotate(-90)"><use href="#g1s" transform="translate(-10.24,0) scale(0.00527,-0.00527)"/><text x="-4.23" y="0" font-size="10.8" stroke-width="0.05">0</text><text x="2.68" y="-5.3" font-size="8.5" stroke-width="0.05">3</text></g>
<g transform="translate(377.1,214.2) rotate(-90)"><use href="#g1s" transform="translate(-10.24,0) scale(0.00527,-0.00527)"/><text x="-4.23" y="0" font-size="10.8" stroke-width="0.05">0</text><text x="2.8" y="-5.3" font-size="8.5" stroke-width="0.05">4</text></g>
<text x="426.51" y="204.8" font-size="19.2">TNF</text>
<text x="392.28" y="228.3" font-size="14.8">30.5</text>
<text x="480.59" y="228.3" font-size="14.8">9.3</text>
<text x="390.61" y="337.1" font-size="14.8">6.2</text>
<text x="484.36" y="337.1" font-size="14.8">50</text>
</g></svg></body></html>
